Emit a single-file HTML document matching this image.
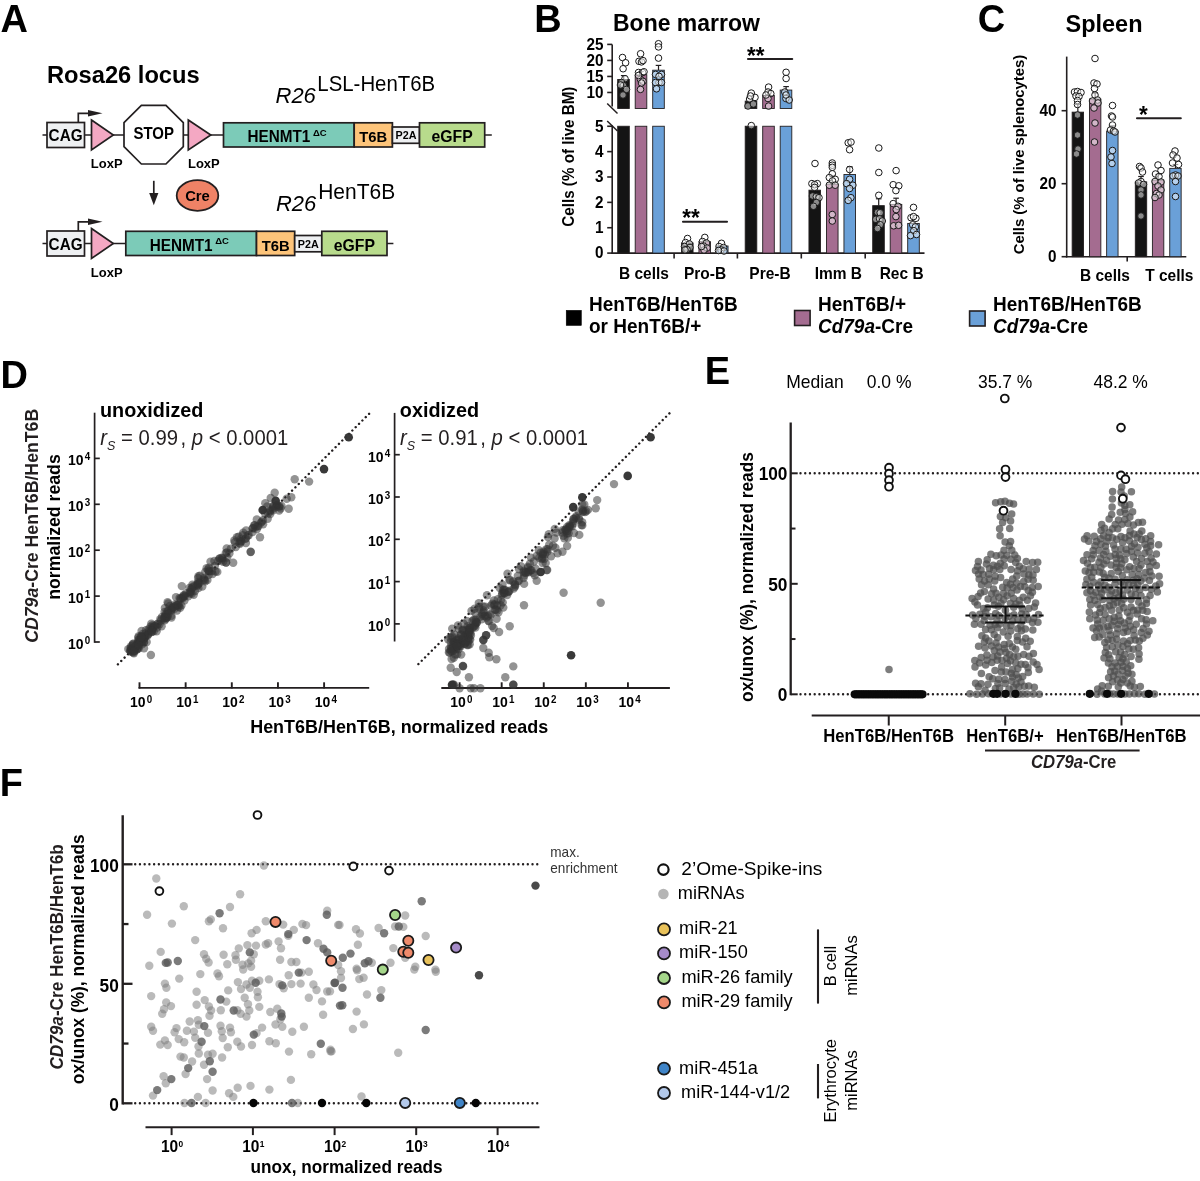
<!DOCTYPE html>
<html><head><meta charset="utf-8"><style>
html,body{margin:0;padding:0;background:#fff;}
svg{display:block;} .w{will-change:transform;}
text{font-family:"Liberation Sans", sans-serif;}
</style></head><body>
<div class="w"><svg width="1200" height="1181" viewBox="0 0 1200 1181">
<rect width="1200" height="1181" fill="#ffffff"/>
<text transform="translate(0.50 31.90) scale(1 1.045) translate(-0.50 -31.90)" x="0.50" y="31.90" font-size="38" font-weight="bold">A</text>
<text transform="translate(47.00 83.40) scale(1 1.045) translate(-47.00 -83.40)" x="47.00" y="83.40" font-size="23.7" font-weight="bold">Rosa26 locus</text>
<line x1="42.50" y1="135.00" x2="491.80" y2="135.00" stroke="#231f20" stroke-width="1.7"/>
<rect x="47.00" y="122.50" width="37.50" height="25.00" fill="#eef0f2" stroke="#231f20" stroke-width="1.7"/>
<text transform="translate(65.60 141.30) scale(1 1.045) translate(-65.60 -141.30)" x="65.60" y="141.30" font-size="15.3" font-weight="bold" text-anchor="middle">CAG</text>
<path d="M78.3,122.50 V113.30 H90" fill="none" stroke="#231f20" stroke-width="1.7"/>
<polygon points="88,110.00 102.5,113.30 88,116.60" fill="#231f20"/>
<polygon points="91.50,120.00 113.30,135.00 91.50,150.00" fill="#f4a8c3" stroke="#231f20" stroke-width="1.7"/>
<text transform="translate(90.80 168.30) scale(1 1.045) translate(-90.80 -168.30)" x="90.80" y="168.30" font-size="13" font-weight="bold">LoxP</text>
<polygon points="141.37,105.30 165.93,105.30 183.30,122.67 183.30,146.63 165.93,164.00 141.37,164.00 124.00,146.63 124.00,122.67" fill="#ffffff" stroke="#231f20" stroke-width="1.7"/>
<text transform="translate(153.70 138.80) scale(1 1.045) translate(-153.70 -138.80)" x="153.70" y="138.80" font-size="15" font-weight="bold" text-anchor="middle">STOP</text>
<polygon points="188.30,120.00 210.80,135.00 188.30,150.00" fill="#f4a8c3" stroke="#231f20" stroke-width="1.7"/>
<text transform="translate(188.00 168.30) scale(1 1.045) translate(-188.00 -168.30)" x="188.00" y="168.30" font-size="13" font-weight="bold">LoxP</text>
<rect x="223.50" y="122.80" width="130.70" height="24.20" fill="#7ccbb8" stroke="#231f20" stroke-width="1.7"/>
<text transform="translate(247.50 142.20) scale(1 1.045) translate(-247.50 -142.20)" x="247.50" y="142.20" font-size="15.3" font-weight="bold">HENMT1</text>
<text transform="translate(312.90 136.00) scale(1 1.045) translate(-312.90 -136.00)" x="312.90" y="136.00" font-size="9.5" font-weight="bold">ΔC</text>
<rect x="354.20" y="122.80" width="38.20" height="24.20" fill="#fdc47a" stroke="#231f20" stroke-width="1.7"/>
<text transform="translate(373.30 142.20) scale(1 1.045) translate(-373.30 -142.20)" x="373.30" y="142.20" font-size="14.8" font-weight="bold" text-anchor="middle">T6B</text>
<rect x="392.40" y="127.00" width="27.10" height="16.30" fill="#eef0f2" stroke="#231f20" stroke-width="1.7"/>
<text transform="translate(405.95 139.20) scale(1 1.045) translate(-405.95 -139.20)" x="405.95" y="139.20" font-size="10.8" font-weight="bold" text-anchor="middle">P2A</text>
<rect x="419.50" y="122.80" width="65.20" height="24.20" fill="#b8db8c" stroke="#231f20" stroke-width="1.7"/>
<text transform="translate(452.10 142.20) scale(1 1.045) translate(-452.10 -142.20)" x="452.10" y="142.20" font-size="15.8" font-weight="bold" text-anchor="middle">eGFP</text>
<line x1="42.50" y1="243.50" x2="393.40" y2="243.50" stroke="#231f20" stroke-width="1.7"/>
<rect x="47.00" y="231.00" width="37.50" height="25.00" fill="#eef0f2" stroke="#231f20" stroke-width="1.7"/>
<text transform="translate(65.60 249.80) scale(1 1.045) translate(-65.60 -249.80)" x="65.60" y="249.80" font-size="15.3" font-weight="bold" text-anchor="middle">CAG</text>
<path d="M78.3,231.00 V221.80 H90" fill="none" stroke="#231f20" stroke-width="1.7"/>
<polygon points="88,218.50 102.5,221.80 88,225.10" fill="#231f20"/>
<polygon points="91.50,228.50 113.30,243.50 91.50,258.50" fill="#f4a8c3" stroke="#231f20" stroke-width="1.7"/>
<text transform="translate(90.80 276.80) scale(1 1.045) translate(-90.80 -276.80)" x="90.80" y="276.80" font-size="13" font-weight="bold">LoxP</text>
<rect x="125.80" y="231.30" width="130.70" height="24.20" fill="#7ccbb8" stroke="#231f20" stroke-width="1.7"/>
<text transform="translate(149.80 250.70) scale(1 1.045) translate(-149.80 -250.70)" x="149.80" y="250.70" font-size="15.3" font-weight="bold">HENMT1</text>
<text transform="translate(215.20 244.50) scale(1 1.045) translate(-215.20 -244.50)" x="215.20" y="244.50" font-size="9.5" font-weight="bold">ΔC</text>
<rect x="256.50" y="231.30" width="38.20" height="24.20" fill="#fdc47a" stroke="#231f20" stroke-width="1.7"/>
<text transform="translate(275.60 250.70) scale(1 1.045) translate(-275.60 -250.70)" x="275.60" y="250.70" font-size="14.8" font-weight="bold" text-anchor="middle">T6B</text>
<rect x="294.70" y="235.50" width="27.10" height="16.30" fill="#eef0f2" stroke="#231f20" stroke-width="1.7"/>
<text transform="translate(308.25 247.70) scale(1 1.045) translate(-308.25 -247.70)" x="308.25" y="247.70" font-size="10.8" font-weight="bold" text-anchor="middle">P2A</text>
<rect x="321.80" y="231.30" width="65.20" height="24.20" fill="#b8db8c" stroke="#231f20" stroke-width="1.7"/>
<text transform="translate(354.40 250.70) scale(1 1.045) translate(-354.40 -250.70)" x="354.40" y="250.70" font-size="15.8" font-weight="bold" text-anchor="middle">eGFP</text>
<text transform="translate(275.50 103.20) scale(1 1.045) translate(-275.50 -103.20)" x="275.50" y="103.20" font-size="22" font-style="italic">R26</text>
<text transform="translate(317.30 91.50) scale(1 1.045) translate(-317.30 -91.50)" x="317.30" y="91.50" font-size="20.4">LSL-HenT6B</text>
<text transform="translate(276.00 210.80) scale(1 1.045) translate(-276.00 -210.80)" x="276.00" y="210.80" font-size="22" font-style="italic">R26</text>
<text transform="translate(318.20 199.00) scale(1 1.045) translate(-318.20 -199.00)" x="318.20" y="199.00" font-size="21">HenT6B</text>
<line x1="153.80" y1="180.80" x2="153.80" y2="196.00" stroke="#231f20" stroke-width="1.7"/>
<polygon points="149.2,193 158.4,193 153.8,205.3" fill="#231f20"/>
<ellipse cx="197.5" cy="195.5" rx="20.8" ry="15.3" fill="#ef8266" stroke="#231f20" stroke-width="1.8"/>
<text transform="translate(197.50 201.30) scale(1 1.045) translate(-197.50 -201.30)" x="197.50" y="201.30" font-size="14.8" font-weight="bold" text-anchor="middle">Cre</text>
<text transform="translate(534.20 32.00) scale(1 1.045) translate(-534.20 -32.00)" x="534.20" y="32.00" font-size="38" font-weight="bold">B</text>
<text transform="translate(613.00 31.40) scale(1 1.045) translate(-613.00 -31.40)" x="613.00" y="31.40" font-size="23" font-weight="bold">Bone marrow</text>
<line x1="612.20" y1="125.50" x2="612.20" y2="253.90" stroke="#231f20" stroke-width="1.6"/>
<line x1="612.20" y1="44.40" x2="612.20" y2="106.60" stroke="#231f20" stroke-width="1.6"/>
<line x1="611.40" y1="253.10" x2="924.50" y2="253.10" stroke="#231f20" stroke-width="1.6"/>
<line x1="607.20" y1="253.10" x2="612.20" y2="253.10" stroke="#231f20" stroke-width="1.6"/>
<text transform="translate(603.50 258.50) scale(1 1.045) translate(-603.50 -258.50)" x="603.50" y="258.50" font-size="15.3" font-weight="bold" text-anchor="end">0</text>
<line x1="607.20" y1="227.73" x2="612.20" y2="227.73" stroke="#231f20" stroke-width="1.6"/>
<text transform="translate(603.50 233.13) scale(1 1.045) translate(-603.50 -233.13)" x="603.50" y="233.13" font-size="15.3" font-weight="bold" text-anchor="end">1</text>
<line x1="607.20" y1="202.36" x2="612.20" y2="202.36" stroke="#231f20" stroke-width="1.6"/>
<text transform="translate(603.50 207.76) scale(1 1.045) translate(-603.50 -207.76)" x="603.50" y="207.76" font-size="15.3" font-weight="bold" text-anchor="end">2</text>
<line x1="607.20" y1="176.99" x2="612.20" y2="176.99" stroke="#231f20" stroke-width="1.6"/>
<text transform="translate(603.50 182.39) scale(1 1.045) translate(-603.50 -182.39)" x="603.50" y="182.39" font-size="15.3" font-weight="bold" text-anchor="end">3</text>
<line x1="607.20" y1="151.62" x2="612.20" y2="151.62" stroke="#231f20" stroke-width="1.6"/>
<text transform="translate(603.50 157.02) scale(1 1.045) translate(-603.50 -157.02)" x="603.50" y="157.02" font-size="15.3" font-weight="bold" text-anchor="end">4</text>
<line x1="607.20" y1="126.25" x2="612.20" y2="126.25" stroke="#231f20" stroke-width="1.6"/>
<text transform="translate(603.50 131.65) scale(1 1.045) translate(-603.50 -131.65)" x="603.50" y="131.65" font-size="15.3" font-weight="bold" text-anchor="end">5</text>
<line x1="607.20" y1="92.47" x2="612.20" y2="92.47" stroke="#231f20" stroke-width="1.6"/>
<text transform="translate(603.50 97.88) scale(1 1.045) translate(-603.50 -97.88)" x="603.50" y="97.88" font-size="15.3" font-weight="bold" text-anchor="end">10</text>
<line x1="607.20" y1="76.45" x2="612.20" y2="76.45" stroke="#231f20" stroke-width="1.6"/>
<text transform="translate(603.50 81.85) scale(1 1.045) translate(-603.50 -81.85)" x="603.50" y="81.85" font-size="15.3" font-weight="bold" text-anchor="end">15</text>
<line x1="607.20" y1="60.42" x2="612.20" y2="60.42" stroke="#231f20" stroke-width="1.6"/>
<text transform="translate(603.50 65.83) scale(1 1.045) translate(-603.50 -65.83)" x="603.50" y="65.83" font-size="15.3" font-weight="bold" text-anchor="end">20</text>
<line x1="607.20" y1="44.40" x2="612.20" y2="44.40" stroke="#231f20" stroke-width="1.6"/>
<text transform="translate(603.50 49.80) scale(1 1.045) translate(-603.50 -49.80)" x="603.50" y="49.80" font-size="15.3" font-weight="bold" text-anchor="end">25</text>
<line x1="607.20" y1="103.50" x2="617.50" y2="113.50" stroke="#231f20" stroke-width="1.5"/>
<line x1="607.20" y1="121.00" x2="617.50" y2="131.00" stroke="#231f20" stroke-width="1.5"/>
<line x1="674.10" y1="253.10" x2="674.10" y2="258.50" stroke="#231f20" stroke-width="1.6"/>
<line x1="737.40" y1="253.10" x2="737.40" y2="258.50" stroke="#231f20" stroke-width="1.6"/>
<line x1="801.30" y1="253.10" x2="801.30" y2="258.50" stroke="#231f20" stroke-width="1.6"/>
<line x1="865.20" y1="253.10" x2="865.20" y2="258.50" stroke="#231f20" stroke-width="1.6"/>
<text x="574.00" y="156.60" font-size="15.2" font-weight="bold" text-anchor="middle" transform="translate(574.00 156.60) rotate(-90) scale(1 1.045) translate(-574.00 -156.60)">Cells (% of live BM)</text>
<rect x="617.70" y="126.25" width="11.60" height="126.85" fill="#141414" stroke="#231f20" stroke-width="0.9"/>
<rect x="617.70" y="79.49" width="11.60" height="29.01" fill="#141414" stroke="#231f20" stroke-width="0.9"/>
<rect x="635.20" y="126.25" width="11.60" height="126.85" fill="#a46c90" stroke="#231f20" stroke-width="0.9"/>
<rect x="635.20" y="74.69" width="11.60" height="33.81" fill="#a46c90" stroke="#231f20" stroke-width="0.9"/>
<rect x="652.70" y="126.25" width="11.60" height="126.85" fill="#6aa0d8" stroke="#231f20" stroke-width="0.9"/>
<rect x="652.70" y="70.20" width="11.60" height="38.30" fill="#6aa0d8" stroke="#231f20" stroke-width="0.9"/>
<rect x="681.45" y="242.95" width="11.60" height="10.15" fill="#141414" stroke="#231f20" stroke-width="0.9"/>
<rect x="698.95" y="241.68" width="11.60" height="11.42" fill="#a46c90" stroke="#231f20" stroke-width="0.9"/>
<rect x="716.45" y="246.00" width="11.60" height="7.10" fill="#6aa0d8" stroke="#231f20" stroke-width="0.9"/>
<rect x="745.20" y="126.25" width="11.60" height="126.85" fill="#141414" stroke="#231f20" stroke-width="0.9"/>
<rect x="745.20" y="101.13" width="11.60" height="7.37" fill="#141414" stroke="#231f20" stroke-width="0.9"/>
<rect x="762.70" y="126.25" width="11.60" height="126.85" fill="#a46c90" stroke="#231f20" stroke-width="0.9"/>
<rect x="762.70" y="95.52" width="11.60" height="12.98" fill="#a46c90" stroke="#231f20" stroke-width="0.9"/>
<rect x="780.20" y="126.25" width="11.60" height="126.85" fill="#6aa0d8" stroke="#231f20" stroke-width="0.9"/>
<rect x="780.20" y="90.07" width="11.60" height="18.43" fill="#6aa0d8" stroke="#231f20" stroke-width="0.9"/>
<rect x="808.95" y="190.18" width="11.60" height="62.92" fill="#141414" stroke="#231f20" stroke-width="0.9"/>
<rect x="826.45" y="184.09" width="11.60" height="69.01" fill="#a46c90" stroke="#231f20" stroke-width="0.9"/>
<rect x="843.95" y="174.45" width="11.60" height="78.65" fill="#6aa0d8" stroke="#231f20" stroke-width="0.9"/>
<rect x="872.70" y="205.66" width="11.60" height="47.44" fill="#141414" stroke="#231f20" stroke-width="0.9"/>
<rect x="890.20" y="204.39" width="11.60" height="48.71" fill="#a46c90" stroke="#231f20" stroke-width="0.9"/>
<rect x="907.70" y="223.42" width="11.60" height="29.68" fill="#6aa0d8" stroke="#231f20" stroke-width="0.9"/>
<line x1="623.70" y1="75.60" x2="623.70" y2="79.49" stroke="#231f20" stroke-width="1.2"/>
<line x1="620.90" y1="75.60" x2="626.50" y2="75.60" stroke="#231f20" stroke-width="1.2"/>
<line x1="641.00" y1="71.50" x2="641.00" y2="74.69" stroke="#231f20" stroke-width="1.2"/>
<line x1="638.20" y1="71.50" x2="643.80" y2="71.50" stroke="#231f20" stroke-width="1.2"/>
<line x1="658.50" y1="65.40" x2="658.50" y2="70.20" stroke="#231f20" stroke-width="1.2"/>
<line x1="655.70" y1="65.40" x2="661.30" y2="65.40" stroke="#231f20" stroke-width="1.2"/>
<line x1="786.10" y1="86.60" x2="786.10" y2="90.07" stroke="#231f20" stroke-width="1.2"/>
<line x1="783.30" y1="86.60" x2="788.90" y2="86.60" stroke="#231f20" stroke-width="1.2"/>
<line x1="878.70" y1="198.80" x2="878.70" y2="205.66" stroke="#231f20" stroke-width="1.2"/>
<line x1="875.90" y1="198.80" x2="881.50" y2="198.80" stroke="#231f20" stroke-width="1.2"/>
<line x1="896.10" y1="198.20" x2="896.10" y2="204.39" stroke="#231f20" stroke-width="1.2"/>
<line x1="893.30" y1="198.20" x2="898.90" y2="198.20" stroke="#231f20" stroke-width="1.2"/>
<line x1="849.80" y1="166.80" x2="849.80" y2="174.45" stroke="#231f20" stroke-width="1.2"/>
<line x1="847.00" y1="166.80" x2="852.60" y2="166.80" stroke="#231f20" stroke-width="1.2"/>
<line x1="832.30" y1="176.00" x2="832.30" y2="184.09" stroke="#231f20" stroke-width="1.2"/>
<line x1="829.50" y1="176.00" x2="835.10" y2="176.00" stroke="#231f20" stroke-width="1.2"/>
<circle cx="622.50" cy="57.50" r="3.3" fill="#ffffff" fill-opacity="0.5" stroke="#1a1a1a" stroke-width="1.0"/>
<circle cx="625.60" cy="62.75" r="3.3" fill="#ffffff" fill-opacity="0.5" stroke="#1a1a1a" stroke-width="1.0"/>
<circle cx="623.10" cy="68.75" r="3.3" fill="#ffffff" fill-opacity="0.5" stroke="#1a1a1a" stroke-width="1.0"/>
<circle cx="625.00" cy="78.75" r="3.3" fill="#ffffff" fill-opacity="0.5" stroke="#1a1a1a" stroke-width="1.0"/>
<circle cx="621.50" cy="82.50" r="3.3" fill="#ffffff" fill-opacity="0.5" stroke="#1a1a1a" stroke-width="1.0"/>
<circle cx="623.50" cy="85.60" r="3.3" fill="#ffffff" fill-opacity="0.5" stroke="#1a1a1a" stroke-width="1.0"/>
<circle cx="626.50" cy="89.40" r="3.3" fill="#ffffff" fill-opacity="0.5" stroke="#1a1a1a" stroke-width="1.0"/>
<circle cx="623.00" cy="95.00" r="3.3" fill="#ffffff" fill-opacity="0.5" stroke="#1a1a1a" stroke-width="1.0"/>
<circle cx="620.50" cy="85.00" r="3.3" fill="#ffffff" fill-opacity="0.5" stroke="#1a1a1a" stroke-width="1.0"/>
<circle cx="640.60" cy="53.75" r="3.3" fill="#ffffff" fill-opacity="0.5" stroke="#1a1a1a" stroke-width="1.0"/>
<circle cx="639.00" cy="61.30" r="3.3" fill="#ffffff" fill-opacity="0.5" stroke="#1a1a1a" stroke-width="1.0"/>
<circle cx="641.50" cy="61.90" r="3.3" fill="#ffffff" fill-opacity="0.5" stroke="#1a1a1a" stroke-width="1.0"/>
<circle cx="643.00" cy="60.60" r="3.3" fill="#ffffff" fill-opacity="0.5" stroke="#1a1a1a" stroke-width="1.0"/>
<circle cx="638.50" cy="72.50" r="3.3" fill="#ffffff" fill-opacity="0.5" stroke="#1a1a1a" stroke-width="1.0"/>
<circle cx="642.50" cy="72.50" r="3.3" fill="#ffffff" fill-opacity="0.5" stroke="#1a1a1a" stroke-width="1.0"/>
<circle cx="644.00" cy="71.80" r="3.3" fill="#ffffff" fill-opacity="0.5" stroke="#1a1a1a" stroke-width="1.0"/>
<circle cx="640.50" cy="79.40" r="3.3" fill="#ffffff" fill-opacity="0.5" stroke="#1a1a1a" stroke-width="1.0"/>
<circle cx="643.00" cy="81.25" r="3.3" fill="#ffffff" fill-opacity="0.5" stroke="#1a1a1a" stroke-width="1.0"/>
<circle cx="641.50" cy="83.00" r="3.3" fill="#ffffff" fill-opacity="0.5" stroke="#1a1a1a" stroke-width="1.0"/>
<circle cx="640.50" cy="89.40" r="3.3" fill="#ffffff" fill-opacity="0.5" stroke="#1a1a1a" stroke-width="1.0"/>
<circle cx="638.50" cy="75.50" r="3.3" fill="#ffffff" fill-opacity="0.5" stroke="#1a1a1a" stroke-width="1.0"/>
<circle cx="658.50" cy="43.75" r="3.3" fill="#ffffff" fill-opacity="0.5" stroke="#1a1a1a" stroke-width="1.0"/>
<circle cx="658.50" cy="46.90" r="3.3" fill="#ffffff" fill-opacity="0.5" stroke="#1a1a1a" stroke-width="1.0"/>
<circle cx="658.50" cy="58.10" r="3.3" fill="#ffffff" fill-opacity="0.5" stroke="#1a1a1a" stroke-width="1.0"/>
<circle cx="655.50" cy="74.40" r="3.3" fill="#ffffff" fill-opacity="0.5" stroke="#1a1a1a" stroke-width="1.0"/>
<circle cx="661.50" cy="74.40" r="3.3" fill="#ffffff" fill-opacity="0.5" stroke="#1a1a1a" stroke-width="1.0"/>
<circle cx="659.00" cy="76.30" r="3.3" fill="#ffffff" fill-opacity="0.5" stroke="#1a1a1a" stroke-width="1.0"/>
<circle cx="659.00" cy="82.50" r="3.3" fill="#ffffff" fill-opacity="0.5" stroke="#1a1a1a" stroke-width="1.0"/>
<circle cx="655.50" cy="82.50" r="3.3" fill="#ffffff" fill-opacity="0.5" stroke="#1a1a1a" stroke-width="1.0"/>
<circle cx="661.50" cy="82.50" r="3.3" fill="#ffffff" fill-opacity="0.5" stroke="#1a1a1a" stroke-width="1.0"/>
<circle cx="656.50" cy="88.80" r="3.3" fill="#ffffff" fill-opacity="0.5" stroke="#1a1a1a" stroke-width="1.0"/>
<circle cx="687.50" cy="238.50" r="3.3" fill="#ffffff" fill-opacity="0.5" stroke="#1a1a1a" stroke-width="1.0"/>
<circle cx="685.50" cy="242.50" r="3.3" fill="#ffffff" fill-opacity="0.5" stroke="#1a1a1a" stroke-width="1.0"/>
<circle cx="689.50" cy="244.00" r="3.3" fill="#ffffff" fill-opacity="0.5" stroke="#1a1a1a" stroke-width="1.0"/>
<circle cx="684.50" cy="246.50" r="3.3" fill="#ffffff" fill-opacity="0.5" stroke="#1a1a1a" stroke-width="1.0"/>
<circle cx="690.00" cy="247.50" r="3.3" fill="#ffffff" fill-opacity="0.5" stroke="#1a1a1a" stroke-width="1.0"/>
<circle cx="687.00" cy="249.50" r="3.3" fill="#ffffff" fill-opacity="0.5" stroke="#1a1a1a" stroke-width="1.0"/>
<circle cx="685.00" cy="250.00" r="3.3" fill="#ffffff" fill-opacity="0.5" stroke="#1a1a1a" stroke-width="1.0"/>
<circle cx="704.80" cy="237.40" r="3.3" fill="#ffffff" fill-opacity="0.5" stroke="#1a1a1a" stroke-width="1.0"/>
<circle cx="702.50" cy="241.50" r="3.3" fill="#ffffff" fill-opacity="0.5" stroke="#1a1a1a" stroke-width="1.0"/>
<circle cx="706.50" cy="243.00" r="3.3" fill="#ffffff" fill-opacity="0.5" stroke="#1a1a1a" stroke-width="1.0"/>
<circle cx="703.50" cy="246.00" r="3.3" fill="#ffffff" fill-opacity="0.5" stroke="#1a1a1a" stroke-width="1.0"/>
<circle cx="707.00" cy="248.00" r="3.3" fill="#ffffff" fill-opacity="0.5" stroke="#1a1a1a" stroke-width="1.0"/>
<circle cx="704.00" cy="250.00" r="3.3" fill="#ffffff" fill-opacity="0.5" stroke="#1a1a1a" stroke-width="1.0"/>
<circle cx="701.50" cy="246.50" r="3.3" fill="#ffffff" fill-opacity="0.5" stroke="#1a1a1a" stroke-width="1.0"/>
<circle cx="721.50" cy="243.30" r="3.3" fill="#ffffff" fill-opacity="0.5" stroke="#1a1a1a" stroke-width="1.0"/>
<circle cx="719.00" cy="246.50" r="3.3" fill="#ffffff" fill-opacity="0.5" stroke="#1a1a1a" stroke-width="1.0"/>
<circle cx="723.50" cy="247.50" r="3.3" fill="#ffffff" fill-opacity="0.5" stroke="#1a1a1a" stroke-width="1.0"/>
<circle cx="721.00" cy="250.00" r="3.3" fill="#ffffff" fill-opacity="0.5" stroke="#1a1a1a" stroke-width="1.0"/>
<circle cx="724.00" cy="251.00" r="3.3" fill="#ffffff" fill-opacity="0.5" stroke="#1a1a1a" stroke-width="1.0"/>
<circle cx="718.50" cy="250.50" r="3.3" fill="#ffffff" fill-opacity="0.5" stroke="#1a1a1a" stroke-width="1.0"/>
<circle cx="751.30" cy="93.10" r="3.3" fill="#ffffff" fill-opacity="0.5" stroke="#1a1a1a" stroke-width="1.0"/>
<circle cx="749.60" cy="99.00" r="3.3" fill="#ffffff" fill-opacity="0.5" stroke="#1a1a1a" stroke-width="1.0"/>
<circle cx="755.00" cy="97.40" r="3.3" fill="#ffffff" fill-opacity="0.5" stroke="#1a1a1a" stroke-width="1.0"/>
<circle cx="748.00" cy="106.00" r="3.3" fill="#ffffff" fill-opacity="0.5" stroke="#1a1a1a" stroke-width="1.0"/>
<circle cx="753.40" cy="104.00" r="3.3" fill="#ffffff" fill-opacity="0.5" stroke="#1a1a1a" stroke-width="1.0"/>
<circle cx="750.50" cy="96.00" r="3.3" fill="#ffffff" fill-opacity="0.5" stroke="#1a1a1a" stroke-width="1.0"/>
<circle cx="768.60" cy="87.10" r="3.3" fill="#ffffff" fill-opacity="0.5" stroke="#1a1a1a" stroke-width="1.0"/>
<circle cx="768.00" cy="92.00" r="3.3" fill="#ffffff" fill-opacity="0.5" stroke="#1a1a1a" stroke-width="1.0"/>
<circle cx="770.80" cy="93.60" r="3.3" fill="#ffffff" fill-opacity="0.5" stroke="#1a1a1a" stroke-width="1.0"/>
<circle cx="768.00" cy="98.50" r="3.3" fill="#ffffff" fill-opacity="0.5" stroke="#1a1a1a" stroke-width="1.0"/>
<circle cx="768.60" cy="106.10" r="3.3" fill="#ffffff" fill-opacity="0.5" stroke="#1a1a1a" stroke-width="1.0"/>
<circle cx="766.00" cy="95.00" r="3.3" fill="#ffffff" fill-opacity="0.5" stroke="#1a1a1a" stroke-width="1.0"/>
<circle cx="786.10" cy="72.30" r="3.3" fill="#ffffff" fill-opacity="0.5" stroke="#1a1a1a" stroke-width="1.0"/>
<circle cx="786.10" cy="78.50" r="3.3" fill="#ffffff" fill-opacity="0.5" stroke="#1a1a1a" stroke-width="1.0"/>
<circle cx="784.80" cy="92.00" r="3.3" fill="#ffffff" fill-opacity="0.5" stroke="#1a1a1a" stroke-width="1.0"/>
<circle cx="785.90" cy="98.50" r="3.3" fill="#ffffff" fill-opacity="0.5" stroke="#1a1a1a" stroke-width="1.0"/>
<circle cx="789.20" cy="100.00" r="3.3" fill="#ffffff" fill-opacity="0.5" stroke="#1a1a1a" stroke-width="1.0"/>
<circle cx="786.00" cy="95.00" r="3.3" fill="#ffffff" fill-opacity="0.5" stroke="#1a1a1a" stroke-width="1.0"/>
<circle cx="751.30" cy="125.60" r="3.3" fill="#ffffff" fill-opacity="0.5" stroke="#1a1a1a" stroke-width="1.0"/>
<circle cx="815.00" cy="163.50" r="3.3" fill="#ffffff" fill-opacity="0.5" stroke="#1a1a1a" stroke-width="1.0"/>
<circle cx="811.90" cy="183.60" r="3.3" fill="#ffffff" fill-opacity="0.5" stroke="#1a1a1a" stroke-width="1.0"/>
<circle cx="817.30" cy="183.60" r="3.3" fill="#ffffff" fill-opacity="0.5" stroke="#1a1a1a" stroke-width="1.0"/>
<circle cx="814.60" cy="184.70" r="3.3" fill="#ffffff" fill-opacity="0.5" stroke="#1a1a1a" stroke-width="1.0"/>
<circle cx="814.60" cy="187.40" r="3.3" fill="#ffffff" fill-opacity="0.5" stroke="#1a1a1a" stroke-width="1.0"/>
<circle cx="812.50" cy="196.00" r="3.3" fill="#ffffff" fill-opacity="0.5" stroke="#1a1a1a" stroke-width="1.0"/>
<circle cx="816.30" cy="196.60" r="3.3" fill="#ffffff" fill-opacity="0.5" stroke="#1a1a1a" stroke-width="1.0"/>
<circle cx="819.00" cy="197.70" r="3.3" fill="#ffffff" fill-opacity="0.5" stroke="#1a1a1a" stroke-width="1.0"/>
<circle cx="816.30" cy="202.50" r="3.3" fill="#ffffff" fill-opacity="0.5" stroke="#1a1a1a" stroke-width="1.0"/>
<circle cx="813.50" cy="206.30" r="3.3" fill="#ffffff" fill-opacity="0.5" stroke="#1a1a1a" stroke-width="1.0"/>
<circle cx="832.30" cy="163.00" r="3.3" fill="#ffffff" fill-opacity="0.5" stroke="#1a1a1a" stroke-width="1.0"/>
<circle cx="832.30" cy="165.20" r="3.3" fill="#ffffff" fill-opacity="0.5" stroke="#1a1a1a" stroke-width="1.0"/>
<circle cx="832.30" cy="167.30" r="3.3" fill="#ffffff" fill-opacity="0.5" stroke="#1a1a1a" stroke-width="1.0"/>
<circle cx="832.30" cy="173.80" r="3.3" fill="#ffffff" fill-opacity="0.5" stroke="#1a1a1a" stroke-width="1.0"/>
<circle cx="829.30" cy="177.60" r="3.3" fill="#ffffff" fill-opacity="0.5" stroke="#1a1a1a" stroke-width="1.0"/>
<circle cx="835.20" cy="179.30" r="3.3" fill="#ffffff" fill-opacity="0.5" stroke="#1a1a1a" stroke-width="1.0"/>
<circle cx="832.50" cy="180.90" r="3.3" fill="#ffffff" fill-opacity="0.5" stroke="#1a1a1a" stroke-width="1.0"/>
<circle cx="829.30" cy="185.20" r="3.3" fill="#ffffff" fill-opacity="0.5" stroke="#1a1a1a" stroke-width="1.0"/>
<circle cx="835.20" cy="185.20" r="3.3" fill="#ffffff" fill-opacity="0.5" stroke="#1a1a1a" stroke-width="1.0"/>
<circle cx="832.30" cy="214.50" r="3.3" fill="#ffffff" fill-opacity="0.5" stroke="#1a1a1a" stroke-width="1.0"/>
<circle cx="832.30" cy="221.00" r="3.3" fill="#ffffff" fill-opacity="0.5" stroke="#1a1a1a" stroke-width="1.0"/>
<circle cx="848.20" cy="142.80" r="3.3" fill="#ffffff" fill-opacity="0.5" stroke="#1a1a1a" stroke-width="1.0"/>
<circle cx="851.00" cy="142.10" r="3.3" fill="#ffffff" fill-opacity="0.5" stroke="#1a1a1a" stroke-width="1.0"/>
<circle cx="849.60" cy="149.70" r="3.3" fill="#ffffff" fill-opacity="0.5" stroke="#1a1a1a" stroke-width="1.0"/>
<circle cx="849.60" cy="169.50" r="3.3" fill="#ffffff" fill-opacity="0.5" stroke="#1a1a1a" stroke-width="1.0"/>
<circle cx="849.60" cy="179.30" r="3.3" fill="#ffffff" fill-opacity="0.5" stroke="#1a1a1a" stroke-width="1.0"/>
<circle cx="846.60" cy="183.60" r="3.3" fill="#ffffff" fill-opacity="0.5" stroke="#1a1a1a" stroke-width="1.0"/>
<circle cx="852.90" cy="185.20" r="3.3" fill="#ffffff" fill-opacity="0.5" stroke="#1a1a1a" stroke-width="1.0"/>
<circle cx="849.60" cy="188.50" r="3.3" fill="#ffffff" fill-opacity="0.5" stroke="#1a1a1a" stroke-width="1.0"/>
<circle cx="850.90" cy="197.70" r="3.3" fill="#ffffff" fill-opacity="0.5" stroke="#1a1a1a" stroke-width="1.0"/>
<circle cx="848.20" cy="200.40" r="3.3" fill="#ffffff" fill-opacity="0.5" stroke="#1a1a1a" stroke-width="1.0"/>
<circle cx="878.80" cy="148.00" r="3.3" fill="#ffffff" fill-opacity="0.5" stroke="#1a1a1a" stroke-width="1.0"/>
<circle cx="878.80" cy="172.50" r="3.3" fill="#ffffff" fill-opacity="0.5" stroke="#1a1a1a" stroke-width="1.0"/>
<circle cx="878.80" cy="195.30" r="3.3" fill="#ffffff" fill-opacity="0.5" stroke="#1a1a1a" stroke-width="1.0"/>
<circle cx="877.50" cy="212.30" r="3.3" fill="#ffffff" fill-opacity="0.5" stroke="#1a1a1a" stroke-width="1.0"/>
<circle cx="880.20" cy="212.80" r="3.3" fill="#ffffff" fill-opacity="0.5" stroke="#1a1a1a" stroke-width="1.0"/>
<circle cx="875.80" cy="219.30" r="3.3" fill="#ffffff" fill-opacity="0.5" stroke="#1a1a1a" stroke-width="1.0"/>
<circle cx="879.60" cy="218.80" r="3.3" fill="#ffffff" fill-opacity="0.5" stroke="#1a1a1a" stroke-width="1.0"/>
<circle cx="882.30" cy="221.00" r="3.3" fill="#ffffff" fill-opacity="0.5" stroke="#1a1a1a" stroke-width="1.0"/>
<circle cx="880.20" cy="224.80" r="3.3" fill="#ffffff" fill-opacity="0.5" stroke="#1a1a1a" stroke-width="1.0"/>
<circle cx="877.50" cy="228.50" r="3.3" fill="#ffffff" fill-opacity="0.5" stroke="#1a1a1a" stroke-width="1.0"/>
<circle cx="896.10" cy="170.60" r="3.3" fill="#ffffff" fill-opacity="0.5" stroke="#1a1a1a" stroke-width="1.0"/>
<circle cx="893.20" cy="184.70" r="3.3" fill="#ffffff" fill-opacity="0.5" stroke="#1a1a1a" stroke-width="1.0"/>
<circle cx="898.80" cy="185.80" r="3.3" fill="#ffffff" fill-opacity="0.5" stroke="#1a1a1a" stroke-width="1.0"/>
<circle cx="895.90" cy="190.60" r="3.3" fill="#ffffff" fill-opacity="0.5" stroke="#1a1a1a" stroke-width="1.0"/>
<circle cx="893.20" cy="203.60" r="3.3" fill="#ffffff" fill-opacity="0.5" stroke="#1a1a1a" stroke-width="1.0"/>
<circle cx="898.00" cy="206.30" r="3.3" fill="#ffffff" fill-opacity="0.5" stroke="#1a1a1a" stroke-width="1.0"/>
<circle cx="896.20" cy="209.60" r="3.3" fill="#ffffff" fill-opacity="0.5" stroke="#1a1a1a" stroke-width="1.0"/>
<circle cx="895.90" cy="216.60" r="3.3" fill="#ffffff" fill-opacity="0.5" stroke="#1a1a1a" stroke-width="1.0"/>
<circle cx="893.70" cy="225.80" r="3.3" fill="#ffffff" fill-opacity="0.5" stroke="#1a1a1a" stroke-width="1.0"/>
<circle cx="898.60" cy="225.30" r="3.3" fill="#ffffff" fill-opacity="0.5" stroke="#1a1a1a" stroke-width="1.0"/>
<circle cx="913.50" cy="207.40" r="3.3" fill="#ffffff" fill-opacity="0.5" stroke="#1a1a1a" stroke-width="1.0"/>
<circle cx="911.00" cy="217.70" r="3.3" fill="#ffffff" fill-opacity="0.5" stroke="#1a1a1a" stroke-width="1.0"/>
<circle cx="915.90" cy="218.30" r="3.3" fill="#ffffff" fill-opacity="0.5" stroke="#1a1a1a" stroke-width="1.0"/>
<circle cx="913.50" cy="216.60" r="3.3" fill="#ffffff" fill-opacity="0.5" stroke="#1a1a1a" stroke-width="1.0"/>
<circle cx="912.70" cy="224.80" r="3.3" fill="#ffffff" fill-opacity="0.5" stroke="#1a1a1a" stroke-width="1.0"/>
<circle cx="915.40" cy="226.90" r="3.3" fill="#ffffff" fill-opacity="0.5" stroke="#1a1a1a" stroke-width="1.0"/>
<circle cx="913.80" cy="230.70" r="3.3" fill="#ffffff" fill-opacity="0.5" stroke="#1a1a1a" stroke-width="1.0"/>
<circle cx="910.50" cy="235.60" r="3.3" fill="#ffffff" fill-opacity="0.5" stroke="#1a1a1a" stroke-width="1.0"/>
<circle cx="916.50" cy="234.50" r="3.3" fill="#ffffff" fill-opacity="0.5" stroke="#1a1a1a" stroke-width="1.0"/>
<text transform="translate(682.30 225.80) scale(1 1.045) translate(-682.30 -225.80)" x="682.30" y="225.80" font-size="22.5" font-weight="bold">**</text>
<line x1="683.00" y1="221.70" x2="727.00" y2="221.70" stroke="#231f20" stroke-width="2.1" stroke-linecap="round"/>
<text transform="translate(747.10 63.60) scale(1 1.045) translate(-747.10 -63.60)" x="747.10" y="63.60" font-size="22.5" font-weight="bold">**</text>
<line x1="748.00" y1="59.00" x2="792.20" y2="59.00" stroke="#231f20" stroke-width="2.1" stroke-linecap="round"/>
<text transform="translate(644.00 278.60) scale(1 1.045) translate(-644.00 -278.60)" x="644.00" y="278.60" font-size="15.5" font-weight="bold" text-anchor="middle">B cells</text>
<text transform="translate(705.00 278.60) scale(1 1.045) translate(-705.00 -278.60)" x="705.00" y="278.60" font-size="15.5" font-weight="bold" text-anchor="middle">Pro-B</text>
<text transform="translate(770.00 278.60) scale(1 1.045) translate(-770.00 -278.60)" x="770.00" y="278.60" font-size="15.5" font-weight="bold" text-anchor="middle">Pre-B</text>
<text transform="translate(838.35 278.60) scale(1 1.045) translate(-838.35 -278.60)" x="838.35" y="278.60" font-size="15.5" font-weight="bold" text-anchor="middle">Imm B</text>
<text transform="translate(901.65 278.60) scale(1 1.045) translate(-901.65 -278.60)" x="901.65" y="278.60" font-size="15.5" font-weight="bold" text-anchor="middle">Rec B</text>
<rect x="566.20" y="310.30" width="15.20" height="15.20" fill="#000000" stroke="#000000" stroke-width="0.5"/>
<text transform="translate(589.00 310.60) scale(1 1.045) translate(-589.00 -310.60)" x="589.00" y="310.60" font-size="19" font-weight="bold">HenT6B/HenT6B</text>
<text transform="translate(589.00 332.80) scale(1 1.045) translate(-589.00 -332.80)" x="589.00" y="332.80" font-size="19" font-weight="bold">or HenT6B/+</text>
<rect x="794.60" y="310.50" width="15.50" height="15.00" fill="#a46c90" stroke="#231f20" stroke-width="1.6"/>
<text transform="translate(818.00 310.80) scale(1 1.045) translate(-818.00 -310.80)" x="818.00" y="310.80" font-size="19" font-weight="bold">HenT6B/+</text>
<text transform="translate(818.00 333.30) scale(1 1.045) translate(-818.00 -333.30)" x="818.00" y="333.30" font-size="19" font-weight="bold"><tspan font-style="italic">Cd79a</tspan>-Cre</text>
<rect x="969.60" y="311.00" width="15.50" height="15.00" fill="#6aa0d8" stroke="#231f20" stroke-width="1.6"/>
<text transform="translate(993.00 310.80) scale(1 1.045) translate(-993.00 -310.80)" x="993.00" y="310.80" font-size="19" font-weight="bold">HenT6B/HenT6B</text>
<text transform="translate(993.00 333.30) scale(1 1.045) translate(-993.00 -333.30)" x="993.00" y="333.30" font-size="19" font-weight="bold"><tspan font-style="italic">Cd79a</tspan>-Cre</text>
<text transform="translate(977.80 31.90) scale(1 1.045) translate(-977.80 -31.90)" x="977.80" y="31.90" font-size="38" font-weight="bold">C</text>
<text transform="translate(1065.50 32.00) scale(1 1.045) translate(-1065.50 -32.00)" x="1065.50" y="32.00" font-size="23.5" font-weight="bold">Spleen</text>
<line x1="1066.70" y1="56.60" x2="1066.70" y2="257.50" stroke="#231f20" stroke-width="1.6"/>
<line x1="1065.90" y1="256.70" x2="1186.30" y2="256.70" stroke="#231f20" stroke-width="1.6"/>
<line x1="1127.20" y1="256.70" x2="1127.20" y2="261.50" stroke="#231f20" stroke-width="1.6"/>
<line x1="1061.60" y1="256.70" x2="1066.70" y2="256.70" stroke="#231f20" stroke-width="1.6"/>
<text transform="translate(1056.60 262.00) scale(1 1.045) translate(-1056.60 -262.00)" x="1056.60" y="262.00" font-size="15.3" font-weight="bold" text-anchor="end">0</text>
<line x1="1061.60" y1="183.70" x2="1066.70" y2="183.70" stroke="#231f20" stroke-width="1.6"/>
<text transform="translate(1056.60 189.00) scale(1 1.045) translate(-1056.60 -189.00)" x="1056.60" y="189.00" font-size="15.3" font-weight="bold" text-anchor="end">20</text>
<line x1="1061.60" y1="110.70" x2="1066.70" y2="110.70" stroke="#231f20" stroke-width="1.6"/>
<text transform="translate(1056.60 116.00) scale(1 1.045) translate(-1056.60 -116.00)" x="1056.60" y="116.00" font-size="15.3" font-weight="bold" text-anchor="end">40</text>
<text x="1023.60" y="154.50" font-size="14.85" font-weight="bold" text-anchor="middle" transform="translate(1023.60 154.50) rotate(-90) scale(1 1.045) translate(-1023.60 -154.50)">Cells (% of live splenocytes)</text>
<rect x="1072.15" y="112.16" width="11.40" height="144.54" fill="#141414" stroke="#231f20" stroke-width="0.9"/>
<rect x="1089.45" y="99.02" width="11.40" height="157.68" fill="#a46c90" stroke="#231f20" stroke-width="0.9"/>
<rect x="1106.65" y="131.14" width="11.40" height="125.56" fill="#6aa0d8" stroke="#231f20" stroke-width="0.9"/>
<rect x="1135.30" y="181.88" width="11.40" height="74.82" fill="#141414" stroke="#231f20" stroke-width="0.9"/>
<rect x="1152.40" y="180.05" width="11.40" height="76.65" fill="#a46c90" stroke="#231f20" stroke-width="0.9"/>
<rect x="1169.75" y="168.37" width="11.40" height="88.33" fill="#6aa0d8" stroke="#231f20" stroke-width="0.9"/>
<line x1="1077.85" y1="104.20" x2="1077.85" y2="112.16" stroke="#231f20" stroke-width="1.2"/>
<line x1="1075.05" y1="104.20" x2="1080.65" y2="104.20" stroke="#231f20" stroke-width="1.2"/>
<line x1="1095.15" y1="93.00" x2="1095.15" y2="99.02" stroke="#231f20" stroke-width="1.2"/>
<line x1="1092.35" y1="93.00" x2="1097.95" y2="93.00" stroke="#231f20" stroke-width="1.2"/>
<line x1="1112.35" y1="126.00" x2="1112.35" y2="131.14" stroke="#231f20" stroke-width="1.2"/>
<line x1="1109.55" y1="126.00" x2="1115.15" y2="126.00" stroke="#231f20" stroke-width="1.2"/>
<line x1="1141.00" y1="176.50" x2="1141.00" y2="181.88" stroke="#231f20" stroke-width="1.2"/>
<line x1="1138.20" y1="176.50" x2="1143.80" y2="176.50" stroke="#231f20" stroke-width="1.2"/>
<line x1="1158.10" y1="174.50" x2="1158.10" y2="180.05" stroke="#231f20" stroke-width="1.2"/>
<line x1="1155.30" y1="174.50" x2="1160.90" y2="174.50" stroke="#231f20" stroke-width="1.2"/>
<line x1="1175.45" y1="164.50" x2="1175.45" y2="168.37" stroke="#231f20" stroke-width="1.2"/>
<line x1="1172.65" y1="164.50" x2="1178.25" y2="164.50" stroke="#231f20" stroke-width="1.2"/>
<circle cx="1074.50" cy="92.00" r="3.3" fill="#ffffff" fill-opacity="0.5" stroke="#1a1a1a" stroke-width="1.0"/>
<circle cx="1077.50" cy="91.50" r="3.3" fill="#ffffff" fill-opacity="0.5" stroke="#1a1a1a" stroke-width="1.0"/>
<circle cx="1081.00" cy="92.50" r="3.3" fill="#ffffff" fill-opacity="0.5" stroke="#1a1a1a" stroke-width="1.0"/>
<circle cx="1076.00" cy="96.00" r="3.3" fill="#ffffff" fill-opacity="0.5" stroke="#1a1a1a" stroke-width="1.0"/>
<circle cx="1079.00" cy="96.50" r="3.3" fill="#ffffff" fill-opacity="0.5" stroke="#1a1a1a" stroke-width="1.0"/>
<circle cx="1077.50" cy="100.50" r="3.3" fill="#ffffff" fill-opacity="0.5" stroke="#1a1a1a" stroke-width="1.0"/>
<circle cx="1077.50" cy="104.50" r="3.3" fill="#ffffff" fill-opacity="0.5" stroke="#1a1a1a" stroke-width="1.0"/>
<circle cx="1077.50" cy="115.00" r="3.3" fill="#ffffff" fill-opacity="0.5" stroke="#1a1a1a" stroke-width="1.0"/>
<circle cx="1077.50" cy="135.00" r="3.3" fill="#ffffff" fill-opacity="0.5" stroke="#1a1a1a" stroke-width="1.0"/>
<circle cx="1078.00" cy="149.00" r="3.3" fill="#ffffff" fill-opacity="0.5" stroke="#1a1a1a" stroke-width="1.0"/>
<circle cx="1076.50" cy="154.00" r="3.3" fill="#ffffff" fill-opacity="0.5" stroke="#1a1a1a" stroke-width="1.0"/>
<circle cx="1095.00" cy="58.50" r="3.3" fill="#ffffff" fill-opacity="0.5" stroke="#1a1a1a" stroke-width="1.0"/>
<circle cx="1094.00" cy="83.00" r="3.3" fill="#ffffff" fill-opacity="0.5" stroke="#1a1a1a" stroke-width="1.0"/>
<circle cx="1097.00" cy="84.00" r="3.3" fill="#ffffff" fill-opacity="0.5" stroke="#1a1a1a" stroke-width="1.0"/>
<circle cx="1094.50" cy="88.50" r="3.3" fill="#ffffff" fill-opacity="0.5" stroke="#1a1a1a" stroke-width="1.0"/>
<circle cx="1095.00" cy="95.00" r="3.3" fill="#ffffff" fill-opacity="0.5" stroke="#1a1a1a" stroke-width="1.0"/>
<circle cx="1097.50" cy="100.00" r="3.3" fill="#ffffff" fill-opacity="0.5" stroke="#1a1a1a" stroke-width="1.0"/>
<circle cx="1092.50" cy="101.00" r="3.3" fill="#ffffff" fill-opacity="0.5" stroke="#1a1a1a" stroke-width="1.0"/>
<circle cx="1098.00" cy="103.00" r="3.3" fill="#ffffff" fill-opacity="0.5" stroke="#1a1a1a" stroke-width="1.0"/>
<circle cx="1094.00" cy="108.00" r="3.3" fill="#ffffff" fill-opacity="0.5" stroke="#1a1a1a" stroke-width="1.0"/>
<circle cx="1095.00" cy="123.00" r="3.3" fill="#ffffff" fill-opacity="0.5" stroke="#1a1a1a" stroke-width="1.0"/>
<circle cx="1094.50" cy="142.00" r="3.3" fill="#ffffff" fill-opacity="0.5" stroke="#1a1a1a" stroke-width="1.0"/>
<circle cx="1112.50" cy="105.50" r="3.3" fill="#ffffff" fill-opacity="0.5" stroke="#1a1a1a" stroke-width="1.0"/>
<circle cx="1111.50" cy="116.00" r="3.3" fill="#ffffff" fill-opacity="0.5" stroke="#1a1a1a" stroke-width="1.0"/>
<circle cx="1112.50" cy="117.00" r="3.3" fill="#ffffff" fill-opacity="0.5" stroke="#1a1a1a" stroke-width="1.0"/>
<circle cx="1112.50" cy="125.00" r="3.3" fill="#ffffff" fill-opacity="0.5" stroke="#1a1a1a" stroke-width="1.0"/>
<circle cx="1110.50" cy="130.00" r="3.3" fill="#ffffff" fill-opacity="0.5" stroke="#1a1a1a" stroke-width="1.0"/>
<circle cx="1113.50" cy="131.00" r="3.3" fill="#ffffff" fill-opacity="0.5" stroke="#1a1a1a" stroke-width="1.0"/>
<circle cx="1115.00" cy="132.00" r="3.3" fill="#ffffff" fill-opacity="0.5" stroke="#1a1a1a" stroke-width="1.0"/>
<circle cx="1112.50" cy="150.50" r="3.3" fill="#ffffff" fill-opacity="0.5" stroke="#1a1a1a" stroke-width="1.0"/>
<circle cx="1111.00" cy="157.00" r="3.3" fill="#ffffff" fill-opacity="0.5" stroke="#1a1a1a" stroke-width="1.0"/>
<circle cx="1112.00" cy="163.50" r="3.3" fill="#ffffff" fill-opacity="0.5" stroke="#1a1a1a" stroke-width="1.0"/>
<circle cx="1139.50" cy="166.50" r="3.3" fill="#ffffff" fill-opacity="0.5" stroke="#1a1a1a" stroke-width="1.0"/>
<circle cx="1141.00" cy="168.00" r="3.3" fill="#ffffff" fill-opacity="0.5" stroke="#1a1a1a" stroke-width="1.0"/>
<circle cx="1142.50" cy="172.00" r="3.3" fill="#ffffff" fill-opacity="0.5" stroke="#1a1a1a" stroke-width="1.0"/>
<circle cx="1141.00" cy="181.50" r="3.3" fill="#ffffff" fill-opacity="0.5" stroke="#1a1a1a" stroke-width="1.0"/>
<circle cx="1138.50" cy="183.00" r="3.3" fill="#ffffff" fill-opacity="0.5" stroke="#1a1a1a" stroke-width="1.0"/>
<circle cx="1143.50" cy="184.50" r="3.3" fill="#ffffff" fill-opacity="0.5" stroke="#1a1a1a" stroke-width="1.0"/>
<circle cx="1141.00" cy="190.00" r="3.3" fill="#ffffff" fill-opacity="0.5" stroke="#1a1a1a" stroke-width="1.0"/>
<circle cx="1141.00" cy="195.00" r="3.3" fill="#ffffff" fill-opacity="0.5" stroke="#1a1a1a" stroke-width="1.0"/>
<circle cx="1141.00" cy="216.00" r="3.3" fill="#ffffff" fill-opacity="0.5" stroke="#1a1a1a" stroke-width="1.0"/>
<circle cx="1158.00" cy="165.00" r="3.3" fill="#ffffff" fill-opacity="0.5" stroke="#1a1a1a" stroke-width="1.0"/>
<circle cx="1161.00" cy="170.50" r="3.3" fill="#ffffff" fill-opacity="0.5" stroke="#1a1a1a" stroke-width="1.0"/>
<circle cx="1155.50" cy="174.00" r="3.3" fill="#ffffff" fill-opacity="0.5" stroke="#1a1a1a" stroke-width="1.0"/>
<circle cx="1159.00" cy="176.50" r="3.3" fill="#ffffff" fill-opacity="0.5" stroke="#1a1a1a" stroke-width="1.0"/>
<circle cx="1155.00" cy="181.50" r="3.3" fill="#ffffff" fill-opacity="0.5" stroke="#1a1a1a" stroke-width="1.0"/>
<circle cx="1161.00" cy="182.00" r="3.3" fill="#ffffff" fill-opacity="0.5" stroke="#1a1a1a" stroke-width="1.0"/>
<circle cx="1158.00" cy="186.00" r="3.3" fill="#ffffff" fill-opacity="0.5" stroke="#1a1a1a" stroke-width="1.0"/>
<circle cx="1161.00" cy="190.00" r="3.3" fill="#ffffff" fill-opacity="0.5" stroke="#1a1a1a" stroke-width="1.0"/>
<circle cx="1156.50" cy="193.50" r="3.3" fill="#ffffff" fill-opacity="0.5" stroke="#1a1a1a" stroke-width="1.0"/>
<circle cx="1159.00" cy="195.00" r="3.3" fill="#ffffff" fill-opacity="0.5" stroke="#1a1a1a" stroke-width="1.0"/>
<circle cx="1155.00" cy="197.50" r="3.3" fill="#ffffff" fill-opacity="0.5" stroke="#1a1a1a" stroke-width="1.0"/>
<circle cx="1175.00" cy="151.00" r="3.3" fill="#ffffff" fill-opacity="0.5" stroke="#1a1a1a" stroke-width="1.0"/>
<circle cx="1173.00" cy="155.00" r="3.3" fill="#ffffff" fill-opacity="0.5" stroke="#1a1a1a" stroke-width="1.0"/>
<circle cx="1177.00" cy="158.00" r="3.3" fill="#ffffff" fill-opacity="0.5" stroke="#1a1a1a" stroke-width="1.0"/>
<circle cx="1172.50" cy="163.00" r="3.3" fill="#ffffff" fill-opacity="0.5" stroke="#1a1a1a" stroke-width="1.0"/>
<circle cx="1178.50" cy="164.50" r="3.3" fill="#ffffff" fill-opacity="0.5" stroke="#1a1a1a" stroke-width="1.0"/>
<circle cx="1175.50" cy="175.00" r="3.3" fill="#ffffff" fill-opacity="0.5" stroke="#1a1a1a" stroke-width="1.0"/>
<circle cx="1173.00" cy="176.00" r="3.3" fill="#ffffff" fill-opacity="0.5" stroke="#1a1a1a" stroke-width="1.0"/>
<circle cx="1178.00" cy="176.00" r="3.3" fill="#ffffff" fill-opacity="0.5" stroke="#1a1a1a" stroke-width="1.0"/>
<circle cx="1175.50" cy="181.50" r="3.3" fill="#ffffff" fill-opacity="0.5" stroke="#1a1a1a" stroke-width="1.0"/>
<circle cx="1175.50" cy="196.50" r="3.3" fill="#ffffff" fill-opacity="0.5" stroke="#1a1a1a" stroke-width="1.0"/>
<text transform="translate(1139.00 122.90) scale(1 1.045) translate(-1139.00 -122.90)" x="1139.00" y="122.90" font-size="22.5" font-weight="bold">*</text>
<line x1="1137.00" y1="118.30" x2="1180.80" y2="118.30" stroke="#231f20" stroke-width="2.1" stroke-linecap="round"/>
<text transform="translate(1104.90 281.50) scale(1 1.045) translate(-1104.90 -281.50)" x="1104.90" y="281.50" font-size="15.5" font-weight="bold" text-anchor="middle">B cells</text>
<text transform="translate(1169.30 281.50) scale(1 1.045) translate(-1169.30 -281.50)" x="1169.30" y="281.50" font-size="15.5" font-weight="bold" text-anchor="middle">T cells</text>
<text transform="translate(0.40 388.40) scale(1 1.045) translate(-0.40 -388.40)" x="0.40" y="388.40" font-size="38" font-weight="bold">D</text>
<line x1="94.60" y1="412.70" x2="94.60" y2="642.80" stroke="#231f20" stroke-width="1.7"/>
<line x1="94.60" y1="642.00" x2="99.80" y2="642.00" stroke="#231f20" stroke-width="1.7"/>
<text transform="translate(83.50 649.00) scale(1 1.045) translate(-83.50 -649.00)" x="83.50" y="649.00" font-size="14" font-weight="bold" text-anchor="end">10</text>
<text transform="translate(84.80 644.00) scale(1 1.045) translate(-84.80 -644.00)" x="84.80" y="644.00" font-size="9.8" font-weight="bold">0</text>
<line x1="94.60" y1="596.10" x2="99.80" y2="596.10" stroke="#231f20" stroke-width="1.7"/>
<text transform="translate(83.50 603.10) scale(1 1.045) translate(-83.50 -603.10)" x="83.50" y="603.10" font-size="14" font-weight="bold" text-anchor="end">10</text>
<text transform="translate(84.80 598.10) scale(1 1.045) translate(-84.80 -598.10)" x="84.80" y="598.10" font-size="9.8" font-weight="bold">1</text>
<line x1="94.60" y1="550.20" x2="99.80" y2="550.20" stroke="#231f20" stroke-width="1.7"/>
<text transform="translate(83.50 557.20) scale(1 1.045) translate(-83.50 -557.20)" x="83.50" y="557.20" font-size="14" font-weight="bold" text-anchor="end">10</text>
<text transform="translate(84.80 552.20) scale(1 1.045) translate(-84.80 -552.20)" x="84.80" y="552.20" font-size="9.8" font-weight="bold">2</text>
<line x1="94.60" y1="504.30" x2="99.80" y2="504.30" stroke="#231f20" stroke-width="1.7"/>
<text transform="translate(83.50 511.30) scale(1 1.045) translate(-83.50 -511.30)" x="83.50" y="511.30" font-size="14" font-weight="bold" text-anchor="end">10</text>
<text transform="translate(84.80 506.30) scale(1 1.045) translate(-84.80 -506.30)" x="84.80" y="506.30" font-size="9.8" font-weight="bold">3</text>
<line x1="94.60" y1="458.40" x2="99.80" y2="458.40" stroke="#231f20" stroke-width="1.7"/>
<text transform="translate(83.50 465.40) scale(1 1.045) translate(-83.50 -465.40)" x="83.50" y="465.40" font-size="14" font-weight="bold" text-anchor="end">10</text>
<text transform="translate(84.80 460.40) scale(1 1.045) translate(-84.80 -460.40)" x="84.80" y="460.40" font-size="9.8" font-weight="bold">4</text>
<line x1="138.55" y1="687.90" x2="369.20" y2="687.90" stroke="#231f20" stroke-width="1.9"/>
<line x1="139.50" y1="688.50" x2="139.50" y2="682.30" stroke="#231f20" stroke-width="1.9"/>
<text transform="translate(145.60 707.50) scale(1 1.045) translate(-145.60 -707.50)" x="145.60" y="707.50" font-size="14" font-weight="bold" text-anchor="end">10</text>
<text transform="translate(146.80 702.60) scale(1 1.045) translate(-146.80 -702.60)" x="146.80" y="702.60" font-size="9.8" font-weight="bold">0</text>
<line x1="185.65" y1="688.50" x2="185.65" y2="682.30" stroke="#231f20" stroke-width="1.9"/>
<text transform="translate(191.75 707.50) scale(1 1.045) translate(-191.75 -707.50)" x="191.75" y="707.50" font-size="14" font-weight="bold" text-anchor="end">10</text>
<text transform="translate(192.95 702.60) scale(1 1.045) translate(-192.95 -702.60)" x="192.95" y="702.60" font-size="9.8" font-weight="bold">1</text>
<line x1="231.80" y1="688.50" x2="231.80" y2="682.30" stroke="#231f20" stroke-width="1.9"/>
<text transform="translate(237.90 707.50) scale(1 1.045) translate(-237.90 -707.50)" x="237.90" y="707.50" font-size="14" font-weight="bold" text-anchor="end">10</text>
<text transform="translate(239.10 702.60) scale(1 1.045) translate(-239.10 -702.60)" x="239.10" y="702.60" font-size="9.8" font-weight="bold">2</text>
<line x1="277.95" y1="688.50" x2="277.95" y2="682.30" stroke="#231f20" stroke-width="1.9"/>
<text transform="translate(284.05 707.50) scale(1 1.045) translate(-284.05 -707.50)" x="284.05" y="707.50" font-size="14" font-weight="bold" text-anchor="end">10</text>
<text transform="translate(285.25 702.60) scale(1 1.045) translate(-285.25 -702.60)" x="285.25" y="702.60" font-size="9.8" font-weight="bold">3</text>
<line x1="324.10" y1="688.50" x2="324.10" y2="682.30" stroke="#231f20" stroke-width="1.9"/>
<text transform="translate(330.20 707.50) scale(1 1.045) translate(-330.20 -707.50)" x="330.20" y="707.50" font-size="14" font-weight="bold" text-anchor="end">10</text>
<text transform="translate(331.40 702.60) scale(1 1.045) translate(-331.40 -702.60)" x="331.40" y="702.60" font-size="9.8" font-weight="bold">4</text>
<line x1="394.60" y1="412.90" x2="394.60" y2="641.50" stroke="#231f20" stroke-width="1.7"/>
<line x1="394.60" y1="623.90" x2="399.80" y2="623.90" stroke="#231f20" stroke-width="1.7"/>
<text transform="translate(383.50 630.90) scale(1 1.045) translate(-383.50 -630.90)" x="383.50" y="630.90" font-size="14" font-weight="bold" text-anchor="end">10</text>
<text transform="translate(384.80 625.90) scale(1 1.045) translate(-384.80 -625.90)" x="384.80" y="625.90" font-size="9.8" font-weight="bold">0</text>
<line x1="394.60" y1="581.60" x2="399.80" y2="581.60" stroke="#231f20" stroke-width="1.7"/>
<text transform="translate(383.50 588.60) scale(1 1.045) translate(-383.50 -588.60)" x="383.50" y="588.60" font-size="14" font-weight="bold" text-anchor="end">10</text>
<text transform="translate(384.80 583.60) scale(1 1.045) translate(-384.80 -583.60)" x="384.80" y="583.60" font-size="9.8" font-weight="bold">1</text>
<line x1="394.60" y1="539.30" x2="399.80" y2="539.30" stroke="#231f20" stroke-width="1.7"/>
<text transform="translate(383.50 546.30) scale(1 1.045) translate(-383.50 -546.30)" x="383.50" y="546.30" font-size="14" font-weight="bold" text-anchor="end">10</text>
<text transform="translate(384.80 541.30) scale(1 1.045) translate(-384.80 -541.30)" x="384.80" y="541.30" font-size="9.8" font-weight="bold">2</text>
<line x1="394.60" y1="497.00" x2="399.80" y2="497.00" stroke="#231f20" stroke-width="1.7"/>
<text transform="translate(383.50 504.00) scale(1 1.045) translate(-383.50 -504.00)" x="383.50" y="504.00" font-size="14" font-weight="bold" text-anchor="end">10</text>
<text transform="translate(384.80 499.00) scale(1 1.045) translate(-384.80 -499.00)" x="384.80" y="499.00" font-size="9.8" font-weight="bold">3</text>
<line x1="394.60" y1="454.70" x2="399.80" y2="454.70" stroke="#231f20" stroke-width="1.7"/>
<text transform="translate(383.50 461.70) scale(1 1.045) translate(-383.50 -461.70)" x="383.50" y="461.70" font-size="14" font-weight="bold" text-anchor="end">10</text>
<text transform="translate(384.80 456.70) scale(1 1.045) translate(-384.80 -456.70)" x="384.80" y="456.70" font-size="9.8" font-weight="bold">4</text>
<line x1="441.30" y1="688.00" x2="669.90" y2="688.00" stroke="#231f20" stroke-width="1.9"/>
<line x1="459.60" y1="688.70" x2="459.60" y2="682.30" stroke="#231f20" stroke-width="1.9"/>
<text transform="translate(465.70 707.50) scale(1 1.045) translate(-465.70 -707.50)" x="465.70" y="707.50" font-size="14" font-weight="bold" text-anchor="end">10</text>
<text transform="translate(466.90 702.60) scale(1 1.045) translate(-466.90 -702.60)" x="466.90" y="702.60" font-size="9.8" font-weight="bold">0</text>
<line x1="501.68" y1="688.70" x2="501.68" y2="682.30" stroke="#231f20" stroke-width="1.9"/>
<text transform="translate(507.78 707.50) scale(1 1.045) translate(-507.78 -707.50)" x="507.78" y="707.50" font-size="14" font-weight="bold" text-anchor="end">10</text>
<text transform="translate(508.98 702.60) scale(1 1.045) translate(-508.98 -702.60)" x="508.98" y="702.60" font-size="9.8" font-weight="bold">1</text>
<line x1="543.76" y1="688.70" x2="543.76" y2="682.30" stroke="#231f20" stroke-width="1.9"/>
<text transform="translate(549.86 707.50) scale(1 1.045) translate(-549.86 -707.50)" x="549.86" y="707.50" font-size="14" font-weight="bold" text-anchor="end">10</text>
<text transform="translate(551.06 702.60) scale(1 1.045) translate(-551.06 -702.60)" x="551.06" y="702.60" font-size="9.8" font-weight="bold">2</text>
<line x1="585.84" y1="688.70" x2="585.84" y2="682.30" stroke="#231f20" stroke-width="1.9"/>
<text transform="translate(591.94 707.50) scale(1 1.045) translate(-591.94 -707.50)" x="591.94" y="707.50" font-size="14" font-weight="bold" text-anchor="end">10</text>
<text transform="translate(593.14 702.60) scale(1 1.045) translate(-593.14 -702.60)" x="593.14" y="702.60" font-size="9.8" font-weight="bold">3</text>
<line x1="627.92" y1="688.70" x2="627.92" y2="682.30" stroke="#231f20" stroke-width="1.9"/>
<text transform="translate(634.02 707.50) scale(1 1.045) translate(-634.02 -707.50)" x="634.02" y="707.50" font-size="14" font-weight="bold" text-anchor="end">10</text>
<text transform="translate(635.22 702.60) scale(1 1.045) translate(-635.22 -702.60)" x="635.22" y="702.60" font-size="9.8" font-weight="bold">4</text>
<text transform="translate(100.00 416.70) scale(1 1.045) translate(-100.00 -416.70)" x="100.00" y="416.70" font-size="19.8" font-weight="bold">unoxidized</text>
<text transform="translate(399.80 416.60) scale(1 1.045) translate(-399.80 -416.60)" x="399.80" y="416.60" font-size="19.8" font-weight="bold">oxidized</text>
<text transform="translate(100.30 444.80) scale(1 1.045) translate(-100.30 -444.80)" x="100.3" y="444.8" font-size="20.3" fill="#231f20"><tspan font-style="italic">r</tspan><tspan font-size="12.5" font-style="italic" dy="5">S</tspan><tspan dy="-5"> = 0.99</tspan><tspan dx="2.5">, </tspan><tspan font-style="italic">p</tspan> &lt; 0.0001</text>
<text transform="translate(400.00 444.90) scale(1 1.045) translate(-400.00 -444.90)" x="400.0" y="444.9" font-size="20.3" fill="#231f20"><tspan font-style="italic">r</tspan><tspan font-size="12.5" font-style="italic" dy="5">S</tspan><tspan dy="-5"> = 0.91</tspan><tspan dx="2.5">, </tspan><tspan font-style="italic">p</tspan> &lt; 0.0001</text>
<text transform="translate(399.20 733.20) scale(1 1.045) translate(-399.20 -733.20)" x="399.20" y="733.20" font-size="17.95" font-weight="bold" text-anchor="middle">HenT6B/HenT6B, normalized reads</text>
<text x="38.2" y="525.8" font-size="17.7" font-weight="bold" text-anchor="middle" fill="#231f20" transform="translate(38.20 525.80) rotate(-90) scale(1 1.045) translate(-38.20 -525.80)"><tspan font-style="italic">CD79a</tspan>-Cre HenT6B/HenT6B</text>
<text x="59.80" y="527.00" font-size="17.7" font-weight="bold" text-anchor="middle" transform="translate(59.80 527.00) rotate(-90) scale(1 1.045) translate(-59.80 -527.00)">normalized reads</text>
<line x1="117.90" y1="664.30" x2="370.90" y2="412.00" stroke="#231f20" stroke-width="2.4" stroke-dasharray="0.01 4.72" stroke-linecap="round"/>
<line x1="418.40" y1="664.10" x2="670.80" y2="412.00" stroke="#231f20" stroke-width="2.4" stroke-dasharray="0.01 4.72" stroke-linecap="round"/>
<circle cx="164.7" cy="620.3" r="4.2" fill="#333333" opacity="0.53"/>
<circle cx="136.9" cy="649.2" r="4.2" fill="#333333" opacity="0.53"/>
<circle cx="194.4" cy="586.5" r="4.2" fill="#333333" opacity="0.53"/>
<circle cx="190.8" cy="592.0" r="4.2" fill="#333333" opacity="0.53"/>
<circle cx="131.4" cy="648.7" r="4.2" fill="#333333" opacity="0.53"/>
<circle cx="136.4" cy="645.6" r="4.2" fill="#333333" opacity="0.53"/>
<circle cx="177.9" cy="604.7" r="4.2" fill="#333333" opacity="0.53"/>
<circle cx="149.2" cy="630.6" r="4.2" fill="#333333" opacity="0.53"/>
<circle cx="212.6" cy="574.1" r="4.2" fill="#333333" opacity="0.53"/>
<circle cx="172.5" cy="607.5" r="4.2" fill="#333333" opacity="0.53"/>
<circle cx="279.2" cy="510.5" r="4.2" fill="#333333" opacity="0.53"/>
<circle cx="159.5" cy="624.3" r="4.2" fill="#333333" opacity="0.53"/>
<circle cx="142.5" cy="641.5" r="4.2" fill="#333333" opacity="0.53"/>
<circle cx="245.4" cy="538.9" r="4.2" fill="#333333" opacity="0.53"/>
<circle cx="142.7" cy="633.9" r="4.2" fill="#333333" opacity="0.53"/>
<circle cx="168.4" cy="610.5" r="4.2" fill="#333333" opacity="0.53"/>
<circle cx="197.5" cy="585.6" r="4.2" fill="#333333" opacity="0.53"/>
<circle cx="148.3" cy="633.8" r="4.2" fill="#333333" opacity="0.53"/>
<circle cx="217.9" cy="561.0" r="4.2" fill="#333333" opacity="0.53"/>
<circle cx="203.8" cy="579.5" r="4.2" fill="#333333" opacity="0.53"/>
<circle cx="180.7" cy="598.9" r="4.2" fill="#333333" opacity="0.53"/>
<circle cx="226.1" cy="562.5" r="4.2" fill="#333333" opacity="0.53"/>
<circle cx="150.5" cy="626.8" r="4.2" fill="#333333" opacity="0.53"/>
<circle cx="254.5" cy="525.5" r="4.2" fill="#333333" opacity="0.53"/>
<circle cx="226.9" cy="552.5" r="4.2" fill="#333333" opacity="0.53"/>
<circle cx="144.0" cy="648.2" r="4.2" fill="#333333" opacity="0.53"/>
<circle cx="176.5" cy="605.3" r="4.2" fill="#333333" opacity="0.53"/>
<circle cx="186.2" cy="593.3" r="4.2" fill="#333333" opacity="0.53"/>
<circle cx="130.5" cy="647.7" r="4.2" fill="#333333" opacity="0.53"/>
<circle cx="198.1" cy="577.9" r="4.2" fill="#333333" opacity="0.53"/>
<circle cx="254.4" cy="525.3" r="4.2" fill="#333333" opacity="0.53"/>
<circle cx="207.4" cy="580.0" r="4.2" fill="#333333" opacity="0.53"/>
<circle cx="198.5" cy="576.1" r="4.2" fill="#333333" opacity="0.53"/>
<circle cx="270.2" cy="514.1" r="4.2" fill="#333333" opacity="0.53"/>
<circle cx="184.7" cy="596.4" r="4.2" fill="#333333" opacity="0.53"/>
<circle cx="222.6" cy="558.2" r="4.2" fill="#333333" opacity="0.53"/>
<circle cx="217.3" cy="571.9" r="4.2" fill="#333333" opacity="0.53"/>
<circle cx="157.6" cy="623.7" r="4.2" fill="#333333" opacity="0.53"/>
<circle cx="171.5" cy="609.7" r="4.2" fill="#333333" opacity="0.53"/>
<circle cx="182.7" cy="598.3" r="4.2" fill="#333333" opacity="0.53"/>
<circle cx="144.3" cy="638.3" r="4.2" fill="#333333" opacity="0.53"/>
<circle cx="235.8" cy="547.1" r="4.2" fill="#333333" opacity="0.53"/>
<circle cx="139.8" cy="641.8" r="4.2" fill="#333333" opacity="0.53"/>
<circle cx="256.8" cy="529.2" r="4.2" fill="#333333" opacity="0.53"/>
<circle cx="132.9" cy="643.9" r="4.2" fill="#333333" opacity="0.53"/>
<circle cx="257.9" cy="525.8" r="4.2" fill="#333333" opacity="0.53"/>
<circle cx="245.9" cy="538.2" r="4.2" fill="#333333" opacity="0.53"/>
<circle cx="174.9" cy="604.4" r="4.2" fill="#333333" opacity="0.53"/>
<circle cx="171.5" cy="617.5" r="4.2" fill="#333333" opacity="0.53"/>
<circle cx="138.7" cy="636.3" r="4.2" fill="#333333" opacity="0.53"/>
<circle cx="144.8" cy="637.0" r="4.2" fill="#333333" opacity="0.53"/>
<circle cx="188.2" cy="596.4" r="4.2" fill="#333333" opacity="0.53"/>
<circle cx="203.7" cy="578.1" r="4.2" fill="#333333" opacity="0.53"/>
<circle cx="176.8" cy="605.3" r="4.2" fill="#333333" opacity="0.53"/>
<circle cx="164.9" cy="607.9" r="4.2" fill="#333333" opacity="0.53"/>
<circle cx="219.3" cy="558.7" r="4.2" fill="#333333" opacity="0.53"/>
<circle cx="189.4" cy="588.0" r="4.2" fill="#333333" opacity="0.53"/>
<circle cx="131.2" cy="646.3" r="4.2" fill="#333333" opacity="0.53"/>
<circle cx="261.0" cy="522.6" r="4.2" fill="#333333" opacity="0.53"/>
<circle cx="236.9" cy="537.3" r="4.2" fill="#333333" opacity="0.53"/>
<circle cx="172.0" cy="608.3" r="4.2" fill="#333333" opacity="0.53"/>
<circle cx="211.9" cy="571.0" r="4.2" fill="#333333" opacity="0.53"/>
<circle cx="135.0" cy="648.9" r="4.2" fill="#333333" opacity="0.53"/>
<circle cx="143.7" cy="638.9" r="4.2" fill="#333333" opacity="0.53"/>
<circle cx="165.3" cy="616.4" r="4.2" fill="#333333" opacity="0.53"/>
<circle cx="142.0" cy="639.5" r="4.2" fill="#333333" opacity="0.53"/>
<circle cx="136.8" cy="644.1" r="4.2" fill="#333333" opacity="0.53"/>
<circle cx="255.7" cy="527.1" r="4.2" fill="#333333" opacity="0.53"/>
<circle cx="208.8" cy="574.8" r="4.2" fill="#333333" opacity="0.53"/>
<circle cx="167.5" cy="616.6" r="4.2" fill="#333333" opacity="0.53"/>
<circle cx="171.4" cy="615.8" r="4.2" fill="#333333" opacity="0.53"/>
<circle cx="281.5" cy="506.0" r="4.2" fill="#333333" opacity="0.53"/>
<circle cx="182.9" cy="597.1" r="4.2" fill="#333333" opacity="0.53"/>
<circle cx="137.3" cy="644.4" r="4.2" fill="#333333" opacity="0.53"/>
<circle cx="165.3" cy="615.7" r="4.2" fill="#333333" opacity="0.53"/>
<circle cx="146.7" cy="642.1" r="4.2" fill="#333333" opacity="0.53"/>
<circle cx="133.5" cy="652.5" r="4.2" fill="#333333" opacity="0.53"/>
<circle cx="140.8" cy="639.3" r="4.2" fill="#333333" opacity="0.53"/>
<circle cx="198.4" cy="588.1" r="4.2" fill="#333333" opacity="0.53"/>
<circle cx="276.3" cy="506.7" r="4.2" fill="#333333" opacity="0.53"/>
<circle cx="252.8" cy="528.3" r="4.2" fill="#333333" opacity="0.53"/>
<circle cx="167.5" cy="611.2" r="4.2" fill="#333333" opacity="0.53"/>
<circle cx="144.0" cy="638.2" r="4.2" fill="#333333" opacity="0.53"/>
<circle cx="234.9" cy="542.3" r="4.2" fill="#333333" opacity="0.53"/>
<circle cx="164.4" cy="618.4" r="4.2" fill="#333333" opacity="0.53"/>
<circle cx="280.7" cy="508.5" r="4.2" fill="#333333" opacity="0.53"/>
<circle cx="252.5" cy="532.1" r="4.2" fill="#333333" opacity="0.53"/>
<circle cx="226.7" cy="548.5" r="4.2" fill="#333333" opacity="0.53"/>
<circle cx="148.7" cy="629.2" r="4.2" fill="#333333" opacity="0.53"/>
<circle cx="131.3" cy="649.7" r="4.2" fill="#333333" opacity="0.53"/>
<circle cx="131.2" cy="649.7" r="4.2" fill="#333333" opacity="0.53"/>
<circle cx="223.1" cy="561.8" r="4.2" fill="#333333" opacity="0.53"/>
<circle cx="267.2" cy="506.4" r="4.2" fill="#333333" opacity="0.53"/>
<circle cx="279.3" cy="505.9" r="4.2" fill="#333333" opacity="0.53"/>
<circle cx="270.3" cy="510.1" r="4.2" fill="#333333" opacity="0.53"/>
<circle cx="151.6" cy="632.1" r="4.2" fill="#333333" opacity="0.53"/>
<circle cx="147.7" cy="635.3" r="4.2" fill="#333333" opacity="0.53"/>
<circle cx="263.1" cy="524.3" r="4.2" fill="#333333" opacity="0.53"/>
<circle cx="246.1" cy="530.4" r="4.2" fill="#333333" opacity="0.53"/>
<circle cx="241.5" cy="541.2" r="4.2" fill="#333333" opacity="0.53"/>
<circle cx="133.3" cy="643.6" r="4.2" fill="#333333" opacity="0.53"/>
<circle cx="234.3" cy="540.5" r="4.2" fill="#333333" opacity="0.53"/>
<circle cx="230.8" cy="548.8" r="4.2" fill="#333333" opacity="0.53"/>
<circle cx="239.4" cy="543.0" r="4.2" fill="#333333" opacity="0.53"/>
<circle cx="165.8" cy="619.1" r="4.2" fill="#333333" opacity="0.53"/>
<circle cx="168.2" cy="603.5" r="4.2" fill="#333333" opacity="0.53"/>
<circle cx="177.0" cy="610.6" r="4.2" fill="#333333" opacity="0.53"/>
<circle cx="143.0" cy="636.5" r="4.2" fill="#333333" opacity="0.53"/>
<circle cx="142.0" cy="644.4" r="4.2" fill="#333333" opacity="0.53"/>
<circle cx="245.9" cy="543.0" r="4.2" fill="#333333" opacity="0.53"/>
<circle cx="144.0" cy="642.6" r="4.2" fill="#333333" opacity="0.53"/>
<circle cx="210.5" cy="561.7" r="4.2" fill="#333333" opacity="0.53"/>
<circle cx="165.7" cy="614.0" r="4.2" fill="#333333" opacity="0.53"/>
<circle cx="130.4" cy="650.4" r="4.2" fill="#333333" opacity="0.53"/>
<circle cx="273.0" cy="506.4" r="4.2" fill="#333333" opacity="0.53"/>
<circle cx="265.0" cy="513.3" r="4.2" fill="#333333" opacity="0.53"/>
<circle cx="181.4" cy="605.4" r="4.2" fill="#333333" opacity="0.53"/>
<circle cx="146.0" cy="630.3" r="4.2" fill="#333333" opacity="0.53"/>
<circle cx="153.2" cy="627.6" r="4.2" fill="#333333" opacity="0.53"/>
<circle cx="204.6" cy="580.0" r="4.2" fill="#333333" opacity="0.53"/>
<circle cx="153.6" cy="626.2" r="4.2" fill="#333333" opacity="0.53"/>
<circle cx="262.8" cy="520.3" r="4.2" fill="#333333" opacity="0.53"/>
<circle cx="164.6" cy="612.0" r="4.2" fill="#333333" opacity="0.53"/>
<circle cx="261.9" cy="521.6" r="4.2" fill="#333333" opacity="0.53"/>
<circle cx="178.9" cy="606.8" r="4.2" fill="#333333" opacity="0.53"/>
<circle cx="193.1" cy="586.4" r="4.2" fill="#333333" opacity="0.53"/>
<circle cx="195.0" cy="591.0" r="4.2" fill="#333333" opacity="0.53"/>
<circle cx="145.7" cy="636.3" r="4.2" fill="#333333" opacity="0.53"/>
<circle cx="130.7" cy="651.5" r="4.2" fill="#333333" opacity="0.53"/>
<circle cx="183.8" cy="595.7" r="4.2" fill="#333333" opacity="0.53"/>
<circle cx="225.8" cy="552.9" r="4.2" fill="#333333" opacity="0.53"/>
<circle cx="191.4" cy="589.1" r="4.2" fill="#333333" opacity="0.53"/>
<circle cx="198.3" cy="583.9" r="4.2" fill="#333333" opacity="0.53"/>
<circle cx="198.0" cy="582.0" r="4.2" fill="#333333" opacity="0.53"/>
<circle cx="152.6" cy="627.8" r="4.2" fill="#333333" opacity="0.53"/>
<circle cx="193.7" cy="594.7" r="4.2" fill="#333333" opacity="0.53"/>
<circle cx="199.4" cy="583.0" r="4.2" fill="#333333" opacity="0.53"/>
<circle cx="176.0" cy="597.1" r="4.2" fill="#333333" opacity="0.53"/>
<circle cx="205.3" cy="571.9" r="4.2" fill="#333333" opacity="0.53"/>
<circle cx="221.6" cy="560.2" r="4.2" fill="#333333" opacity="0.53"/>
<circle cx="179.5" cy="597.9" r="4.2" fill="#333333" opacity="0.53"/>
<circle cx="268.1" cy="513.2" r="4.2" fill="#333333" opacity="0.53"/>
<circle cx="226.1" cy="562.5" r="4.2" fill="#333333" opacity="0.53"/>
<circle cx="151.3" cy="623.8" r="4.2" fill="#333333" opacity="0.53"/>
<circle cx="202.3" cy="586.6" r="4.2" fill="#333333" opacity="0.53"/>
<circle cx="139.2" cy="639.7" r="4.2" fill="#333333" opacity="0.53"/>
<circle cx="138.3" cy="641.8" r="4.2" fill="#333333" opacity="0.53"/>
<circle cx="152.5" cy="629.6" r="4.2" fill="#333333" opacity="0.53"/>
<circle cx="133.0" cy="645.2" r="4.2" fill="#333333" opacity="0.53"/>
<circle cx="256.8" cy="519.4" r="4.2" fill="#333333" opacity="0.53"/>
<circle cx="141.7" cy="638.6" r="4.2" fill="#333333" opacity="0.53"/>
<circle cx="138.3" cy="637.6" r="4.2" fill="#333333" opacity="0.53"/>
<circle cx="258.4" cy="526.4" r="4.2" fill="#333333" opacity="0.53"/>
<circle cx="270.4" cy="511.2" r="4.2" fill="#333333" opacity="0.53"/>
<circle cx="167.6" cy="602.2" r="4.2" fill="#333333" opacity="0.53"/>
<circle cx="247.8" cy="535.2" r="4.2" fill="#333333" opacity="0.53"/>
<circle cx="140.9" cy="636.3" r="4.2" fill="#333333" opacity="0.53"/>
<circle cx="166.1" cy="617.5" r="4.2" fill="#333333" opacity="0.53"/>
<circle cx="145.5" cy="633.4" r="4.2" fill="#333333" opacity="0.53"/>
<circle cx="133.9" cy="653.3" r="4.2" fill="#333333" opacity="0.53"/>
<circle cx="197.5" cy="583.6" r="4.2" fill="#333333" opacity="0.53"/>
<circle cx="164.2" cy="617.7" r="4.2" fill="#333333" opacity="0.53"/>
<circle cx="208.9" cy="571.6" r="4.2" fill="#333333" opacity="0.53"/>
<circle cx="277.2" cy="504.9" r="4.2" fill="#333333" opacity="0.53"/>
<circle cx="240.0" cy="543.9" r="4.2" fill="#333333" opacity="0.53"/>
<circle cx="155.1" cy="626.1" r="4.2" fill="#333333" opacity="0.53"/>
<circle cx="132.5" cy="649.6" r="4.2" fill="#333333" opacity="0.53"/>
<circle cx="138.2" cy="640.2" r="4.2" fill="#333333" opacity="0.53"/>
<circle cx="180.2" cy="607.7" r="4.2" fill="#333333" opacity="0.53"/>
<circle cx="152.5" cy="625.2" r="4.2" fill="#333333" opacity="0.53"/>
<circle cx="144.0" cy="641.9" r="4.2" fill="#333333" opacity="0.53"/>
<circle cx="221.8" cy="557.7" r="4.2" fill="#333333" opacity="0.53"/>
<circle cx="138.8" cy="648.2" r="4.2" fill="#333333" opacity="0.53"/>
<circle cx="178.6" cy="605.2" r="4.2" fill="#333333" opacity="0.53"/>
<circle cx="137.2" cy="649.4" r="4.2" fill="#333333" opacity="0.53"/>
<circle cx="240.5" cy="539.5" r="4.2" fill="#333333" opacity="0.53"/>
<circle cx="136.0" cy="646.4" r="4.2" fill="#333333" opacity="0.53"/>
<circle cx="252.6" cy="528.4" r="4.2" fill="#333333" opacity="0.53"/>
<circle cx="180.6" cy="598.5" r="4.2" fill="#333333" opacity="0.53"/>
<circle cx="267.7" cy="518.7" r="4.2" fill="#333333" opacity="0.53"/>
<circle cx="157.3" cy="627.6" r="4.2" fill="#333333" opacity="0.53"/>
<circle cx="153.7" cy="631.4" r="4.2" fill="#333333" opacity="0.53"/>
<circle cx="138.2" cy="644.0" r="4.2" fill="#333333" opacity="0.53"/>
<circle cx="148.1" cy="634.5" r="4.2" fill="#333333" opacity="0.53"/>
<circle cx="160.3" cy="619.1" r="4.2" fill="#333333" opacity="0.53"/>
<circle cx="161.6" cy="626.2" r="4.2" fill="#333333" opacity="0.53"/>
<circle cx="189.9" cy="593.4" r="4.2" fill="#333333" opacity="0.53"/>
<circle cx="132.6" cy="652.1" r="4.2" fill="#333333" opacity="0.53"/>
<circle cx="156.6" cy="631.3" r="4.2" fill="#333333" opacity="0.53"/>
<circle cx="197.7" cy="584.8" r="4.2" fill="#333333" opacity="0.53"/>
<circle cx="141.6" cy="630.9" r="4.2" fill="#333333" opacity="0.53"/>
<circle cx="138.3" cy="644.7" r="4.2" fill="#333333" opacity="0.53"/>
<circle cx="242.7" cy="535.2" r="4.2" fill="#333333" opacity="0.53"/>
<circle cx="248.7" cy="535.3" r="4.2" fill="#333333" opacity="0.53"/>
<circle cx="169.8" cy="605.9" r="4.2" fill="#333333" opacity="0.53"/>
<circle cx="276.6" cy="505.4" r="4.2" fill="#333333" opacity="0.53"/>
<circle cx="167.1" cy="617.5" r="4.2" fill="#333333" opacity="0.53"/>
<circle cx="209.0" cy="567.6" r="4.2" fill="#333333" opacity="0.53"/>
<circle cx="174.1" cy="606.8" r="4.2" fill="#333333" opacity="0.53"/>
<circle cx="140.3" cy="642.2" r="4.2" fill="#333333" opacity="0.53"/>
<circle cx="134.4" cy="646.9" r="4.2" fill="#333333" opacity="0.53"/>
<circle cx="141.7" cy="636.8" r="4.2" fill="#333333" opacity="0.53"/>
<circle cx="137.8" cy="648.0" r="4.2" fill="#333333" opacity="0.53"/>
<circle cx="214.4" cy="560.9" r="4.2" fill="#333333" opacity="0.53"/>
<circle cx="157.5" cy="624.3" r="4.2" fill="#333333" opacity="0.53"/>
<circle cx="184.4" cy="600.6" r="4.2" fill="#333333" opacity="0.53"/>
<circle cx="141.2" cy="637.4" r="4.2" fill="#333333" opacity="0.53"/>
<circle cx="273.1" cy="510.2" r="4.2" fill="#333333" opacity="0.53"/>
<circle cx="273.3" cy="506.1" r="4.2" fill="#333333" opacity="0.53"/>
<circle cx="272.9" cy="508.5" r="4.2" fill="#333333" opacity="0.53"/>
<circle cx="161.0" cy="620.5" r="4.2" fill="#333333" opacity="0.53"/>
<circle cx="171.2" cy="610.6" r="4.2" fill="#333333" opacity="0.53"/>
<circle cx="183.8" cy="595.3" r="4.2" fill="#333333" opacity="0.53"/>
<circle cx="189.8" cy="591.9" r="4.2" fill="#333333" opacity="0.53"/>
<circle cx="130.3" cy="651.0" r="4.2" fill="#333333" opacity="0.53"/>
<circle cx="174.6" cy="608.8" r="4.2" fill="#333333" opacity="0.53"/>
<circle cx="134.0" cy="650.8" r="4.2" fill="#333333" opacity="0.53"/>
<circle cx="151.5" cy="630.6" r="4.2" fill="#333333" opacity="0.53"/>
<circle cx="199.9" cy="575.6" r="4.2" fill="#333333" opacity="0.53"/>
<circle cx="214.8" cy="565.9" r="4.2" fill="#333333" opacity="0.53"/>
<circle cx="227.2" cy="557.6" r="4.2" fill="#333333" opacity="0.53"/>
<circle cx="162.0" cy="617.0" r="4.2" fill="#333333" opacity="0.53"/>
<circle cx="279.0" cy="506.9" r="4.2" fill="#333333" opacity="0.53"/>
<circle cx="215.5" cy="571.5" r="4.2" fill="#333333" opacity="0.53"/>
<circle cx="134.6" cy="651.1" r="4.2" fill="#333333" opacity="0.53"/>
<circle cx="206.6" cy="568.2" r="4.2" fill="#333333" opacity="0.53"/>
<circle cx="229.4" cy="553.4" r="4.2" fill="#333333" opacity="0.53"/>
<circle cx="191.9" cy="587.9" r="4.2" fill="#333333" opacity="0.53"/>
<circle cx="191.6" cy="593.8" r="4.2" fill="#333333" opacity="0.53"/>
<circle cx="243.2" cy="532.8" r="4.2" fill="#333333" opacity="0.53"/>
<circle cx="205.2" cy="581.3" r="4.2" fill="#333333" opacity="0.53"/>
<circle cx="219.9" cy="558.4" r="4.2" fill="#333333" opacity="0.53"/>
<circle cx="151.9" cy="631.7" r="4.2" fill="#333333" opacity="0.53"/>
<circle cx="168.3" cy="613.7" r="4.2" fill="#333333" opacity="0.53"/>
<circle cx="138.7" cy="645.4" r="4.2" fill="#333333" opacity="0.53"/>
<circle cx="208.1" cy="569.5" r="4.2" fill="#333333" opacity="0.53"/>
<circle cx="209.0" cy="570.9" r="4.2" fill="#333333" opacity="0.53"/>
<circle cx="128.3" cy="649.1" r="4.2" fill="#333333" opacity="0.53"/>
<circle cx="240.8" cy="541.2" r="4.2" fill="#333333" opacity="0.53"/>
<circle cx="192.4" cy="584.7" r="4.2" fill="#333333" opacity="0.53"/>
<circle cx="181.8" cy="586.1" r="4.2" fill="#333333" opacity="0.53"/>
<circle cx="150.9" cy="655.0" r="4.2" fill="#333333" opacity="0.53"/>
<circle cx="250.7" cy="551.7" r="4.2" fill="#333333" opacity="0.53"/>
<circle cx="233.2" cy="562.8" r="4.2" fill="#333333" opacity="0.53"/>
<circle cx="294.7" cy="479.3" r="4.2" fill="#333333" opacity="0.53"/>
<circle cx="309.1" cy="481.6" r="4.2" fill="#333333" opacity="0.53"/>
<circle cx="274.7" cy="492.7" r="4.2" fill="#333333" opacity="0.53"/>
<circle cx="270.7" cy="498.0" r="4.2" fill="#333333" opacity="0.53"/>
<circle cx="265.3" cy="503.3" r="4.2" fill="#333333" opacity="0.53"/>
<circle cx="288.7" cy="508.7" r="4.2" fill="#333333" opacity="0.53"/>
<circle cx="238.7" cy="536.7" r="4.2" fill="#333333" opacity="0.53"/>
<circle cx="260.0" cy="537.3" r="4.2" fill="#333333" opacity="0.53"/>
<circle cx="250.7" cy="552.0" r="4.2" fill="#333333" opacity="0.53"/>
<circle cx="291.3" cy="497.3" r="4.2" fill="#333333" opacity="0.53"/>
<circle cx="286.7" cy="498.7" r="4.2" fill="#333333" opacity="0.53"/>
<circle cx="348.7" cy="437.3" r="4.3" fill="#333333" opacity="0.97"/>
<circle cx="324.0" cy="469.1" r="4.3" fill="#333333" opacity="0.97"/>
<circle cx="262.7" cy="510.0" r="4.3" fill="#333333" opacity="0.97"/>
<circle cx="275.7" cy="500.7" r="4.3" fill="#333333" opacity="0.97"/>
<circle cx="528.1" cy="567.7" r="4.2" fill="#333333" opacity="0.53"/>
<circle cx="470.1" cy="627.7" r="4.2" fill="#333333" opacity="0.53"/>
<circle cx="538.8" cy="550.2" r="4.2" fill="#333333" opacity="0.53"/>
<circle cx="583.1" cy="511.9" r="4.2" fill="#333333" opacity="0.53"/>
<circle cx="497.2" cy="610.5" r="4.2" fill="#333333" opacity="0.53"/>
<circle cx="519.0" cy="580.7" r="4.2" fill="#333333" opacity="0.53"/>
<circle cx="458.9" cy="629.1" r="4.2" fill="#333333" opacity="0.53"/>
<circle cx="474.9" cy="624.5" r="4.2" fill="#333333" opacity="0.53"/>
<circle cx="452.5" cy="636.5" r="4.2" fill="#333333" opacity="0.53"/>
<circle cx="531.3" cy="570.3" r="4.2" fill="#333333" opacity="0.53"/>
<circle cx="502.2" cy="593.3" r="4.2" fill="#333333" opacity="0.53"/>
<circle cx="457.3" cy="645.9" r="4.2" fill="#333333" opacity="0.53"/>
<circle cx="585.0" cy="512.0" r="4.2" fill="#333333" opacity="0.53"/>
<circle cx="496.6" cy="618.7" r="4.2" fill="#333333" opacity="0.53"/>
<circle cx="493.8" cy="600.4" r="4.2" fill="#333333" opacity="0.53"/>
<circle cx="578.8" cy="511.5" r="4.2" fill="#333333" opacity="0.53"/>
<circle cx="455.4" cy="643.7" r="4.2" fill="#333333" opacity="0.53"/>
<circle cx="458.4" cy="649.4" r="4.2" fill="#333333" opacity="0.53"/>
<circle cx="566.8" cy="533.6" r="4.2" fill="#333333" opacity="0.53"/>
<circle cx="568.8" cy="527.6" r="4.2" fill="#333333" opacity="0.53"/>
<circle cx="449.0" cy="649.0" r="4.2" fill="#333333" opacity="0.53"/>
<circle cx="475.5" cy="619.6" r="4.2" fill="#333333" opacity="0.53"/>
<circle cx="476.5" cy="623.0" r="4.2" fill="#333333" opacity="0.53"/>
<circle cx="542.3" cy="558.0" r="4.2" fill="#333333" opacity="0.53"/>
<circle cx="574.0" cy="533.0" r="4.2" fill="#333333" opacity="0.53"/>
<circle cx="472.5" cy="621.0" r="4.2" fill="#333333" opacity="0.53"/>
<circle cx="588.0" cy="509.9" r="4.2" fill="#333333" opacity="0.53"/>
<circle cx="490.9" cy="605.8" r="4.2" fill="#333333" opacity="0.53"/>
<circle cx="455.9" cy="649.3" r="4.2" fill="#333333" opacity="0.53"/>
<circle cx="576.4" cy="516.1" r="4.2" fill="#333333" opacity="0.53"/>
<circle cx="503.2" cy="590.0" r="4.2" fill="#333333" opacity="0.53"/>
<circle cx="582.2" cy="522.3" r="4.2" fill="#333333" opacity="0.53"/>
<circle cx="524.1" cy="583.9" r="4.2" fill="#333333" opacity="0.53"/>
<circle cx="508.5" cy="591.7" r="4.2" fill="#333333" opacity="0.53"/>
<circle cx="536.7" cy="555.9" r="4.2" fill="#333333" opacity="0.53"/>
<circle cx="523.7" cy="572.3" r="4.2" fill="#333333" opacity="0.53"/>
<circle cx="575.7" cy="517.7" r="4.2" fill="#333333" opacity="0.53"/>
<circle cx="479.2" cy="608.8" r="4.2" fill="#333333" opacity="0.53"/>
<circle cx="584.3" cy="504.5" r="4.2" fill="#333333" opacity="0.53"/>
<circle cx="473.5" cy="626.9" r="4.2" fill="#333333" opacity="0.53"/>
<circle cx="461.2" cy="634.8" r="4.2" fill="#333333" opacity="0.53"/>
<circle cx="569.8" cy="526.0" r="4.2" fill="#333333" opacity="0.53"/>
<circle cx="572.1" cy="526.2" r="4.2" fill="#333333" opacity="0.53"/>
<circle cx="458.5" cy="638.4" r="4.2" fill="#333333" opacity="0.53"/>
<circle cx="480.4" cy="616.8" r="4.2" fill="#333333" opacity="0.53"/>
<circle cx="467.5" cy="635.5" r="4.2" fill="#333333" opacity="0.53"/>
<circle cx="540.7" cy="552.6" r="4.2" fill="#333333" opacity="0.53"/>
<circle cx="503.9" cy="589.7" r="4.2" fill="#333333" opacity="0.53"/>
<circle cx="452.2" cy="628.7" r="4.2" fill="#333333" opacity="0.53"/>
<circle cx="455.4" cy="642.6" r="4.2" fill="#333333" opacity="0.53"/>
<circle cx="562.7" cy="530.3" r="4.2" fill="#333333" opacity="0.53"/>
<circle cx="467.7" cy="626.2" r="4.2" fill="#333333" opacity="0.53"/>
<circle cx="581.5" cy="525.0" r="4.2" fill="#333333" opacity="0.53"/>
<circle cx="452.8" cy="646.7" r="4.2" fill="#333333" opacity="0.53"/>
<circle cx="567.1" cy="526.9" r="4.2" fill="#333333" opacity="0.53"/>
<circle cx="448.1" cy="639.2" r="4.2" fill="#333333" opacity="0.53"/>
<circle cx="557.6" cy="553.3" r="4.2" fill="#333333" opacity="0.53"/>
<circle cx="469.3" cy="628.1" r="4.2" fill="#333333" opacity="0.53"/>
<circle cx="503.3" cy="607.6" r="4.2" fill="#333333" opacity="0.53"/>
<circle cx="535.6" cy="568.6" r="4.2" fill="#333333" opacity="0.53"/>
<circle cx="494.7" cy="604.3" r="4.2" fill="#333333" opacity="0.53"/>
<circle cx="547.9" cy="537.1" r="4.2" fill="#333333" opacity="0.53"/>
<circle cx="523.7" cy="571.0" r="4.2" fill="#333333" opacity="0.53"/>
<circle cx="467.9" cy="638.2" r="4.2" fill="#333333" opacity="0.53"/>
<circle cx="457.6" cy="639.8" r="4.2" fill="#333333" opacity="0.53"/>
<circle cx="513.1" cy="581.5" r="4.2" fill="#333333" opacity="0.53"/>
<circle cx="517.8" cy="581.1" r="4.2" fill="#333333" opacity="0.53"/>
<circle cx="497.2" cy="605.5" r="4.2" fill="#333333" opacity="0.53"/>
<circle cx="565.5" cy="529.8" r="4.2" fill="#333333" opacity="0.53"/>
<circle cx="470.5" cy="633.3" r="4.2" fill="#333333" opacity="0.53"/>
<circle cx="476.9" cy="622.6" r="4.2" fill="#333333" opacity="0.53"/>
<circle cx="527.9" cy="566.8" r="4.2" fill="#333333" opacity="0.53"/>
<circle cx="528.4" cy="572.2" r="4.2" fill="#333333" opacity="0.53"/>
<circle cx="450.7" cy="642.1" r="4.2" fill="#333333" opacity="0.53"/>
<circle cx="530.9" cy="557.6" r="4.2" fill="#333333" opacity="0.53"/>
<circle cx="539.1" cy="557.7" r="4.2" fill="#333333" opacity="0.53"/>
<circle cx="582.3" cy="504.5" r="4.2" fill="#333333" opacity="0.53"/>
<circle cx="467.3" cy="621.1" r="4.2" fill="#333333" opacity="0.53"/>
<circle cx="475.4" cy="627.6" r="4.2" fill="#333333" opacity="0.53"/>
<circle cx="462.8" cy="629.8" r="4.2" fill="#333333" opacity="0.53"/>
<circle cx="527.9" cy="571.7" r="4.2" fill="#333333" opacity="0.53"/>
<circle cx="487.0" cy="595.3" r="4.2" fill="#333333" opacity="0.53"/>
<circle cx="458.9" cy="640.3" r="4.2" fill="#333333" opacity="0.53"/>
<circle cx="488.3" cy="620.8" r="4.2" fill="#333333" opacity="0.53"/>
<circle cx="541.7" cy="559.0" r="4.2" fill="#333333" opacity="0.53"/>
<circle cx="479.2" cy="606.6" r="4.2" fill="#333333" opacity="0.53"/>
<circle cx="543.0" cy="554.6" r="4.2" fill="#333333" opacity="0.53"/>
<circle cx="483.5" cy="610.4" r="4.2" fill="#333333" opacity="0.53"/>
<circle cx="461.9" cy="638.5" r="4.2" fill="#333333" opacity="0.53"/>
<circle cx="481.5" cy="619.2" r="4.2" fill="#333333" opacity="0.53"/>
<circle cx="582.4" cy="509.8" r="4.2" fill="#333333" opacity="0.53"/>
<circle cx="555.4" cy="547.7" r="4.2" fill="#333333" opacity="0.53"/>
<circle cx="450.9" cy="646.5" r="4.2" fill="#333333" opacity="0.53"/>
<circle cx="573.7" cy="518.7" r="4.2" fill="#333333" opacity="0.53"/>
<circle cx="570.2" cy="526.8" r="4.2" fill="#333333" opacity="0.53"/>
<circle cx="553.0" cy="545.8" r="4.2" fill="#333333" opacity="0.53"/>
<circle cx="454.0" cy="642.3" r="4.2" fill="#333333" opacity="0.53"/>
<circle cx="469.7" cy="644.2" r="4.2" fill="#333333" opacity="0.53"/>
<circle cx="478.8" cy="603.1" r="4.2" fill="#333333" opacity="0.53"/>
<circle cx="519.1" cy="569.2" r="4.2" fill="#333333" opacity="0.53"/>
<circle cx="476.5" cy="622.0" r="4.2" fill="#333333" opacity="0.53"/>
<circle cx="544.4" cy="558.7" r="4.2" fill="#333333" opacity="0.53"/>
<circle cx="578.8" cy="518.1" r="4.2" fill="#333333" opacity="0.53"/>
<circle cx="500.6" cy="605.3" r="4.2" fill="#333333" opacity="0.53"/>
<circle cx="485.3" cy="606.6" r="4.2" fill="#333333" opacity="0.53"/>
<circle cx="500.9" cy="600.1" r="4.2" fill="#333333" opacity="0.53"/>
<circle cx="551.1" cy="556.3" r="4.2" fill="#333333" opacity="0.53"/>
<circle cx="545.0" cy="554.6" r="4.2" fill="#333333" opacity="0.53"/>
<circle cx="475.5" cy="613.3" r="4.2" fill="#333333" opacity="0.53"/>
<circle cx="454.5" cy="634.7" r="4.2" fill="#333333" opacity="0.53"/>
<circle cx="469.0" cy="630.0" r="4.2" fill="#333333" opacity="0.53"/>
<circle cx="507.5" cy="573.7" r="4.2" fill="#333333" opacity="0.53"/>
<circle cx="567.4" cy="530.8" r="4.2" fill="#333333" opacity="0.53"/>
<circle cx="455.4" cy="640.8" r="4.2" fill="#333333" opacity="0.53"/>
<circle cx="533.9" cy="561.5" r="4.2" fill="#333333" opacity="0.53"/>
<circle cx="488.0" cy="616.1" r="4.2" fill="#333333" opacity="0.53"/>
<circle cx="542.6" cy="563.0" r="4.2" fill="#333333" opacity="0.53"/>
<circle cx="457.4" cy="647.7" r="4.2" fill="#333333" opacity="0.53"/>
<circle cx="509.9" cy="579.7" r="4.2" fill="#333333" opacity="0.53"/>
<circle cx="463.7" cy="630.6" r="4.2" fill="#333333" opacity="0.53"/>
<circle cx="460.7" cy="646.2" r="4.2" fill="#333333" opacity="0.53"/>
<circle cx="474.6" cy="608.7" r="4.2" fill="#333333" opacity="0.53"/>
<circle cx="502.5" cy="584.8" r="4.2" fill="#333333" opacity="0.53"/>
<circle cx="525.8" cy="572.8" r="4.2" fill="#333333" opacity="0.53"/>
<circle cx="498.5" cy="612.3" r="4.2" fill="#333333" opacity="0.53"/>
<circle cx="573.3" cy="523.3" r="4.2" fill="#333333" opacity="0.53"/>
<circle cx="458.0" cy="625.4" r="4.2" fill="#333333" opacity="0.53"/>
<circle cx="515.0" cy="586.8" r="4.2" fill="#333333" opacity="0.53"/>
<circle cx="562.2" cy="532.5" r="4.2" fill="#333333" opacity="0.53"/>
<circle cx="547.4" cy="551.5" r="4.2" fill="#333333" opacity="0.53"/>
<circle cx="515.3" cy="585.2" r="4.2" fill="#333333" opacity="0.53"/>
<circle cx="483.6" cy="612.5" r="4.2" fill="#333333" opacity="0.53"/>
<circle cx="468.0" cy="635.6" r="4.2" fill="#333333" opacity="0.53"/>
<circle cx="465.3" cy="634.9" r="4.2" fill="#333333" opacity="0.53"/>
<circle cx="529.9" cy="563.7" r="4.2" fill="#333333" opacity="0.53"/>
<circle cx="464.6" cy="643.7" r="4.2" fill="#333333" opacity="0.53"/>
<circle cx="453.9" cy="642.6" r="4.2" fill="#333333" opacity="0.53"/>
<circle cx="508.4" cy="591.7" r="4.2" fill="#333333" opacity="0.53"/>
<circle cx="460.0" cy="645.9" r="4.2" fill="#333333" opacity="0.53"/>
<circle cx="471.5" cy="610.9" r="4.2" fill="#333333" opacity="0.53"/>
<circle cx="475.0" cy="625.7" r="4.2" fill="#333333" opacity="0.53"/>
<circle cx="492.1" cy="626.1" r="4.2" fill="#333333" opacity="0.53"/>
<circle cx="483.1" cy="606.5" r="4.2" fill="#333333" opacity="0.53"/>
<circle cx="466.9" cy="634.7" r="4.2" fill="#333333" opacity="0.53"/>
<circle cx="490.9" cy="614.5" r="4.2" fill="#333333" opacity="0.53"/>
<circle cx="565.5" cy="529.8" r="4.2" fill="#333333" opacity="0.53"/>
<circle cx="448.9" cy="652.4" r="4.2" fill="#333333" opacity="0.53"/>
<circle cx="572.9" cy="521.4" r="4.2" fill="#333333" opacity="0.53"/>
<circle cx="482.6" cy="615.8" r="4.2" fill="#333333" opacity="0.53"/>
<circle cx="469.8" cy="628.6" r="4.2" fill="#333333" opacity="0.53"/>
<circle cx="453.6" cy="643.0" r="4.2" fill="#333333" opacity="0.53"/>
<circle cx="582.8" cy="511.3" r="4.2" fill="#333333" opacity="0.53"/>
<circle cx="579.3" cy="519.6" r="4.2" fill="#333333" opacity="0.53"/>
<circle cx="453.4" cy="650.6" r="4.2" fill="#333333" opacity="0.53"/>
<circle cx="568.6" cy="533.2" r="4.2" fill="#333333" opacity="0.53"/>
<circle cx="460.3" cy="644.3" r="4.2" fill="#333333" opacity="0.53"/>
<circle cx="489.1" cy="621.3" r="4.2" fill="#333333" opacity="0.53"/>
<circle cx="462.4" cy="630.5" r="4.2" fill="#333333" opacity="0.53"/>
<circle cx="503.3" cy="592.5" r="4.2" fill="#333333" opacity="0.53"/>
<circle cx="468.2" cy="645.1" r="4.2" fill="#333333" opacity="0.53"/>
<circle cx="449.7" cy="652.6" r="4.2" fill="#333333" opacity="0.53"/>
<circle cx="451.9" cy="651.2" r="4.2" fill="#333333" opacity="0.53"/>
<circle cx="514.8" cy="584.3" r="4.2" fill="#333333" opacity="0.53"/>
<circle cx="473.8" cy="619.6" r="4.2" fill="#333333" opacity="0.53"/>
<circle cx="489.9" cy="614.1" r="4.2" fill="#333333" opacity="0.53"/>
<circle cx="494.1" cy="605.1" r="4.2" fill="#333333" opacity="0.53"/>
<circle cx="499.8" cy="588.1" r="4.2" fill="#333333" opacity="0.53"/>
<circle cx="546.4" cy="549.2" r="4.2" fill="#333333" opacity="0.53"/>
<circle cx="497.8" cy="599.3" r="4.2" fill="#333333" opacity="0.53"/>
<circle cx="492.4" cy="603.7" r="4.2" fill="#333333" opacity="0.53"/>
<circle cx="504.4" cy="593.5" r="4.2" fill="#333333" opacity="0.53"/>
<circle cx="453.8" cy="657.8" r="4.2" fill="#333333" opacity="0.53"/>
<circle cx="504.3" cy="593.1" r="4.2" fill="#333333" opacity="0.53"/>
<circle cx="484.9" cy="615.8" r="4.2" fill="#333333" opacity="0.53"/>
<circle cx="563.4" cy="535.8" r="4.2" fill="#333333" opacity="0.53"/>
<circle cx="554.8" cy="528.9" r="4.2" fill="#333333" opacity="0.53"/>
<circle cx="502.7" cy="602.4" r="4.2" fill="#333333" opacity="0.53"/>
<circle cx="461.2" cy="654.6" r="4.2" fill="#333333" opacity="0.53"/>
<circle cx="451.8" cy="637.1" r="4.2" fill="#333333" opacity="0.53"/>
<circle cx="460.8" cy="643.0" r="4.2" fill="#333333" opacity="0.53"/>
<circle cx="554.6" cy="538.4" r="4.2" fill="#333333" opacity="0.53"/>
<circle cx="573.6" cy="519.3" r="4.2" fill="#333333" opacity="0.53"/>
<circle cx="501.9" cy="594.9" r="4.2" fill="#333333" opacity="0.53"/>
<circle cx="463.7" cy="623.6" r="4.2" fill="#333333" opacity="0.53"/>
<circle cx="530.3" cy="570.3" r="4.2" fill="#333333" opacity="0.53"/>
<circle cx="549.2" cy="544.7" r="4.2" fill="#333333" opacity="0.53"/>
<circle cx="520.8" cy="566.1" r="4.2" fill="#333333" opacity="0.53"/>
<circle cx="507.2" cy="595.0" r="4.2" fill="#333333" opacity="0.53"/>
<circle cx="457.4" cy="644.5" r="4.2" fill="#333333" opacity="0.53"/>
<circle cx="486.6" cy="617.5" r="4.2" fill="#333333" opacity="0.53"/>
<circle cx="586.2" cy="511.3" r="4.2" fill="#333333" opacity="0.53"/>
<circle cx="543.7" cy="551.7" r="4.2" fill="#333333" opacity="0.53"/>
<circle cx="542.9" cy="553.6" r="4.2" fill="#333333" opacity="0.53"/>
<circle cx="467.0" cy="645.1" r="4.2" fill="#333333" opacity="0.53"/>
<circle cx="513.7" cy="588.5" r="4.2" fill="#333333" opacity="0.53"/>
<circle cx="451.1" cy="648.6" r="4.2" fill="#333333" opacity="0.53"/>
<circle cx="517.8" cy="575.9" r="4.2" fill="#333333" opacity="0.53"/>
<circle cx="569.3" cy="525.3" r="4.2" fill="#333333" opacity="0.53"/>
<circle cx="525.3" cy="572.6" r="4.2" fill="#333333" opacity="0.53"/>
<circle cx="482.2" cy="613.9" r="4.2" fill="#333333" opacity="0.53"/>
<circle cx="464.8" cy="637.8" r="4.2" fill="#333333" opacity="0.53"/>
<circle cx="463.2" cy="640.8" r="4.2" fill="#333333" opacity="0.53"/>
<circle cx="458.8" cy="643.7" r="4.2" fill="#333333" opacity="0.53"/>
<circle cx="460.6" cy="634.8" r="4.2" fill="#333333" opacity="0.53"/>
<circle cx="564.3" cy="538.2" r="4.2" fill="#333333" opacity="0.53"/>
<circle cx="472.3" cy="628.1" r="4.2" fill="#333333" opacity="0.53"/>
<circle cx="509.5" cy="580.4" r="4.2" fill="#333333" opacity="0.53"/>
<circle cx="495.0" cy="609.7" r="4.2" fill="#333333" opacity="0.53"/>
<circle cx="469.1" cy="631.7" r="4.2" fill="#333333" opacity="0.53"/>
<circle cx="505.1" cy="589.9" r="4.2" fill="#333333" opacity="0.53"/>
<circle cx="452.6" cy="648.2" r="4.2" fill="#333333" opacity="0.53"/>
<circle cx="509.5" cy="590.7" r="4.2" fill="#333333" opacity="0.53"/>
<circle cx="462.6" cy="640.9" r="4.2" fill="#333333" opacity="0.53"/>
<circle cx="523.6" cy="578.1" r="4.2" fill="#333333" opacity="0.53"/>
<circle cx="475.6" cy="621.5" r="4.2" fill="#333333" opacity="0.53"/>
<circle cx="567.9" cy="537.7" r="4.2" fill="#333333" opacity="0.53"/>
<circle cx="451.6" cy="659.1" r="4.2" fill="#333333" opacity="0.53"/>
<circle cx="496.1" cy="609.6" r="4.2" fill="#333333" opacity="0.53"/>
<circle cx="467.1" cy="629.9" r="4.2" fill="#333333" opacity="0.53"/>
<circle cx="450.5" cy="638.0" r="4.2" fill="#333333" opacity="0.53"/>
<circle cx="533.4" cy="573.1" r="4.2" fill="#333333" opacity="0.53"/>
<circle cx="469.4" cy="631.0" r="4.2" fill="#333333" opacity="0.53"/>
<circle cx="547.7" cy="549.2" r="4.2" fill="#333333" opacity="0.53"/>
<circle cx="524.2" cy="575.5" r="4.2" fill="#333333" opacity="0.53"/>
<circle cx="566.7" cy="530.8" r="4.2" fill="#333333" opacity="0.53"/>
<circle cx="600.7" cy="602.7" r="4.2" fill="#333333" opacity="0.53"/>
<circle cx="452.0" cy="684.7" r="4.3" fill="#333333" opacity="0.97"/>
<circle cx="455.3" cy="654.6" r="4.2" fill="#333333" opacity="0.53"/>
<circle cx="470.2" cy="639.6" r="4.2" fill="#333333" opacity="0.53"/>
<circle cx="457.2" cy="654.4" r="4.2" fill="#333333" opacity="0.53"/>
<circle cx="457.3" cy="646.2" r="4.2" fill="#333333" opacity="0.53"/>
<circle cx="469.4" cy="638.9" r="4.2" fill="#333333" opacity="0.53"/>
<circle cx="464.9" cy="643.9" r="4.2" fill="#333333" opacity="0.53"/>
<circle cx="470.9" cy="635.4" r="4.2" fill="#333333" opacity="0.53"/>
<circle cx="468.0" cy="641.2" r="4.2" fill="#333333" opacity="0.53"/>
<circle cx="468.4" cy="637.5" r="4.2" fill="#333333" opacity="0.53"/>
<circle cx="465.6" cy="642.0" r="4.2" fill="#333333" opacity="0.53"/>
<circle cx="456.8" cy="646.3" r="4.2" fill="#333333" opacity="0.53"/>
<circle cx="463.4" cy="637.9" r="4.2" fill="#333333" opacity="0.53"/>
<circle cx="469.5" cy="632.7" r="4.2" fill="#333333" opacity="0.53"/>
<circle cx="450.9" cy="650.9" r="4.2" fill="#333333" opacity="0.53"/>
<circle cx="462.9" cy="666.0" r="4.2" fill="#333333" opacity="0.75"/>
<circle cx="483.4" cy="640.0" r="4.2" fill="#333333" opacity="0.75"/>
<circle cx="486.2" cy="635.3" r="4.2" fill="#333333" opacity="0.75"/>
<circle cx="513.3" cy="684.8" r="4.2" fill="#333333" opacity="0.75"/>
<circle cx="453.2" cy="684.8" r="4.2" fill="#333333" opacity="0.75"/>
<circle cx="563.6" cy="592.7" r="4.2" fill="#333333" opacity="0.53"/>
<circle cx="524.0" cy="605.3" r="4.2" fill="#333333" opacity="0.53"/>
<circle cx="509.7" cy="626.3" r="4.2" fill="#333333" opacity="0.53"/>
<circle cx="499.1" cy="632.0" r="4.2" fill="#333333" opacity="0.53"/>
<circle cx="493.7" cy="628.0" r="4.2" fill="#333333" opacity="0.53"/>
<circle cx="513.3" cy="666.4" r="4.2" fill="#333333" opacity="0.53"/>
<circle cx="505.3" cy="677.3" r="4.2" fill="#333333" opacity="0.53"/>
<circle cx="450.7" cy="667.7" r="4.2" fill="#333333" opacity="0.53"/>
<circle cx="456.7" cy="672.0" r="4.2" fill="#333333" opacity="0.53"/>
<circle cx="468.9" cy="677.3" r="4.2" fill="#333333" opacity="0.53"/>
<circle cx="459.6" cy="688.3" r="4.2" fill="#333333" opacity="0.53"/>
<circle cx="470.7" cy="688.3" r="4.2" fill="#333333" opacity="0.53"/>
<circle cx="474.0" cy="688.3" r="4.2" fill="#333333" opacity="0.53"/>
<circle cx="480.4" cy="688.3" r="4.2" fill="#333333" opacity="0.53"/>
<circle cx="483.3" cy="648.0" r="4.2" fill="#333333" opacity="0.53"/>
<circle cx="488.7" cy="652.7" r="4.2" fill="#333333" opacity="0.53"/>
<circle cx="489.3" cy="657.3" r="4.2" fill="#333333" opacity="0.53"/>
<circle cx="496.4" cy="659.3" r="4.2" fill="#333333" opacity="0.53"/>
<circle cx="536.7" cy="580.7" r="4.2" fill="#333333" opacity="0.53"/>
<circle cx="534.7" cy="575.3" r="4.2" fill="#333333" opacity="0.53"/>
<circle cx="546.7" cy="570.0" r="4.2" fill="#333333" opacity="0.53"/>
<circle cx="614.0" cy="484.1" r="4.2" fill="#333333" opacity="0.53"/>
<circle cx="597.2" cy="500.1" r="4.2" fill="#333333" opacity="0.53"/>
<circle cx="595.7" cy="508.2" r="4.2" fill="#333333" opacity="0.53"/>
<circle cx="579.3" cy="534.9" r="4.2" fill="#333333" opacity="0.53"/>
<circle cx="582.3" cy="525.4" r="4.2" fill="#333333" opacity="0.53"/>
<circle cx="548.8" cy="534.1" r="4.2" fill="#333333" opacity="0.53"/>
<circle cx="556.4" cy="532.6" r="4.2" fill="#333333" opacity="0.53"/>
<circle cx="567.1" cy="546.0" r="4.2" fill="#333333" opacity="0.53"/>
<circle cx="562.5" cy="551.7" r="4.2" fill="#333333" opacity="0.53"/>
<circle cx="545.7" cy="563.1" r="4.2" fill="#333333" opacity="0.53"/>
<circle cx="547.2" cy="570.0" r="4.2" fill="#333333" opacity="0.53"/>
<circle cx="454.0" cy="684.7" r="4.2" fill="#333333" opacity="0.53"/>
<circle cx="463.1" cy="666.4" r="4.2" fill="#333333" opacity="0.53"/>
<circle cx="513.3" cy="684.7" r="4.2" fill="#333333" opacity="0.53"/>
<circle cx="483.3" cy="640.0" r="4.2" fill="#333333" opacity="0.53"/>
<circle cx="486.0" cy="635.3" r="4.2" fill="#333333" opacity="0.53"/>
<circle cx="650.6" cy="437.3" r="4.3" fill="#333333" opacity="0.97"/>
<circle cx="627.7" cy="475.9" r="4.3" fill="#333333" opacity="0.97"/>
<circle cx="571.1" cy="655.3" r="4.3" fill="#333333" opacity="0.97"/>
<circle cx="582.3" cy="497.2" r="4.3" fill="#333333" opacity="0.97"/>
<circle cx="573.2" cy="507.1" r="4.3" fill="#333333" opacity="0.97"/>
<circle cx="540.7" cy="572.0" r="4.3" fill="#333333" opacity="0.97"/>
<text transform="translate(704.70 384.50) scale(1 1.045) translate(-704.70 -384.50)" x="704.70" y="384.50" font-size="38" font-weight="bold">E</text>
<text transform="translate(786.30 387.80) scale(1 1.045) translate(-786.30 -387.80)" x="786.30" y="387.80" font-size="17.5">Median</text>
<text transform="translate(866.80 387.80) scale(1 1.045) translate(-866.80 -387.80)" x="866.80" y="387.80" font-size="17.5">0.0 %</text>
<text transform="translate(978.00 387.80) scale(1 1.045) translate(-978.00 -387.80)" x="978.00" y="387.80" font-size="17.5">35.7 %</text>
<text transform="translate(1093.50 387.80) scale(1 1.045) translate(-1093.50 -387.80)" x="1093.50" y="387.80" font-size="17.5">48.2 %</text>
<line x1="790.70" y1="422.50" x2="790.70" y2="695.20" stroke="#231f20" stroke-width="2.3"/>
<line x1="790.70" y1="694.30" x2="797.70" y2="694.30" stroke="#231f20" stroke-width="2.0"/>
<line x1="790.70" y1="583.80" x2="797.70" y2="583.80" stroke="#231f20" stroke-width="2.0"/>
<line x1="790.70" y1="473.30" x2="797.70" y2="473.30" stroke="#231f20" stroke-width="2.0"/>
<line x1="790.70" y1="639.05" x2="795.50" y2="639.05" stroke="#231f20" stroke-width="2.0"/>
<line x1="790.70" y1="528.55" x2="795.50" y2="528.55" stroke="#231f20" stroke-width="2.0"/>
<text transform="translate(787.50 480.20) scale(1 1.045) translate(-787.50 -480.20)" x="787.50" y="480.20" font-size="17.3" font-weight="bold" text-anchor="end">100</text>
<text transform="translate(787.50 590.70) scale(1 1.045) translate(-787.50 -590.70)" x="787.50" y="590.70" font-size="17.3" font-weight="bold" text-anchor="end">50</text>
<text transform="translate(787.50 701.20) scale(1 1.045) translate(-787.50 -701.20)" x="787.50" y="701.20" font-size="17.3" font-weight="bold" text-anchor="end">0</text>
<line x1="800.50" y1="473.30" x2="1200.00" y2="473.30" stroke="#231f20" stroke-width="2.4" stroke-dasharray="0.01 4.72" stroke-linecap="round"/>
<line x1="800.50" y1="694.30" x2="1200.00" y2="694.30" stroke="#231f20" stroke-width="2.4" stroke-dasharray="0.01 4.72" stroke-linecap="round"/>
<line x1="811.70" y1="715.40" x2="1200.00" y2="715.40" stroke="#231f20" stroke-width="2.0"/>
<line x1="888.75" y1="715.40" x2="888.75" y2="725.50" stroke="#231f20" stroke-width="2.0"/>
<line x1="1005.20" y1="715.40" x2="1005.20" y2="725.50" stroke="#231f20" stroke-width="2.0"/>
<line x1="1121.50" y1="715.40" x2="1121.50" y2="725.50" stroke="#231f20" stroke-width="2.0"/>
<text x="753.50" y="577.00" font-size="17.3" font-weight="bold" text-anchor="middle" transform="translate(753.50 577.00) rotate(-90) scale(1 1.045) translate(-753.50 -577.00)">ox/unox (%), normalized reads</text>
<text transform="translate(888.60 741.60) scale(1 1.045) translate(-888.60 -741.60)" x="888.60" y="741.60" font-size="16.7" font-weight="bold" text-anchor="middle">HenT6B/HenT6B</text>
<text transform="translate(1005.00 741.60) scale(1 1.045) translate(-1005.00 -741.60)" x="1005.00" y="741.60" font-size="16.7" font-weight="bold" text-anchor="middle">HenT6B/+</text>
<text transform="translate(1121.30 741.60) scale(1 1.045) translate(-1121.30 -741.60)" x="1121.30" y="741.60" font-size="16.7" font-weight="bold" text-anchor="middle">HenT6B/HenT6B</text>
<line x1="985.00" y1="750.60" x2="1139.60" y2="750.60" stroke="#231f20" stroke-width="2.0"/>
<text transform="translate(1073.70 768.00) scale(1 1.045) translate(-1073.70 -768.00)" x="1073.7" y="768" font-size="16.7" font-weight="bold" text-anchor="middle" fill="#231f20"><tspan font-style="italic">CD79a</tspan>-Cre</text>
<circle cx="1033.2" cy="694.0" r="3.75" fill="#505050" opacity="0.74"/>
<circle cx="1011.0" cy="694.0" r="3.75" fill="#505050" opacity="0.74"/>
<circle cx="994.0" cy="693.8" r="3.75" fill="#505050" opacity="0.74"/>
<circle cx="1018.9" cy="694.2" r="3.75" fill="#505050" opacity="0.74"/>
<circle cx="1039.3" cy="694.3" r="3.75" fill="#505050" opacity="0.74"/>
<circle cx="982.4" cy="693.9" r="3.75" fill="#505050" opacity="0.74"/>
<circle cx="976.6" cy="694.3" r="3.75" fill="#505050" opacity="0.74"/>
<circle cx="1027.1" cy="694.0" r="3.75" fill="#505050" opacity="0.74"/>
<circle cx="1005.3" cy="694.0" r="3.75" fill="#505050" opacity="0.74"/>
<circle cx="988.7" cy="693.8" r="3.75" fill="#505050" opacity="0.74"/>
<circle cx="969.9" cy="693.7" r="3.75" fill="#505050" opacity="0.74"/>
<circle cx="1000.7" cy="693.9" r="3.75" fill="#505050" opacity="0.74"/>
<circle cx="1022.9" cy="694.1" r="3.75" fill="#505050" opacity="0.74"/>
<circle cx="1015.0" cy="693.9" r="3.75" fill="#505050" opacity="0.74"/>
<circle cx="1034.3" cy="687.2" r="3.75" fill="#505050" opacity="0.74"/>
<circle cx="985.1" cy="690.2" r="3.75" fill="#505050" opacity="0.74"/>
<circle cx="1024.4" cy="686.3" r="3.75" fill="#505050" opacity="0.74"/>
<circle cx="1009.0" cy="689.0" r="3.75" fill="#505050" opacity="0.74"/>
<circle cx="1013.7" cy="687.5" r="3.75" fill="#505050" opacity="0.74"/>
<circle cx="975.6" cy="683.3" r="3.75" fill="#505050" opacity="0.74"/>
<circle cx="1005.2" cy="683.6" r="3.75" fill="#505050" opacity="0.74"/>
<circle cx="995.4" cy="688.6" r="3.75" fill="#505050" opacity="0.74"/>
<circle cx="999.6" cy="687.9" r="3.75" fill="#505050" opacity="0.74"/>
<circle cx="978.3" cy="686.8" r="3.75" fill="#505050" opacity="0.74"/>
<circle cx="1028.7" cy="686.1" r="3.75" fill="#505050" opacity="0.74"/>
<circle cx="1018.9" cy="686.9" r="3.75" fill="#505050" opacity="0.74"/>
<circle cx="988.0" cy="684.2" r="3.75" fill="#505050" opacity="0.74"/>
<circle cx="981.0" cy="683.8" r="3.75" fill="#505050" opacity="0.74"/>
<circle cx="997.9" cy="683.5" r="3.75" fill="#505050" opacity="0.74"/>
<circle cx="1016.2" cy="684.0" r="3.75" fill="#505050" opacity="0.74"/>
<circle cx="989.1" cy="676.7" r="3.75" fill="#505050" opacity="0.74"/>
<circle cx="1018.4" cy="677.9" r="3.75" fill="#505050" opacity="0.74"/>
<circle cx="1021.0" cy="682.0" r="3.75" fill="#505050" opacity="0.74"/>
<circle cx="1022.7" cy="676.4" r="3.75" fill="#505050" opacity="0.74"/>
<circle cx="1004.9" cy="679.5" r="3.75" fill="#505050" opacity="0.74"/>
<circle cx="992.8" cy="678.8" r="3.75" fill="#505050" opacity="0.74"/>
<circle cx="998.8" cy="679.2" r="3.75" fill="#505050" opacity="0.74"/>
<circle cx="1011.7" cy="681.2" r="3.75" fill="#505050" opacity="0.74"/>
<circle cx="1012.5" cy="677.0" r="3.75" fill="#505050" opacity="0.74"/>
<circle cx="1016.2" cy="674.6" r="3.75" fill="#505050" opacity="0.74"/>
<circle cx="995.0" cy="670.6" r="3.75" fill="#505050" opacity="0.74"/>
<circle cx="974.8" cy="660.6" r="3.75" fill="#505050" opacity="0.74"/>
<circle cx="981.4" cy="673.4" r="3.75" fill="#505050" opacity="0.74"/>
<circle cx="1033.4" cy="653.6" r="3.75" fill="#505050" opacity="0.74"/>
<circle cx="1028.9" cy="656.3" r="3.75" fill="#505050" opacity="0.74"/>
<circle cx="997.6" cy="656.1" r="3.75" fill="#505050" opacity="0.74"/>
<circle cx="1037.0" cy="664.6" r="3.75" fill="#505050" opacity="0.74"/>
<circle cx="1006.0" cy="652.2" r="3.75" fill="#505050" opacity="0.74"/>
<circle cx="1001.6" cy="666.9" r="3.75" fill="#505050" opacity="0.74"/>
<circle cx="997.2" cy="660.2" r="3.75" fill="#505050" opacity="0.74"/>
<circle cx="1028.3" cy="672.6" r="3.75" fill="#505050" opacity="0.74"/>
<circle cx="985.7" cy="665.0" r="3.75" fill="#505050" opacity="0.74"/>
<circle cx="1018.0" cy="656.3" r="3.75" fill="#505050" opacity="0.74"/>
<circle cx="1017.8" cy="668.4" r="3.75" fill="#505050" opacity="0.74"/>
<circle cx="1007.6" cy="663.5" r="3.75" fill="#505050" opacity="0.74"/>
<circle cx="1023.7" cy="654.5" r="3.75" fill="#505050" opacity="0.74"/>
<circle cx="1028.0" cy="667.8" r="3.75" fill="#505050" opacity="0.74"/>
<circle cx="1006.7" cy="658.2" r="3.75" fill="#505050" opacity="0.74"/>
<circle cx="987.0" cy="660.3" r="3.75" fill="#505050" opacity="0.74"/>
<circle cx="1033.2" cy="662.0" r="3.75" fill="#505050" opacity="0.74"/>
<circle cx="993.0" cy="657.0" r="3.75" fill="#505050" opacity="0.74"/>
<circle cx="1025.3" cy="664.5" r="3.75" fill="#505050" opacity="0.74"/>
<circle cx="979.5" cy="662.9" r="3.75" fill="#505050" opacity="0.74"/>
<circle cx="986.9" cy="654.9" r="3.75" fill="#505050" opacity="0.74"/>
<circle cx="994.3" cy="650.4" r="3.75" fill="#505050" opacity="0.74"/>
<circle cx="1013.8" cy="656.8" r="3.75" fill="#505050" opacity="0.74"/>
<circle cx="981.2" cy="657.6" r="3.75" fill="#505050" opacity="0.74"/>
<circle cx="1001.3" cy="671.9" r="3.75" fill="#505050" opacity="0.74"/>
<circle cx="1015.8" cy="662.9" r="3.75" fill="#505050" opacity="0.74"/>
<circle cx="1002.0" cy="660.4" r="3.75" fill="#505050" opacity="0.74"/>
<circle cx="1021.0" cy="664.2" r="3.75" fill="#505050" opacity="0.74"/>
<circle cx="1011.3" cy="673.3" r="3.75" fill="#505050" opacity="0.74"/>
<circle cx="1000.0" cy="652.0" r="3.75" fill="#505050" opacity="0.74"/>
<circle cx="1039.1" cy="669.5" r="3.75" fill="#505050" opacity="0.74"/>
<circle cx="1006.0" cy="672.0" r="3.75" fill="#505050" opacity="0.74"/>
<circle cx="975.0" cy="667.0" r="3.75" fill="#505050" opacity="0.74"/>
<circle cx="991.8" cy="662.5" r="3.75" fill="#505050" opacity="0.74"/>
<circle cx="1012.5" cy="669.5" r="3.75" fill="#505050" opacity="0.74"/>
<circle cx="1009.6" cy="654.5" r="3.75" fill="#505050" opacity="0.74"/>
<circle cx="1010.4" cy="660.8" r="3.75" fill="#505050" opacity="0.74"/>
<circle cx="985.7" cy="638.0" r="3.75" fill="#505050" opacity="0.74"/>
<circle cx="1025.7" cy="638.3" r="3.75" fill="#505050" opacity="0.74"/>
<circle cx="1017.3" cy="640.5" r="3.75" fill="#505050" opacity="0.74"/>
<circle cx="998.5" cy="646.9" r="3.75" fill="#505050" opacity="0.74"/>
<circle cx="981.9" cy="635.8" r="3.75" fill="#505050" opacity="0.74"/>
<circle cx="1012.4" cy="647.1" r="3.75" fill="#505050" opacity="0.74"/>
<circle cx="996.1" cy="642.9" r="3.75" fill="#505050" opacity="0.74"/>
<circle cx="1008.1" cy="636.2" r="3.75" fill="#505050" opacity="0.74"/>
<circle cx="1027.0" cy="646.7" r="3.75" fill="#505050" opacity="0.74"/>
<circle cx="985.0" cy="647.9" r="3.75" fill="#505050" opacity="0.74"/>
<circle cx="1004.6" cy="648.4" r="3.75" fill="#505050" opacity="0.74"/>
<circle cx="1030.2" cy="641.3" r="3.75" fill="#505050" opacity="0.74"/>
<circle cx="978.6" cy="646.2" r="3.75" fill="#505050" opacity="0.74"/>
<circle cx="984.4" cy="642.0" r="3.75" fill="#505050" opacity="0.74"/>
<circle cx="989.0" cy="640.9" r="3.75" fill="#505050" opacity="0.74"/>
<circle cx="997.6" cy="637.4" r="3.75" fill="#505050" opacity="0.74"/>
<circle cx="991.6" cy="646.1" r="3.75" fill="#505050" opacity="0.74"/>
<circle cx="1015.8" cy="649.2" r="3.75" fill="#505050" opacity="0.74"/>
<circle cx="1009.3" cy="643.4" r="3.75" fill="#505050" opacity="0.74"/>
<circle cx="1017.3" cy="636.4" r="3.75" fill="#505050" opacity="0.74"/>
<circle cx="1022.5" cy="641.9" r="3.75" fill="#505050" opacity="0.74"/>
<circle cx="1004.1" cy="644.4" r="3.75" fill="#505050" opacity="0.74"/>
<circle cx="1006.6" cy="626.1" r="3.75" fill="#505050" opacity="0.74"/>
<circle cx="1025.4" cy="628.9" r="3.75" fill="#505050" opacity="0.74"/>
<circle cx="1032.8" cy="629.9" r="3.75" fill="#505050" opacity="0.74"/>
<circle cx="994.2" cy="634.6" r="3.75" fill="#505050" opacity="0.74"/>
<circle cx="1011.0" cy="625.4" r="3.75" fill="#505050" opacity="0.74"/>
<circle cx="999.8" cy="624.1" r="3.75" fill="#505050" opacity="0.74"/>
<circle cx="990.1" cy="625.3" r="3.75" fill="#505050" opacity="0.74"/>
<circle cx="991.3" cy="629.7" r="3.75" fill="#505050" opacity="0.74"/>
<circle cx="1017.8" cy="628.8" r="3.75" fill="#505050" opacity="0.74"/>
<circle cx="974.4" cy="624.3" r="3.75" fill="#505050" opacity="0.74"/>
<circle cx="995.2" cy="624.5" r="3.75" fill="#505050" opacity="0.74"/>
<circle cx="1020.9" cy="625.9" r="3.75" fill="#505050" opacity="0.74"/>
<circle cx="997.3" cy="627.8" r="3.75" fill="#505050" opacity="0.74"/>
<circle cx="985.6" cy="629.5" r="3.75" fill="#505050" opacity="0.74"/>
<circle cx="1010.7" cy="631.1" r="3.75" fill="#505050" opacity="0.74"/>
<circle cx="1003.3" cy="632.1" r="3.75" fill="#505050" opacity="0.74"/>
<circle cx="1021.5" cy="630.8" r="3.75" fill="#505050" opacity="0.74"/>
<circle cx="981.1" cy="624.3" r="3.75" fill="#505050" opacity="0.74"/>
<circle cx="979.9" cy="614.2" r="3.75" fill="#505050" opacity="0.74"/>
<circle cx="977.5" cy="605.1" r="3.75" fill="#505050" opacity="0.74"/>
<circle cx="998.8" cy="597.3" r="3.75" fill="#505050" opacity="0.74"/>
<circle cx="1019.3" cy="600.3" r="3.75" fill="#505050" opacity="0.74"/>
<circle cx="1034.3" cy="607.0" r="3.75" fill="#505050" opacity="0.74"/>
<circle cx="1005.4" cy="610.3" r="3.75" fill="#505050" opacity="0.74"/>
<circle cx="1013.7" cy="607.2" r="3.75" fill="#505050" opacity="0.74"/>
<circle cx="997.0" cy="619.8" r="3.75" fill="#505050" opacity="0.74"/>
<circle cx="987.5" cy="607.8" r="3.75" fill="#505050" opacity="0.74"/>
<circle cx="1027.3" cy="600.3" r="3.75" fill="#505050" opacity="0.74"/>
<circle cx="983.6" cy="608.4" r="3.75" fill="#505050" opacity="0.74"/>
<circle cx="1038.5" cy="614.4" r="3.75" fill="#505050" opacity="0.74"/>
<circle cx="1017.9" cy="619.4" r="3.75" fill="#505050" opacity="0.74"/>
<circle cx="1014.1" cy="614.8" r="3.75" fill="#505050" opacity="0.74"/>
<circle cx="1032.5" cy="622.6" r="3.75" fill="#505050" opacity="0.74"/>
<circle cx="1022.3" cy="608.8" r="3.75" fill="#505050" opacity="0.74"/>
<circle cx="1009.0" cy="616.2" r="3.75" fill="#505050" opacity="0.74"/>
<circle cx="972.1" cy="598.5" r="3.75" fill="#505050" opacity="0.74"/>
<circle cx="975.9" cy="618.6" r="3.75" fill="#505050" opacity="0.74"/>
<circle cx="1028.8" cy="608.4" r="3.75" fill="#505050" opacity="0.74"/>
<circle cx="999.0" cy="615.8" r="3.75" fill="#505050" opacity="0.74"/>
<circle cx="1005.2" cy="618.2" r="3.75" fill="#505050" opacity="0.74"/>
<circle cx="995.7" cy="613.4" r="3.75" fill="#505050" opacity="0.74"/>
<circle cx="1012.5" cy="621.1" r="3.75" fill="#505050" opacity="0.74"/>
<circle cx="1019.8" cy="605.0" r="3.75" fill="#505050" opacity="0.74"/>
<circle cx="988.1" cy="598.9" r="3.75" fill="#505050" opacity="0.74"/>
<circle cx="1021.6" cy="614.1" r="3.75" fill="#505050" opacity="0.74"/>
<circle cx="985.7" cy="612.3" r="3.75" fill="#505050" opacity="0.74"/>
<circle cx="984.2" cy="620.4" r="3.75" fill="#505050" opacity="0.74"/>
<circle cx="974.9" cy="602.0" r="3.75" fill="#505050" opacity="0.74"/>
<circle cx="1028.0" cy="619.6" r="3.75" fill="#505050" opacity="0.74"/>
<circle cx="1000.9" cy="603.3" r="3.75" fill="#505050" opacity="0.74"/>
<circle cx="1010.5" cy="603.3" r="3.75" fill="#505050" opacity="0.74"/>
<circle cx="1023.2" cy="620.4" r="3.75" fill="#505050" opacity="0.74"/>
<circle cx="1033.7" cy="618.5" r="3.75" fill="#505050" opacity="0.74"/>
<circle cx="1037.9" cy="622.2" r="3.75" fill="#505050" opacity="0.74"/>
<circle cx="1026.0" cy="614.6" r="3.75" fill="#505050" opacity="0.74"/>
<circle cx="994.3" cy="605.1" r="3.75" fill="#505050" opacity="0.74"/>
<circle cx="998.3" cy="606.3" r="3.75" fill="#505050" opacity="0.74"/>
<circle cx="1035.6" cy="603.0" r="3.75" fill="#505050" opacity="0.74"/>
<circle cx="1023.2" cy="597.3" r="3.75" fill="#505050" opacity="0.74"/>
<circle cx="990.9" cy="616.7" r="3.75" fill="#505050" opacity="0.74"/>
<circle cx="1013.7" cy="598.5" r="3.75" fill="#505050" opacity="0.74"/>
<circle cx="1015.8" cy="603.9" r="3.75" fill="#505050" opacity="0.74"/>
<circle cx="984.7" cy="616.2" r="3.75" fill="#505050" opacity="0.74"/>
<circle cx="1003.7" cy="599.8" r="3.75" fill="#505050" opacity="0.74"/>
<circle cx="972.6" cy="615.0" r="3.75" fill="#505050" opacity="0.74"/>
<circle cx="993.7" cy="599.9" r="3.75" fill="#505050" opacity="0.74"/>
<circle cx="1006.7" cy="582.4" r="3.75" fill="#505050" opacity="0.74"/>
<circle cx="980.6" cy="593.1" r="3.75" fill="#505050" opacity="0.74"/>
<circle cx="994.7" cy="580.9" r="3.75" fill="#505050" opacity="0.74"/>
<circle cx="978.5" cy="573.9" r="3.75" fill="#505050" opacity="0.74"/>
<circle cx="993.6" cy="588.9" r="3.75" fill="#505050" opacity="0.74"/>
<circle cx="981.5" cy="584.7" r="3.75" fill="#505050" opacity="0.74"/>
<circle cx="1020.4" cy="586.5" r="3.75" fill="#505050" opacity="0.74"/>
<circle cx="1003.4" cy="593.4" r="3.75" fill="#505050" opacity="0.74"/>
<circle cx="1028.1" cy="579.2" r="3.75" fill="#505050" opacity="0.74"/>
<circle cx="988.6" cy="574.3" r="3.75" fill="#505050" opacity="0.74"/>
<circle cx="996.1" cy="593.3" r="3.75" fill="#505050" opacity="0.74"/>
<circle cx="1011.2" cy="593.3" r="3.75" fill="#505050" opacity="0.74"/>
<circle cx="1000.6" cy="577.5" r="3.75" fill="#505050" opacity="0.74"/>
<circle cx="1012.7" cy="579.0" r="3.75" fill="#505050" opacity="0.74"/>
<circle cx="988.2" cy="584.7" r="3.75" fill="#505050" opacity="0.74"/>
<circle cx="1028.8" cy="575.0" r="3.75" fill="#505050" opacity="0.74"/>
<circle cx="1024.9" cy="586.8" r="3.75" fill="#505050" opacity="0.74"/>
<circle cx="983.1" cy="574.5" r="3.75" fill="#505050" opacity="0.74"/>
<circle cx="1032.3" cy="587.4" r="3.75" fill="#505050" opacity="0.74"/>
<circle cx="1030.4" cy="595.8" r="3.75" fill="#505050" opacity="0.74"/>
<circle cx="984.4" cy="591.4" r="3.75" fill="#505050" opacity="0.74"/>
<circle cx="1010.4" cy="584.2" r="3.75" fill="#505050" opacity="0.74"/>
<circle cx="1016.8" cy="576.0" r="3.75" fill="#505050" opacity="0.74"/>
<circle cx="1016.6" cy="582.9" r="3.75" fill="#505050" opacity="0.74"/>
<circle cx="1002.7" cy="587.3" r="3.75" fill="#505050" opacity="0.74"/>
<circle cx="1007.1" cy="595.8" r="3.75" fill="#505050" opacity="0.74"/>
<circle cx="1032.4" cy="592.2" r="3.75" fill="#505050" opacity="0.74"/>
<circle cx="995.2" cy="576.2" r="3.75" fill="#505050" opacity="0.74"/>
<circle cx="1023.7" cy="581.6" r="3.75" fill="#505050" opacity="0.74"/>
<circle cx="991.6" cy="593.7" r="3.75" fill="#505050" opacity="0.74"/>
<circle cx="1023.9" cy="574.1" r="3.75" fill="#505050" opacity="0.74"/>
<circle cx="1017.0" cy="589.9" r="3.75" fill="#505050" opacity="0.74"/>
<circle cx="1013.0" cy="587.6" r="3.75" fill="#505050" opacity="0.74"/>
<circle cx="1033.2" cy="580.3" r="3.75" fill="#505050" opacity="0.74"/>
<circle cx="989.2" cy="579.1" r="3.75" fill="#505050" opacity="0.74"/>
<circle cx="1038.2" cy="586.5" r="3.75" fill="#505050" opacity="0.74"/>
<circle cx="979.2" cy="578.9" r="3.75" fill="#505050" opacity="0.74"/>
<circle cx="978.1" cy="596.4" r="3.75" fill="#505050" opacity="0.74"/>
<circle cx="1028.3" cy="590.4" r="3.75" fill="#505050" opacity="0.74"/>
<circle cx="984.5" cy="581.1" r="3.75" fill="#505050" opacity="0.74"/>
<circle cx="1007.2" cy="587.9" r="3.75" fill="#505050" opacity="0.74"/>
<circle cx="1033.0" cy="575.0" r="3.75" fill="#505050" opacity="0.74"/>
<circle cx="1011.0" cy="569.5" r="3.75" fill="#505050" opacity="0.74"/>
<circle cx="986.4" cy="564.0" r="3.75" fill="#505050" opacity="0.74"/>
<circle cx="1029.2" cy="569.1" r="3.75" fill="#505050" opacity="0.74"/>
<circle cx="987.2" cy="559.8" r="3.75" fill="#505050" opacity="0.74"/>
<circle cx="1004.3" cy="565.7" r="3.75" fill="#505050" opacity="0.74"/>
<circle cx="981.0" cy="570.1" r="3.75" fill="#505050" opacity="0.74"/>
<circle cx="989.5" cy="568.4" r="3.75" fill="#505050" opacity="0.74"/>
<circle cx="1032.6" cy="562.6" r="3.75" fill="#505050" opacity="0.74"/>
<circle cx="1010.9" cy="559.2" r="3.75" fill="#505050" opacity="0.74"/>
<circle cx="1000.3" cy="563.2" r="3.75" fill="#505050" opacity="0.74"/>
<circle cx="993.6" cy="569.7" r="3.75" fill="#505050" opacity="0.74"/>
<circle cx="999.8" cy="569.6" r="3.75" fill="#505050" opacity="0.74"/>
<circle cx="975.5" cy="570.4" r="3.75" fill="#505050" opacity="0.74"/>
<circle cx="1017.5" cy="570.8" r="3.75" fill="#505050" opacity="0.74"/>
<circle cx="1037.7" cy="562.3" r="3.75" fill="#505050" opacity="0.74"/>
<circle cx="997.4" cy="566.2" r="3.75" fill="#505050" opacity="0.74"/>
<circle cx="1004.1" cy="559.1" r="3.75" fill="#505050" opacity="0.74"/>
<circle cx="977.5" cy="566.5" r="3.75" fill="#505050" opacity="0.74"/>
<circle cx="1017.4" cy="558.6" r="3.75" fill="#505050" opacity="0.74"/>
<circle cx="1023.2" cy="568.7" r="3.75" fill="#505050" opacity="0.74"/>
<circle cx="993.3" cy="565.3" r="3.75" fill="#505050" opacity="0.74"/>
<circle cx="1015.7" cy="562.4" r="3.75" fill="#505050" opacity="0.74"/>
<circle cx="1036.4" cy="569.4" r="3.75" fill="#505050" opacity="0.74"/>
<circle cx="978.4" cy="561.5" r="3.75" fill="#505050" opacity="0.74"/>
<circle cx="1026.2" cy="561.4" r="3.75" fill="#505050" opacity="0.74"/>
<circle cx="1019.3" cy="566.2" r="3.75" fill="#505050" opacity="0.74"/>
<circle cx="996.2" cy="555.7" r="3.75" fill="#505050" opacity="0.74"/>
<circle cx="1014.8" cy="555.1" r="3.75" fill="#505050" opacity="0.74"/>
<circle cx="990.9" cy="554.2" r="3.75" fill="#505050" opacity="0.74"/>
<circle cx="1001.1" cy="555.1" r="3.75" fill="#505050" opacity="0.74"/>
<circle cx="1006.8" cy="555.2" r="3.75" fill="#505050" opacity="0.74"/>
<circle cx="1009.3" cy="545.7" r="3.75" fill="#505050" opacity="0.74"/>
<circle cx="1004.0" cy="550.2" r="3.75" fill="#505050" opacity="0.74"/>
<circle cx="1010.6" cy="541.4" r="3.75" fill="#505050" opacity="0.74"/>
<circle cx="1011.8" cy="550.2" r="3.75" fill="#505050" opacity="0.74"/>
<circle cx="1005.1" cy="542.0" r="3.75" fill="#505050" opacity="0.74"/>
<circle cx="1000.1" cy="535.8" r="3.75" fill="#505050" opacity="0.74"/>
<circle cx="1005.8" cy="517.7" r="3.75" fill="#505050" opacity="0.74"/>
<circle cx="999.6" cy="528.8" r="3.75" fill="#505050" opacity="0.74"/>
<circle cx="1000.4" cy="516.5" r="3.75" fill="#505050" opacity="0.74"/>
<circle cx="1009.7" cy="528.4" r="3.75" fill="#505050" opacity="0.74"/>
<circle cx="1002.6" cy="522.4" r="3.75" fill="#505050" opacity="0.74"/>
<circle cx="1011.7" cy="513.9" r="3.75" fill="#505050" opacity="0.74"/>
<circle cx="1010.6" cy="521.1" r="3.75" fill="#505050" opacity="0.74"/>
<circle cx="1005.0" cy="501.3" r="3.75" fill="#505050" opacity="0.74"/>
<circle cx="1000.7" cy="501.7" r="3.75" fill="#505050" opacity="0.74"/>
<circle cx="1009.6" cy="503.3" r="3.75" fill="#505050" opacity="0.74"/>
<circle cx="1013.6" cy="504.1" r="3.75" fill="#505050" opacity="0.74"/>
<circle cx="995.6" cy="502.7" r="3.75" fill="#505050" opacity="0.74"/>
<circle cx="1124.9" cy="694.0" r="3.75" fill="#505050" opacity="0.74"/>
<circle cx="1138.8" cy="693.7" r="3.75" fill="#505050" opacity="0.74"/>
<circle cx="1149.2" cy="694.0" r="3.75" fill="#505050" opacity="0.74"/>
<circle cx="1104.7" cy="694.0" r="3.75" fill="#505050" opacity="0.74"/>
<circle cx="1109.5" cy="693.8" r="3.75" fill="#505050" opacity="0.74"/>
<circle cx="1117.9" cy="694.1" r="3.75" fill="#505050" opacity="0.74"/>
<circle cx="1097.1" cy="694.2" r="3.75" fill="#505050" opacity="0.74"/>
<circle cx="1129.3" cy="694.0" r="3.75" fill="#505050" opacity="0.74"/>
<circle cx="1089.8" cy="693.7" r="3.75" fill="#505050" opacity="0.74"/>
<circle cx="1144.9" cy="694.2" r="3.75" fill="#505050" opacity="0.74"/>
<circle cx="1134.6" cy="693.7" r="3.75" fill="#505050" opacity="0.74"/>
<circle cx="1113.5" cy="694.0" r="3.75" fill="#505050" opacity="0.74"/>
<circle cx="1154.4" cy="693.9" r="3.75" fill="#505050" opacity="0.74"/>
<circle cx="1118.3" cy="686.7" r="3.75" fill="#505050" opacity="0.74"/>
<circle cx="1101.6" cy="690.9" r="3.75" fill="#505050" opacity="0.74"/>
<circle cx="1108.3" cy="686.2" r="3.75" fill="#505050" opacity="0.74"/>
<circle cx="1130.2" cy="686.0" r="3.75" fill="#505050" opacity="0.74"/>
<circle cx="1102.2" cy="685.8" r="3.75" fill="#505050" opacity="0.74"/>
<circle cx="1134.4" cy="687.2" r="3.75" fill="#505050" opacity="0.74"/>
<circle cx="1140.3" cy="686.6" r="3.75" fill="#505050" opacity="0.74"/>
<circle cx="1097.6" cy="689.0" r="3.75" fill="#505050" opacity="0.74"/>
<circle cx="1121.0" cy="662.2" r="3.75" fill="#505050" opacity="0.74"/>
<circle cx="1112.6" cy="681.7" r="3.75" fill="#505050" opacity="0.74"/>
<circle cx="1122.9" cy="679.5" r="3.75" fill="#505050" opacity="0.74"/>
<circle cx="1125.1" cy="675.9" r="3.75" fill="#505050" opacity="0.74"/>
<circle cx="1131.9" cy="681.2" r="3.75" fill="#505050" opacity="0.74"/>
<circle cx="1120.8" cy="683.1" r="3.75" fill="#505050" opacity="0.74"/>
<circle cx="1131.9" cy="674.3" r="3.75" fill="#505050" opacity="0.74"/>
<circle cx="1110.6" cy="671.7" r="3.75" fill="#505050" opacity="0.74"/>
<circle cx="1130.7" cy="665.7" r="3.75" fill="#505050" opacity="0.74"/>
<circle cx="1127.5" cy="668.5" r="3.75" fill="#505050" opacity="0.74"/>
<circle cx="1122.4" cy="670.5" r="3.75" fill="#505050" opacity="0.74"/>
<circle cx="1115.1" cy="663.1" r="3.75" fill="#505050" opacity="0.74"/>
<circle cx="1108.6" cy="677.7" r="3.75" fill="#505050" opacity="0.74"/>
<circle cx="1126.2" cy="661.8" r="3.75" fill="#505050" opacity="0.74"/>
<circle cx="1117.5" cy="666.6" r="3.75" fill="#505050" opacity="0.74"/>
<circle cx="1118.1" cy="673.9" r="3.75" fill="#505050" opacity="0.74"/>
<circle cx="1128.1" cy="673.1" r="3.75" fill="#505050" opacity="0.74"/>
<circle cx="1108.4" cy="663.1" r="3.75" fill="#505050" opacity="0.74"/>
<circle cx="1112.0" cy="666.8" r="3.75" fill="#505050" opacity="0.74"/>
<circle cx="1123.1" cy="666.3" r="3.75" fill="#505050" opacity="0.74"/>
<circle cx="1113.4" cy="675.9" r="3.75" fill="#505050" opacity="0.74"/>
<circle cx="1117.5" cy="679.7" r="3.75" fill="#505050" opacity="0.74"/>
<circle cx="1114.8" cy="671.0" r="3.75" fill="#505050" opacity="0.74"/>
<circle cx="1127.3" cy="683.1" r="3.75" fill="#505050" opacity="0.74"/>
<circle cx="1139.3" cy="641.0" r="3.75" fill="#505050" opacity="0.74"/>
<circle cx="1115.7" cy="651.7" r="3.75" fill="#505050" opacity="0.74"/>
<circle cx="1139.1" cy="653.9" r="3.75" fill="#505050" opacity="0.74"/>
<circle cx="1138.9" cy="659.3" r="3.75" fill="#505050" opacity="0.74"/>
<circle cx="1106.6" cy="647.5" r="3.75" fill="#505050" opacity="0.74"/>
<circle cx="1104.0" cy="658.0" r="3.75" fill="#505050" opacity="0.74"/>
<circle cx="1135.4" cy="640.1" r="3.75" fill="#505050" opacity="0.74"/>
<circle cx="1138.6" cy="647.7" r="3.75" fill="#505050" opacity="0.74"/>
<circle cx="1131.1" cy="656.6" r="3.75" fill="#505050" opacity="0.74"/>
<circle cx="1124.8" cy="654.5" r="3.75" fill="#505050" opacity="0.74"/>
<circle cx="1130.2" cy="640.5" r="3.75" fill="#505050" opacity="0.74"/>
<circle cx="1108.7" cy="654.7" r="3.75" fill="#505050" opacity="0.74"/>
<circle cx="1117.9" cy="645.1" r="3.75" fill="#505050" opacity="0.74"/>
<circle cx="1112.1" cy="640.2" r="3.75" fill="#505050" opacity="0.74"/>
<circle cx="1112.3" cy="646.7" r="3.75" fill="#505050" opacity="0.74"/>
<circle cx="1116.7" cy="639.1" r="3.75" fill="#505050" opacity="0.74"/>
<circle cx="1128.8" cy="649.0" r="3.75" fill="#505050" opacity="0.74"/>
<circle cx="1107.9" cy="640.0" r="3.75" fill="#505050" opacity="0.74"/>
<circle cx="1119.1" cy="657.4" r="3.75" fill="#505050" opacity="0.74"/>
<circle cx="1120.6" cy="651.9" r="3.75" fill="#505050" opacity="0.74"/>
<circle cx="1123.0" cy="646.5" r="3.75" fill="#505050" opacity="0.74"/>
<circle cx="1127.6" cy="643.7" r="3.75" fill="#505050" opacity="0.74"/>
<circle cx="1133.4" cy="649.3" r="3.75" fill="#505050" opacity="0.74"/>
<circle cx="1123.6" cy="641.0" r="3.75" fill="#505050" opacity="0.74"/>
<circle cx="1105.3" cy="652.4" r="3.75" fill="#505050" opacity="0.74"/>
<circle cx="1109.9" cy="658.7" r="3.75" fill="#505050" opacity="0.74"/>
<circle cx="1104.8" cy="642.5" r="3.75" fill="#505050" opacity="0.74"/>
<circle cx="1122.9" cy="658.7" r="3.75" fill="#505050" opacity="0.74"/>
<circle cx="1118.5" cy="624.2" r="3.75" fill="#505050" opacity="0.74"/>
<circle cx="1143.1" cy="628.5" r="3.75" fill="#505050" opacity="0.74"/>
<circle cx="1099.2" cy="637.1" r="3.75" fill="#505050" opacity="0.74"/>
<circle cx="1123.5" cy="632.4" r="3.75" fill="#505050" opacity="0.74"/>
<circle cx="1134.1" cy="635.4" r="3.75" fill="#505050" opacity="0.74"/>
<circle cx="1136.2" cy="624.3" r="3.75" fill="#505050" opacity="0.74"/>
<circle cx="1099.3" cy="628.1" r="3.75" fill="#505050" opacity="0.74"/>
<circle cx="1147.3" cy="634.9" r="3.75" fill="#505050" opacity="0.74"/>
<circle cx="1141.1" cy="632.6" r="3.75" fill="#505050" opacity="0.74"/>
<circle cx="1125.2" cy="627.9" r="3.75" fill="#505050" opacity="0.74"/>
<circle cx="1117.8" cy="628.7" r="3.75" fill="#505050" opacity="0.74"/>
<circle cx="1110.3" cy="635.1" r="3.75" fill="#505050" opacity="0.74"/>
<circle cx="1093.0" cy="627.9" r="3.75" fill="#505050" opacity="0.74"/>
<circle cx="1116.4" cy="633.8" r="3.75" fill="#505050" opacity="0.74"/>
<circle cx="1130.3" cy="626.3" r="3.75" fill="#505050" opacity="0.74"/>
<circle cx="1127.5" cy="631.6" r="3.75" fill="#505050" opacity="0.74"/>
<circle cx="1111.8" cy="625.2" r="3.75" fill="#505050" opacity="0.74"/>
<circle cx="1146.5" cy="624.1" r="3.75" fill="#505050" opacity="0.74"/>
<circle cx="1103.7" cy="627.3" r="3.75" fill="#505050" opacity="0.74"/>
<circle cx="1133.6" cy="629.7" r="3.75" fill="#505050" opacity="0.74"/>
<circle cx="1108.0" cy="626.3" r="3.75" fill="#505050" opacity="0.74"/>
<circle cx="1097.7" cy="624.0" r="3.75" fill="#505050" opacity="0.74"/>
<circle cx="1102.9" cy="634.4" r="3.75" fill="#505050" opacity="0.74"/>
<circle cx="1094.7" cy="637.4" r="3.75" fill="#505050" opacity="0.74"/>
<circle cx="1109.1" cy="630.5" r="3.75" fill="#505050" opacity="0.74"/>
<circle cx="1096.5" cy="630.9" r="3.75" fill="#505050" opacity="0.74"/>
<circle cx="1142.9" cy="638.3" r="3.75" fill="#505050" opacity="0.74"/>
<circle cx="1149.0" cy="631.2" r="3.75" fill="#505050" opacity="0.74"/>
<circle cx="1133.5" cy="610.2" r="3.75" fill="#505050" opacity="0.74"/>
<circle cx="1131.0" cy="606.9" r="3.75" fill="#505050" opacity="0.74"/>
<circle cx="1090.6" cy="605.0" r="3.75" fill="#505050" opacity="0.74"/>
<circle cx="1138.8" cy="602.3" r="3.75" fill="#505050" opacity="0.74"/>
<circle cx="1142.8" cy="610.2" r="3.75" fill="#505050" opacity="0.74"/>
<circle cx="1095.5" cy="615.1" r="3.75" fill="#505050" opacity="0.74"/>
<circle cx="1130.0" cy="616.2" r="3.75" fill="#505050" opacity="0.74"/>
<circle cx="1113.4" cy="604.7" r="3.75" fill="#505050" opacity="0.74"/>
<circle cx="1100.3" cy="608.5" r="3.75" fill="#505050" opacity="0.74"/>
<circle cx="1121.6" cy="603.4" r="3.75" fill="#505050" opacity="0.74"/>
<circle cx="1111.6" cy="610.2" r="3.75" fill="#505050" opacity="0.74"/>
<circle cx="1131.0" cy="599.6" r="3.75" fill="#505050" opacity="0.74"/>
<circle cx="1114.1" cy="621.2" r="3.75" fill="#505050" opacity="0.74"/>
<circle cx="1127.4" cy="612.2" r="3.75" fill="#505050" opacity="0.74"/>
<circle cx="1147.2" cy="611.5" r="3.75" fill="#505050" opacity="0.74"/>
<circle cx="1103.2" cy="620.3" r="3.75" fill="#505050" opacity="0.74"/>
<circle cx="1146.5" cy="599.4" r="3.75" fill="#505050" opacity="0.74"/>
<circle cx="1129.0" cy="620.7" r="3.75" fill="#505050" opacity="0.74"/>
<circle cx="1123.6" cy="599.3" r="3.75" fill="#505050" opacity="0.74"/>
<circle cx="1097.6" cy="604.6" r="3.75" fill="#505050" opacity="0.74"/>
<circle cx="1114.2" cy="617.2" r="3.75" fill="#505050" opacity="0.74"/>
<circle cx="1141.6" cy="618.8" r="3.75" fill="#505050" opacity="0.74"/>
<circle cx="1094.9" cy="600.3" r="3.75" fill="#505050" opacity="0.74"/>
<circle cx="1146.4" cy="603.6" r="3.75" fill="#505050" opacity="0.74"/>
<circle cx="1099.5" cy="612.7" r="3.75" fill="#505050" opacity="0.74"/>
<circle cx="1118.9" cy="616.0" r="3.75" fill="#505050" opacity="0.74"/>
<circle cx="1102.8" cy="599.5" r="3.75" fill="#505050" opacity="0.74"/>
<circle cx="1119.3" cy="610.0" r="3.75" fill="#505050" opacity="0.74"/>
<circle cx="1109.5" cy="605.8" r="3.75" fill="#505050" opacity="0.74"/>
<circle cx="1117.0" cy="602.6" r="3.75" fill="#505050" opacity="0.74"/>
<circle cx="1109.8" cy="600.5" r="3.75" fill="#505050" opacity="0.74"/>
<circle cx="1123.8" cy="607.7" r="3.75" fill="#505050" opacity="0.74"/>
<circle cx="1120.5" cy="620.7" r="3.75" fill="#505050" opacity="0.74"/>
<circle cx="1097.2" cy="619.9" r="3.75" fill="#505050" opacity="0.74"/>
<circle cx="1105.1" cy="614.4" r="3.75" fill="#505050" opacity="0.74"/>
<circle cx="1137.2" cy="614.0" r="3.75" fill="#505050" opacity="0.74"/>
<circle cx="1142.0" cy="605.9" r="3.75" fill="#505050" opacity="0.74"/>
<circle cx="1109.2" cy="618.7" r="3.75" fill="#505050" opacity="0.74"/>
<circle cx="1089.3" cy="612.0" r="3.75" fill="#505050" opacity="0.74"/>
<circle cx="1105.1" cy="607.6" r="3.75" fill="#505050" opacity="0.74"/>
<circle cx="1152.8" cy="620.7" r="3.75" fill="#505050" opacity="0.74"/>
<circle cx="1089.8" cy="599.4" r="3.75" fill="#505050" opacity="0.74"/>
<circle cx="1124.4" cy="622.9" r="3.75" fill="#505050" opacity="0.74"/>
<circle cx="1146.1" cy="619.7" r="3.75" fill="#505050" opacity="0.74"/>
<circle cx="1137.7" cy="609.9" r="3.75" fill="#505050" opacity="0.74"/>
<circle cx="1089.8" cy="618.7" r="3.75" fill="#505050" opacity="0.74"/>
<circle cx="1098.3" cy="585.3" r="3.75" fill="#505050" opacity="0.74"/>
<circle cx="1105.0" cy="585.1" r="3.75" fill="#505050" opacity="0.74"/>
<circle cx="1151.4" cy="589.3" r="3.75" fill="#505050" opacity="0.74"/>
<circle cx="1131.2" cy="594.0" r="3.75" fill="#505050" opacity="0.74"/>
<circle cx="1086.9" cy="592.8" r="3.75" fill="#505050" opacity="0.74"/>
<circle cx="1110.0" cy="594.7" r="3.75" fill="#505050" opacity="0.74"/>
<circle cx="1099.8" cy="596.9" r="3.75" fill="#505050" opacity="0.74"/>
<circle cx="1101.6" cy="593.3" r="3.75" fill="#505050" opacity="0.74"/>
<circle cx="1120.0" cy="590.9" r="3.75" fill="#505050" opacity="0.74"/>
<circle cx="1093.2" cy="595.3" r="3.75" fill="#505050" opacity="0.74"/>
<circle cx="1155.7" cy="586.1" r="3.75" fill="#505050" opacity="0.74"/>
<circle cx="1114.0" cy="598.8" r="3.75" fill="#505050" opacity="0.74"/>
<circle cx="1127.5" cy="590.1" r="3.75" fill="#505050" opacity="0.74"/>
<circle cx="1118.4" cy="597.6" r="3.75" fill="#505050" opacity="0.74"/>
<circle cx="1090.0" cy="586.3" r="3.75" fill="#505050" opacity="0.74"/>
<circle cx="1085.9" cy="584.6" r="3.75" fill="#505050" opacity="0.74"/>
<circle cx="1114.9" cy="584.3" r="3.75" fill="#505050" opacity="0.74"/>
<circle cx="1124.1" cy="585.0" r="3.75" fill="#505050" opacity="0.74"/>
<circle cx="1139.8" cy="589.8" r="3.75" fill="#505050" opacity="0.74"/>
<circle cx="1104.7" cy="589.8" r="3.75" fill="#505050" opacity="0.74"/>
<circle cx="1157.4" cy="591.9" r="3.75" fill="#505050" opacity="0.74"/>
<circle cx="1122.5" cy="595.0" r="3.75" fill="#505050" opacity="0.74"/>
<circle cx="1100.4" cy="589.0" r="3.75" fill="#505050" opacity="0.74"/>
<circle cx="1133.5" cy="584.7" r="3.75" fill="#505050" opacity="0.74"/>
<circle cx="1108.7" cy="587.3" r="3.75" fill="#505050" opacity="0.74"/>
<circle cx="1145.6" cy="587.4" r="3.75" fill="#505050" opacity="0.74"/>
<circle cx="1137.8" cy="584.8" r="3.75" fill="#505050" opacity="0.74"/>
<circle cx="1141.0" cy="595.8" r="3.75" fill="#505050" opacity="0.74"/>
<circle cx="1135.5" cy="594.7" r="3.75" fill="#505050" opacity="0.74"/>
<circle cx="1095.8" cy="592.3" r="3.75" fill="#505050" opacity="0.74"/>
<circle cx="1111.7" cy="590.9" r="3.75" fill="#505050" opacity="0.74"/>
<circle cx="1135.4" cy="588.3" r="3.75" fill="#505050" opacity="0.74"/>
<circle cx="1090.5" cy="590.8" r="3.75" fill="#505050" opacity="0.74"/>
<circle cx="1150.1" cy="595.6" r="3.75" fill="#505050" opacity="0.74"/>
<circle cx="1115.9" cy="592.8" r="3.75" fill="#505050" opacity="0.74"/>
<circle cx="1128.6" cy="584.6" r="3.75" fill="#505050" opacity="0.74"/>
<circle cx="1103.9" cy="563.9" r="3.75" fill="#505050" opacity="0.74"/>
<circle cx="1100.4" cy="558.0" r="3.75" fill="#505050" opacity="0.74"/>
<circle cx="1124.9" cy="559.8" r="3.75" fill="#505050" opacity="0.74"/>
<circle cx="1147.3" cy="561.4" r="3.75" fill="#505050" opacity="0.74"/>
<circle cx="1149.4" cy="580.4" r="3.75" fill="#505050" opacity="0.74"/>
<circle cx="1151.8" cy="575.9" r="3.75" fill="#505050" opacity="0.74"/>
<circle cx="1089.0" cy="572.6" r="3.75" fill="#505050" opacity="0.74"/>
<circle cx="1133.3" cy="557.0" r="3.75" fill="#505050" opacity="0.74"/>
<circle cx="1129.7" cy="566.7" r="3.75" fill="#505050" opacity="0.74"/>
<circle cx="1116.1" cy="567.5" r="3.75" fill="#505050" opacity="0.74"/>
<circle cx="1138.6" cy="574.6" r="3.75" fill="#505050" opacity="0.74"/>
<circle cx="1126.8" cy="569.8" r="3.75" fill="#505050" opacity="0.74"/>
<circle cx="1087.0" cy="554.8" r="3.75" fill="#505050" opacity="0.74"/>
<circle cx="1103.7" cy="554.6" r="3.75" fill="#505050" opacity="0.74"/>
<circle cx="1115.1" cy="579.3" r="3.75" fill="#505050" opacity="0.74"/>
<circle cx="1127.1" cy="579.8" r="3.75" fill="#505050" opacity="0.74"/>
<circle cx="1156.3" cy="565.5" r="3.75" fill="#505050" opacity="0.74"/>
<circle cx="1132.1" cy="574.6" r="3.75" fill="#505050" opacity="0.74"/>
<circle cx="1099.0" cy="562.3" r="3.75" fill="#505050" opacity="0.74"/>
<circle cx="1145.6" cy="572.6" r="3.75" fill="#505050" opacity="0.74"/>
<circle cx="1115.3" cy="554.5" r="3.75" fill="#505050" opacity="0.74"/>
<circle cx="1108.9" cy="577.9" r="3.75" fill="#505050" opacity="0.74"/>
<circle cx="1091.7" cy="558.8" r="3.75" fill="#505050" opacity="0.74"/>
<circle cx="1093.6" cy="572.3" r="3.75" fill="#505050" opacity="0.74"/>
<circle cx="1141.5" cy="558.6" r="3.75" fill="#505050" opacity="0.74"/>
<circle cx="1144.8" cy="553.3" r="3.75" fill="#505050" opacity="0.74"/>
<circle cx="1120.6" cy="567.7" r="3.75" fill="#505050" opacity="0.74"/>
<circle cx="1122.3" cy="575.4" r="3.75" fill="#505050" opacity="0.74"/>
<circle cx="1149.7" cy="566.7" r="3.75" fill="#505050" opacity="0.74"/>
<circle cx="1087.4" cy="563.2" r="3.75" fill="#505050" opacity="0.74"/>
<circle cx="1149.9" cy="571.7" r="3.75" fill="#505050" opacity="0.74"/>
<circle cx="1120.8" cy="558.8" r="3.75" fill="#505050" opacity="0.74"/>
<circle cx="1118.2" cy="571.6" r="3.75" fill="#505050" opacity="0.74"/>
<circle cx="1159.6" cy="583.8" r="3.75" fill="#505050" opacity="0.74"/>
<circle cx="1140.8" cy="581.1" r="3.75" fill="#505050" opacity="0.74"/>
<circle cx="1111.0" cy="565.0" r="3.75" fill="#505050" opacity="0.74"/>
<circle cx="1104.7" cy="577.2" r="3.75" fill="#505050" opacity="0.74"/>
<circle cx="1103.2" cy="573.5" r="3.75" fill="#505050" opacity="0.74"/>
<circle cx="1137.5" cy="553.0" r="3.75" fill="#505050" opacity="0.74"/>
<circle cx="1126.7" cy="553.5" r="3.75" fill="#505050" opacity="0.74"/>
<circle cx="1141.0" cy="564.9" r="3.75" fill="#505050" opacity="0.74"/>
<circle cx="1153.0" cy="561.9" r="3.75" fill="#505050" opacity="0.74"/>
<circle cx="1094.8" cy="567.2" r="3.75" fill="#505050" opacity="0.74"/>
<circle cx="1121.0" cy="582.1" r="3.75" fill="#505050" opacity="0.74"/>
<circle cx="1111.2" cy="573.6" r="3.75" fill="#505050" opacity="0.74"/>
<circle cx="1119.6" cy="555.0" r="3.75" fill="#505050" opacity="0.74"/>
<circle cx="1136.6" cy="561.4" r="3.75" fill="#505050" opacity="0.74"/>
<circle cx="1110.2" cy="556.2" r="3.75" fill="#505050" opacity="0.74"/>
<circle cx="1100.9" cy="567.6" r="3.75" fill="#505050" opacity="0.74"/>
<circle cx="1091.7" cy="577.2" r="3.75" fill="#505050" opacity="0.74"/>
<circle cx="1151.1" cy="557.9" r="3.75" fill="#505050" opacity="0.74"/>
<circle cx="1106.5" cy="560.4" r="3.75" fill="#505050" opacity="0.74"/>
<circle cx="1159.1" cy="576.2" r="3.75" fill="#505050" opacity="0.74"/>
<circle cx="1090.4" cy="567.4" r="3.75" fill="#505050" opacity="0.74"/>
<circle cx="1156.4" cy="554.0" r="3.75" fill="#505050" opacity="0.74"/>
<circle cx="1121.8" cy="563.7" r="3.75" fill="#505050" opacity="0.74"/>
<circle cx="1100.7" cy="581.8" r="3.75" fill="#505050" opacity="0.74"/>
<circle cx="1085.3" cy="570.9" r="3.75" fill="#505050" opacity="0.74"/>
<circle cx="1133.4" cy="580.2" r="3.75" fill="#505050" opacity="0.74"/>
<circle cx="1099.4" cy="571.9" r="3.75" fill="#505050" opacity="0.74"/>
<circle cx="1139.1" cy="568.4" r="3.75" fill="#505050" opacity="0.74"/>
<circle cx="1137.1" cy="578.7" r="3.75" fill="#505050" opacity="0.74"/>
<circle cx="1093.4" cy="554.8" r="3.75" fill="#505050" opacity="0.74"/>
<circle cx="1116.2" cy="558.5" r="3.75" fill="#505050" opacity="0.74"/>
<circle cx="1116.5" cy="563.3" r="3.75" fill="#505050" opacity="0.74"/>
<circle cx="1133.9" cy="568.4" r="3.75" fill="#505050" opacity="0.74"/>
<circle cx="1086.9" cy="579.3" r="3.75" fill="#505050" opacity="0.74"/>
<circle cx="1083.5" cy="560.4" r="3.75" fill="#505050" opacity="0.74"/>
<circle cx="1144.4" cy="577.9" r="3.75" fill="#505050" opacity="0.74"/>
<circle cx="1093.6" cy="582.3" r="3.75" fill="#505050" opacity="0.74"/>
<circle cx="1100.9" cy="544.2" r="3.75" fill="#505050" opacity="0.74"/>
<circle cx="1100.6" cy="538.8" r="3.75" fill="#505050" opacity="0.74"/>
<circle cx="1131.5" cy="546.5" r="3.75" fill="#505050" opacity="0.74"/>
<circle cx="1116.8" cy="539.3" r="3.75" fill="#505050" opacity="0.74"/>
<circle cx="1121.0" cy="536.5" r="3.75" fill="#505050" opacity="0.74"/>
<circle cx="1129.4" cy="540.7" r="3.75" fill="#505050" opacity="0.74"/>
<circle cx="1141.4" cy="539.6" r="3.75" fill="#505050" opacity="0.74"/>
<circle cx="1107.0" cy="541.5" r="3.75" fill="#505050" opacity="0.74"/>
<circle cx="1099.0" cy="550.6" r="3.75" fill="#505050" opacity="0.74"/>
<circle cx="1120.9" cy="549.0" r="3.75" fill="#505050" opacity="0.74"/>
<circle cx="1145.8" cy="538.7" r="3.75" fill="#505050" opacity="0.74"/>
<circle cx="1103.6" cy="535.4" r="3.75" fill="#505050" opacity="0.74"/>
<circle cx="1094.9" cy="545.7" r="3.75" fill="#505050" opacity="0.74"/>
<circle cx="1115.0" cy="548.9" r="3.75" fill="#505050" opacity="0.74"/>
<circle cx="1138.0" cy="547.2" r="3.75" fill="#505050" opacity="0.74"/>
<circle cx="1096.5" cy="541.6" r="3.75" fill="#505050" opacity="0.74"/>
<circle cx="1131.5" cy="551.2" r="3.75" fill="#505050" opacity="0.74"/>
<circle cx="1150.7" cy="545.7" r="3.75" fill="#505050" opacity="0.74"/>
<circle cx="1150.6" cy="541.4" r="3.75" fill="#505050" opacity="0.74"/>
<circle cx="1108.0" cy="537.6" r="3.75" fill="#505050" opacity="0.74"/>
<circle cx="1112.5" cy="537.7" r="3.75" fill="#505050" opacity="0.74"/>
<circle cx="1094.2" cy="536.2" r="3.75" fill="#505050" opacity="0.74"/>
<circle cx="1129.5" cy="535.6" r="3.75" fill="#505050" opacity="0.74"/>
<circle cx="1134.4" cy="543.7" r="3.75" fill="#505050" opacity="0.74"/>
<circle cx="1144.9" cy="544.2" r="3.75" fill="#505050" opacity="0.74"/>
<circle cx="1126.1" cy="549.2" r="3.75" fill="#505050" opacity="0.74"/>
<circle cx="1113.6" cy="545.1" r="3.75" fill="#505050" opacity="0.74"/>
<circle cx="1149.2" cy="551.7" r="3.75" fill="#505050" opacity="0.74"/>
<circle cx="1122.6" cy="542.6" r="3.75" fill="#505050" opacity="0.74"/>
<circle cx="1093.1" cy="550.4" r="3.75" fill="#505050" opacity="0.74"/>
<circle cx="1084.5" cy="539.1" r="3.75" fill="#505050" opacity="0.74"/>
<circle cx="1105.4" cy="546.3" r="3.75" fill="#505050" opacity="0.74"/>
<circle cx="1158.6" cy="544.7" r="3.75" fill="#505050" opacity="0.74"/>
<circle cx="1146.8" cy="547.7" r="3.75" fill="#505050" opacity="0.74"/>
<circle cx="1087.1" cy="535.8" r="3.75" fill="#505050" opacity="0.74"/>
<circle cx="1088.7" cy="541.2" r="3.75" fill="#505050" opacity="0.74"/>
<circle cx="1105.9" cy="551.3" r="3.75" fill="#505050" opacity="0.74"/>
<circle cx="1125.0" cy="537.7" r="3.75" fill="#505050" opacity="0.74"/>
<circle cx="1137.1" cy="537.6" r="3.75" fill="#505050" opacity="0.74"/>
<circle cx="1150.7" cy="535.7" r="3.75" fill="#505050" opacity="0.74"/>
<circle cx="1109.1" cy="532.4" r="3.75" fill="#505050" opacity="0.74"/>
<circle cx="1133.8" cy="534.0" r="3.75" fill="#505050" opacity="0.74"/>
<circle cx="1133.5" cy="525.1" r="3.75" fill="#505050" opacity="0.74"/>
<circle cx="1122.0" cy="524.2" r="3.75" fill="#505050" opacity="0.74"/>
<circle cx="1142.5" cy="522.2" r="3.75" fill="#505050" opacity="0.74"/>
<circle cx="1115.2" cy="524.4" r="3.75" fill="#505050" opacity="0.74"/>
<circle cx="1130.1" cy="530.9" r="3.75" fill="#505050" opacity="0.74"/>
<circle cx="1101.0" cy="530.4" r="3.75" fill="#505050" opacity="0.74"/>
<circle cx="1141.8" cy="531.0" r="3.75" fill="#505050" opacity="0.74"/>
<circle cx="1112.6" cy="528.8" r="3.75" fill="#505050" opacity="0.74"/>
<circle cx="1139.2" cy="534.0" r="3.75" fill="#505050" opacity="0.74"/>
<circle cx="1104.6" cy="528.2" r="3.75" fill="#505050" opacity="0.74"/>
<circle cx="1101.7" cy="524.4" r="3.75" fill="#505050" opacity="0.74"/>
<circle cx="1138.3" cy="522.4" r="3.75" fill="#505050" opacity="0.74"/>
<circle cx="1117.8" cy="528.7" r="3.75" fill="#505050" opacity="0.74"/>
<circle cx="1128.0" cy="523.5" r="3.75" fill="#505050" opacity="0.74"/>
<circle cx="1120.2" cy="512.2" r="3.75" fill="#505050" opacity="0.74"/>
<circle cx="1118.5" cy="519.9" r="3.75" fill="#505050" opacity="0.74"/>
<circle cx="1111.7" cy="514.6" r="3.75" fill="#505050" opacity="0.74"/>
<circle cx="1109.1" cy="518.9" r="3.75" fill="#505050" opacity="0.74"/>
<circle cx="1129.9" cy="517.0" r="3.75" fill="#505050" opacity="0.74"/>
<circle cx="1124.9" cy="509.5" r="3.75" fill="#505050" opacity="0.74"/>
<circle cx="1132.6" cy="511.8" r="3.75" fill="#505050" opacity="0.74"/>
<circle cx="1124.8" cy="519.6" r="3.75" fill="#505050" opacity="0.74"/>
<circle cx="1125.7" cy="513.4" r="3.75" fill="#505050" opacity="0.74"/>
<circle cx="1129.8" cy="504.8" r="3.75" fill="#505050" opacity="0.74"/>
<circle cx="1124.8" cy="505.4" r="3.75" fill="#505050" opacity="0.74"/>
<circle cx="1124.2" cy="495.9" r="3.75" fill="#505050" opacity="0.74"/>
<circle cx="1112.4" cy="498.9" r="3.75" fill="#505050" opacity="0.74"/>
<circle cx="1121.4" cy="502.9" r="3.75" fill="#505050" opacity="0.74"/>
<circle cx="1112.1" cy="507.1" r="3.75" fill="#505050" opacity="0.74"/>
<circle cx="1112.6" cy="491.6" r="3.75" fill="#505050" opacity="0.74"/>
<circle cx="1121.0" cy="492.0" r="3.75" fill="#505050" opacity="0.74"/>
<circle cx="1131.4" cy="491.8" r="3.75" fill="#505050" opacity="0.74"/>
<circle cx="1121.7" cy="486.9" r="3.75" fill="#505050" opacity="0.74"/>
<circle cx="854.7" cy="694.3" r="4.1" fill="#0a0a0a"/>
<circle cx="856.4" cy="694.3" r="4.1" fill="#0a0a0a"/>
<circle cx="858.2" cy="694.3" r="4.1" fill="#0a0a0a"/>
<circle cx="859.9" cy="694.3" r="4.1" fill="#0a0a0a"/>
<circle cx="861.7" cy="694.3" r="4.1" fill="#0a0a0a"/>
<circle cx="863.4" cy="694.3" r="4.1" fill="#0a0a0a"/>
<circle cx="865.1" cy="694.3" r="4.1" fill="#0a0a0a"/>
<circle cx="866.9" cy="694.3" r="4.1" fill="#0a0a0a"/>
<circle cx="868.6" cy="694.3" r="4.1" fill="#0a0a0a"/>
<circle cx="870.3" cy="694.3" r="4.1" fill="#0a0a0a"/>
<circle cx="872.1" cy="694.3" r="4.1" fill="#0a0a0a"/>
<circle cx="873.8" cy="694.3" r="4.1" fill="#0a0a0a"/>
<circle cx="875.6" cy="694.3" r="4.1" fill="#0a0a0a"/>
<circle cx="877.3" cy="694.3" r="4.1" fill="#0a0a0a"/>
<circle cx="879.0" cy="694.3" r="4.1" fill="#0a0a0a"/>
<circle cx="880.8" cy="694.3" r="4.1" fill="#0a0a0a"/>
<circle cx="882.5" cy="694.3" r="4.1" fill="#0a0a0a"/>
<circle cx="884.3" cy="694.3" r="4.1" fill="#0a0a0a"/>
<circle cx="886.0" cy="694.3" r="4.1" fill="#0a0a0a"/>
<circle cx="887.7" cy="694.3" r="4.1" fill="#0a0a0a"/>
<circle cx="889.5" cy="694.3" r="4.1" fill="#0a0a0a"/>
<circle cx="891.2" cy="694.3" r="4.1" fill="#0a0a0a"/>
<circle cx="892.9" cy="694.3" r="4.1" fill="#0a0a0a"/>
<circle cx="894.7" cy="694.3" r="4.1" fill="#0a0a0a"/>
<circle cx="896.4" cy="694.3" r="4.1" fill="#0a0a0a"/>
<circle cx="898.2" cy="694.3" r="4.1" fill="#0a0a0a"/>
<circle cx="899.9" cy="694.3" r="4.1" fill="#0a0a0a"/>
<circle cx="901.6" cy="694.3" r="4.1" fill="#0a0a0a"/>
<circle cx="903.4" cy="694.3" r="4.1" fill="#0a0a0a"/>
<circle cx="905.1" cy="694.3" r="4.1" fill="#0a0a0a"/>
<circle cx="906.9" cy="694.3" r="4.1" fill="#0a0a0a"/>
<circle cx="908.6" cy="694.3" r="4.1" fill="#0a0a0a"/>
<circle cx="910.3" cy="694.3" r="4.1" fill="#0a0a0a"/>
<circle cx="912.1" cy="694.3" r="4.1" fill="#0a0a0a"/>
<circle cx="913.8" cy="694.3" r="4.1" fill="#0a0a0a"/>
<circle cx="915.5" cy="694.3" r="4.1" fill="#0a0a0a"/>
<circle cx="917.3" cy="694.3" r="4.1" fill="#0a0a0a"/>
<circle cx="919.0" cy="694.3" r="4.1" fill="#0a0a0a"/>
<circle cx="920.8" cy="694.3" r="4.1" fill="#0a0a0a"/>
<circle cx="922.5" cy="694.3" r="4.1" fill="#0a0a0a"/>
<circle cx="889.0" cy="669.6" r="3.75" fill="#505050" opacity="0.74"/>
<circle cx="993.3" cy="693.8" r="4.1" fill="#0a0a0a"/>
<circle cx="997.1" cy="693.8" r="4.1" fill="#0a0a0a"/>
<circle cx="1005.5" cy="693.8" r="4.1" fill="#0a0a0a"/>
<circle cx="1015.4" cy="693.8" r="4.1" fill="#0a0a0a"/>
<circle cx="1089.8" cy="693.8" r="4.1" fill="#0a0a0a"/>
<circle cx="1107.1" cy="693.8" r="4.1" fill="#0a0a0a"/>
<circle cx="1121.1" cy="693.8" r="4.1" fill="#0a0a0a"/>
<circle cx="1148.7" cy="693.8" r="4.1" fill="#0a0a0a"/>
<circle cx="889.0" cy="467.7" r="3.9" fill="#ffffff" stroke="#111111" stroke-width="1.9"/>
<circle cx="889.0" cy="473.7" r="3.9" fill="#ffffff" stroke="#111111" stroke-width="1.9"/>
<circle cx="889.0" cy="480.2" r="3.9" fill="#ffffff" stroke="#111111" stroke-width="1.9"/>
<circle cx="889.0" cy="486.7" r="3.9" fill="#ffffff" stroke="#111111" stroke-width="1.9"/>
<circle cx="1004.8" cy="398.5" r="3.9" fill="#ffffff" stroke="#111111" stroke-width="1.9"/>
<circle cx="1005.5" cy="469.5" r="3.9" fill="#ffffff" stroke="#111111" stroke-width="1.9"/>
<circle cx="1005.5" cy="477.1" r="3.9" fill="#ffffff" stroke="#111111" stroke-width="1.9"/>
<circle cx="1003.5" cy="510.7" r="3.9" fill="#ffffff" stroke="#111111" stroke-width="1.9"/>
<circle cx="1121.0" cy="427.6" r="3.9" fill="#ffffff" stroke="#111111" stroke-width="1.9"/>
<circle cx="1121.0" cy="475.4" r="3.9" fill="#ffffff" stroke="#111111" stroke-width="1.9"/>
<circle cx="1125.4" cy="479.2" r="3.9" fill="#ffffff" stroke="#111111" stroke-width="1.9"/>
<circle cx="1122.8" cy="498.7" r="3.9" fill="#ffffff" stroke="#111111" stroke-width="1.9"/>
<line x1="965.40" y1="615.50" x2="1044.60" y2="615.50" stroke="#111" stroke-width="2.0" stroke-dasharray="4.5 2.2"/>
<line x1="985.20" y1="606.60" x2="1025.00" y2="606.60" stroke="#111" stroke-width="2.0"/>
<line x1="985.20" y1="622.40" x2="1025.00" y2="622.40" stroke="#111" stroke-width="2.0"/>
<line x1="1005.50" y1="606.60" x2="1005.50" y2="622.40" stroke="#111" stroke-width="2.0"/>
<line x1="1081.70" y1="587.60" x2="1160.90" y2="587.60" stroke="#111" stroke-width="2.0" stroke-dasharray="4.5 2.2"/>
<line x1="1101.20" y1="580.00" x2="1141.10" y2="580.00" stroke="#111" stroke-width="2.0"/>
<line x1="1101.20" y1="598.30" x2="1141.10" y2="598.30" stroke="#111" stroke-width="2.0"/>
<line x1="1121.20" y1="580.00" x2="1121.20" y2="598.30" stroke="#111" stroke-width="2.0"/>
<text transform="translate(-0.30 795.70) scale(1 1.045) translate(0.30 -795.70)" x="-0.30" y="795.70" font-size="38" font-weight="bold">F</text>
<line x1="122.70" y1="815.30" x2="122.70" y2="1104.40" stroke="#231f20" stroke-width="2.4"/>
<line x1="122.70" y1="1103.30" x2="132.50" y2="1103.30" stroke="#231f20" stroke-width="2.3"/>
<line x1="122.70" y1="983.80" x2="132.50" y2="983.80" stroke="#231f20" stroke-width="2.3"/>
<line x1="122.70" y1="864.30" x2="132.50" y2="864.30" stroke="#231f20" stroke-width="2.3"/>
<line x1="122.70" y1="1043.55" x2="128.50" y2="1043.55" stroke="#231f20" stroke-width="2.3"/>
<line x1="122.70" y1="924.05" x2="128.50" y2="924.05" stroke="#231f20" stroke-width="2.3"/>
<text transform="translate(118.80 872.30) scale(1 1.045) translate(-118.80 -872.30)" x="118.80" y="872.30" font-size="17.3" font-weight="bold" text-anchor="end">100</text>
<text transform="translate(118.80 991.80) scale(1 1.045) translate(-118.80 -991.80)" x="118.80" y="991.80" font-size="17.3" font-weight="bold" text-anchor="end">50</text>
<text transform="translate(118.80 1111.30) scale(1 1.045) translate(-118.80 -1111.30)" x="118.80" y="1111.30" font-size="17.3" font-weight="bold" text-anchor="end">0</text>
<line x1="135.20" y1="864.30" x2="539.00" y2="864.30" stroke="#231f20" stroke-width="2.4" stroke-dasharray="0.01 4.72" stroke-linecap="round"/>
<line x1="135.20" y1="1103.30" x2="539.00" y2="1103.30" stroke="#231f20" stroke-width="2.4" stroke-dasharray="0.01 4.72" stroke-linecap="round"/>
<line x1="145.50" y1="1127.20" x2="539.50" y2="1127.20" stroke="#231f20" stroke-width="2.0"/>
<line x1="171.60" y1="1127.20" x2="171.60" y2="1135.10" stroke="#231f20" stroke-width="2.0"/>
<text transform="translate(178.20 1151.80) scale(1 1.045) translate(-178.20 -1151.80)" x="178.20" y="1151.80" font-size="15.5" font-weight="bold" text-anchor="end">10</text>
<text transform="translate(178.50 1146.60) scale(1 1.045) translate(-178.50 -1146.60)" x="178.50" y="1146.60" font-size="8.4" font-weight="bold">0</text>
<line x1="252.90" y1="1127.20" x2="252.90" y2="1135.10" stroke="#231f20" stroke-width="2.0"/>
<text transform="translate(259.50 1151.80) scale(1 1.045) translate(-259.50 -1151.80)" x="259.50" y="1151.80" font-size="15.5" font-weight="bold" text-anchor="end">10</text>
<text transform="translate(259.80 1146.60) scale(1 1.045) translate(-259.80 -1146.60)" x="259.80" y="1146.60" font-size="8.4" font-weight="bold">1</text>
<line x1="334.60" y1="1127.20" x2="334.60" y2="1135.10" stroke="#231f20" stroke-width="2.0"/>
<text transform="translate(341.20 1151.80) scale(1 1.045) translate(-341.20 -1151.80)" x="341.20" y="1151.80" font-size="15.5" font-weight="bold" text-anchor="end">10</text>
<text transform="translate(341.50 1146.60) scale(1 1.045) translate(-341.50 -1146.60)" x="341.50" y="1146.60" font-size="8.4" font-weight="bold">2</text>
<line x1="416.20" y1="1127.20" x2="416.20" y2="1135.10" stroke="#231f20" stroke-width="2.0"/>
<text transform="translate(422.80 1151.80) scale(1 1.045) translate(-422.80 -1151.80)" x="422.80" y="1151.80" font-size="15.5" font-weight="bold" text-anchor="end">10</text>
<text transform="translate(423.10 1146.60) scale(1 1.045) translate(-423.10 -1146.60)" x="423.10" y="1146.60" font-size="8.4" font-weight="bold">3</text>
<line x1="497.60" y1="1127.20" x2="497.60" y2="1135.10" stroke="#231f20" stroke-width="2.0"/>
<text transform="translate(504.20 1151.80) scale(1 1.045) translate(-504.20 -1151.80)" x="504.20" y="1151.80" font-size="15.5" font-weight="bold" text-anchor="end">10</text>
<text transform="translate(504.50 1146.60) scale(1 1.045) translate(-504.50 -1146.60)" x="504.50" y="1146.60" font-size="8.4" font-weight="bold">4</text>
<text transform="translate(346.60 1172.70) scale(1 1.045) translate(-346.60 -1172.70)" x="346.60" y="1172.70" font-size="17.2" font-weight="bold" text-anchor="middle">unox, normalized reads</text>
<text x="62.7" y="956.9" font-size="17.2" font-weight="bold" text-anchor="middle" fill="#231f20" transform="translate(62.70 956.90) rotate(-90) scale(1 1.045) translate(-62.70 -956.90)"><tspan font-style="italic">CD79a</tspan>-Cre HenT6B/HenT6b</text>
<text x="84.00" y="959.20" font-size="17.3" font-weight="bold" text-anchor="middle" transform="translate(84.00 959.20) rotate(-90) scale(1 1.045) translate(-84.00 -959.20)">ox/unox (%), normalized reads</text>
<text transform="translate(550.30 856.60) scale(1 1.045) translate(-550.30 -856.60)" x="550.30" y="856.60" font-size="13.6" fill="#333333">max.</text>
<text transform="translate(550.30 873.40) scale(1 1.045) translate(-550.30 -873.40)" x="550.30" y="873.40" font-size="13.6" fill="#333333">enrichment</text>
<circle cx="240.1" cy="894.3" r="4.2" fill="#7a7a7a" opacity="0.52"/>
<circle cx="183.8" cy="906.2" r="4.2" fill="#7a7a7a" opacity="0.52"/>
<circle cx="230.0" cy="907.0" r="4.2" fill="#7a7a7a" opacity="0.52"/>
<circle cx="147.1" cy="914.8" r="4.2" fill="#7a7a7a" opacity="0.52"/>
<circle cx="208.9" cy="921.3" r="4.2" fill="#7a7a7a" opacity="0.52"/>
<circle cx="210.8" cy="919.4" r="4.2" fill="#7a7a7a" opacity="0.52"/>
<circle cx="171.9" cy="923.6" r="4.2" fill="#7a7a7a" opacity="0.52"/>
<circle cx="223.0" cy="928.2" r="4.2" fill="#7a7a7a" opacity="0.52"/>
<circle cx="265.8" cy="921.3" r="4.2" fill="#7a7a7a" opacity="0.52"/>
<circle cx="283.2" cy="924.6" r="4.2" fill="#7a7a7a" opacity="0.52"/>
<circle cx="256.6" cy="929.9" r="4.2" fill="#7a7a7a" opacity="0.52"/>
<circle cx="251.6" cy="933.2" r="4.2" fill="#7a7a7a" opacity="0.52"/>
<circle cx="293.8" cy="929.9" r="4.2" fill="#7a7a7a" opacity="0.52"/>
<circle cx="288.3" cy="935.9" r="4.2" fill="#7a7a7a" opacity="0.52"/>
<circle cx="302.4" cy="924.0" r="4.2" fill="#7a7a7a" opacity="0.52"/>
<circle cx="306.1" cy="925.1" r="4.2" fill="#7a7a7a" opacity="0.52"/>
<circle cx="327.2" cy="910.8" r="4.2" fill="#7a7a7a" opacity="0.52"/>
<circle cx="338.2" cy="924.9" r="4.2" fill="#7a7a7a" opacity="0.52"/>
<circle cx="195.2" cy="940.1" r="4.2" fill="#7a7a7a" opacity="0.52"/>
<circle cx="278.6" cy="941.4" r="4.2" fill="#7a7a7a" opacity="0.52"/>
<circle cx="281.0" cy="948.2" r="4.2" fill="#7a7a7a" opacity="0.52"/>
<circle cx="265.8" cy="944.5" r="4.2" fill="#7a7a7a" opacity="0.52"/>
<circle cx="268.1" cy="943.3" r="4.2" fill="#7a7a7a" opacity="0.52"/>
<circle cx="256.0" cy="945.6" r="4.2" fill="#7a7a7a" opacity="0.52"/>
<circle cx="247.4" cy="945.1" r="4.2" fill="#7a7a7a" opacity="0.52"/>
<circle cx="238.8" cy="948.4" r="4.2" fill="#7a7a7a" opacity="0.52"/>
<circle cx="318.0" cy="943.3" r="4.2" fill="#7a7a7a" opacity="0.52"/>
<circle cx="160.7" cy="951.9" r="4.2" fill="#7a7a7a" opacity="0.52"/>
<circle cx="204.0" cy="954.3" r="4.2" fill="#7a7a7a" opacity="0.52"/>
<circle cx="206.2" cy="958.8" r="4.2" fill="#7a7a7a" opacity="0.52"/>
<circle cx="208.6" cy="962.5" r="4.2" fill="#7a7a7a" opacity="0.52"/>
<circle cx="223.6" cy="954.8" r="4.2" fill="#7a7a7a" opacity="0.52"/>
<circle cx="235.5" cy="955.2" r="4.2" fill="#7a7a7a" opacity="0.52"/>
<circle cx="235.9" cy="959.8" r="4.2" fill="#7a7a7a" opacity="0.52"/>
<circle cx="253.8" cy="954.3" r="4.2" fill="#7a7a7a" opacity="0.52"/>
<circle cx="251.1" cy="960.7" r="4.2" fill="#7a7a7a" opacity="0.52"/>
<circle cx="248.3" cy="963.4" r="4.2" fill="#7a7a7a" opacity="0.52"/>
<circle cx="242.5" cy="964.7" r="4.2" fill="#7a7a7a" opacity="0.52"/>
<circle cx="243.2" cy="969.5" r="4.2" fill="#7a7a7a" opacity="0.52"/>
<circle cx="251.1" cy="966.7" r="4.2" fill="#7a7a7a" opacity="0.52"/>
<circle cx="227.3" cy="964.3" r="4.2" fill="#7a7a7a" opacity="0.52"/>
<circle cx="280.1" cy="959.8" r="4.2" fill="#7a7a7a" opacity="0.52"/>
<circle cx="291.4" cy="962.0" r="4.2" fill="#7a7a7a" opacity="0.52"/>
<circle cx="296.4" cy="962.0" r="4.2" fill="#7a7a7a" opacity="0.52"/>
<circle cx="149.3" cy="965.8" r="4.2" fill="#7a7a7a" opacity="0.52"/>
<circle cx="308.8" cy="971.7" r="4.2" fill="#7a7a7a" opacity="0.52"/>
<circle cx="301.5" cy="972.6" r="4.2" fill="#7a7a7a" opacity="0.52"/>
<circle cx="288.7" cy="975.3" r="4.2" fill="#7a7a7a" opacity="0.52"/>
<circle cx="217.5" cy="973.5" r="4.2" fill="#7a7a7a" opacity="0.52"/>
<circle cx="219.0" cy="976.3" r="4.2" fill="#7a7a7a" opacity="0.52"/>
<circle cx="200.3" cy="974.1" r="4.2" fill="#7a7a7a" opacity="0.52"/>
<circle cx="179.2" cy="978.6" r="4.2" fill="#7a7a7a" opacity="0.52"/>
<circle cx="164.9" cy="983.6" r="4.2" fill="#7a7a7a" opacity="0.52"/>
<circle cx="166.4" cy="987.8" r="4.2" fill="#7a7a7a" opacity="0.52"/>
<circle cx="268.9" cy="979.4" r="4.2" fill="#7a7a7a" opacity="0.52"/>
<circle cx="237.9" cy="982.1" r="4.2" fill="#7a7a7a" opacity="0.52"/>
<circle cx="241.0" cy="989.1" r="4.2" fill="#7a7a7a" opacity="0.52"/>
<circle cx="246.5" cy="984.5" r="4.2" fill="#7a7a7a" opacity="0.52"/>
<circle cx="252.0" cy="980.8" r="4.2" fill="#7a7a7a" opacity="0.52"/>
<circle cx="259.3" cy="980.8" r="4.2" fill="#7a7a7a" opacity="0.52"/>
<circle cx="249.8" cy="987.8" r="4.2" fill="#7a7a7a" opacity="0.52"/>
<circle cx="279.5" cy="984.1" r="4.2" fill="#7a7a7a" opacity="0.52"/>
<circle cx="283.7" cy="988.2" r="4.2" fill="#7a7a7a" opacity="0.52"/>
<circle cx="291.4" cy="984.1" r="4.2" fill="#7a7a7a" opacity="0.52"/>
<circle cx="300.6" cy="983.6" r="4.2" fill="#7a7a7a" opacity="0.52"/>
<circle cx="313.4" cy="984.5" r="4.2" fill="#7a7a7a" opacity="0.52"/>
<circle cx="316.5" cy="990.0" r="4.2" fill="#7a7a7a" opacity="0.52"/>
<circle cx="327.2" cy="991.5" r="4.2" fill="#7a7a7a" opacity="0.52"/>
<circle cx="228.2" cy="990.4" r="4.2" fill="#7a7a7a" opacity="0.52"/>
<circle cx="196.6" cy="991.8" r="4.2" fill="#7a7a7a" opacity="0.52"/>
<circle cx="151.2" cy="996.1" r="4.2" fill="#7a7a7a" opacity="0.52"/>
<circle cx="257.5" cy="991.8" r="4.2" fill="#7a7a7a" opacity="0.52"/>
<circle cx="257.9" cy="997.3" r="4.2" fill="#7a7a7a" opacity="0.52"/>
<circle cx="244.7" cy="997.7" r="4.2" fill="#7a7a7a" opacity="0.52"/>
<circle cx="248.0" cy="1004.3" r="4.2" fill="#7a7a7a" opacity="0.52"/>
<circle cx="226.3" cy="1001.6" r="4.2" fill="#7a7a7a" opacity="0.52"/>
<circle cx="204.7" cy="1000.1" r="4.2" fill="#7a7a7a" opacity="0.52"/>
<circle cx="308.8" cy="997.7" r="4.2" fill="#7a7a7a" opacity="0.52"/>
<circle cx="322.0" cy="1001.4" r="4.2" fill="#7a7a7a" opacity="0.52"/>
<circle cx="166.2" cy="1002.5" r="4.2" fill="#7a7a7a" opacity="0.52"/>
<circle cx="171.0" cy="1006.1" r="4.2" fill="#7a7a7a" opacity="0.52"/>
<circle cx="164.0" cy="1009.3" r="4.2" fill="#7a7a7a" opacity="0.52"/>
<circle cx="162.2" cy="1013.8" r="4.2" fill="#7a7a7a" opacity="0.52"/>
<circle cx="196.6" cy="1004.7" r="4.2" fill="#7a7a7a" opacity="0.52"/>
<circle cx="208.9" cy="1006.5" r="4.2" fill="#7a7a7a" opacity="0.52"/>
<circle cx="211.1" cy="1010.5" r="4.2" fill="#7a7a7a" opacity="0.52"/>
<circle cx="209.5" cy="1015.7" r="4.2" fill="#7a7a7a" opacity="0.52"/>
<circle cx="220.8" cy="1010.2" r="4.2" fill="#7a7a7a" opacity="0.52"/>
<circle cx="237.3" cy="1010.2" r="4.2" fill="#7a7a7a" opacity="0.52"/>
<circle cx="240.6" cy="1013.8" r="4.2" fill="#7a7a7a" opacity="0.52"/>
<circle cx="249.3" cy="1010.5" r="4.2" fill="#7a7a7a" opacity="0.52"/>
<circle cx="246.5" cy="1016.6" r="4.2" fill="#7a7a7a" opacity="0.52"/>
<circle cx="259.3" cy="1006.9" r="4.2" fill="#7a7a7a" opacity="0.52"/>
<circle cx="270.3" cy="1012.0" r="4.2" fill="#7a7a7a" opacity="0.52"/>
<circle cx="277.3" cy="1008.7" r="4.2" fill="#7a7a7a" opacity="0.52"/>
<circle cx="280.4" cy="1019.3" r="4.2" fill="#7a7a7a" opacity="0.52"/>
<circle cx="323.1" cy="1014.8" r="4.2" fill="#7a7a7a" opacity="0.52"/>
<circle cx="151.2" cy="1026.7" r="4.2" fill="#7a7a7a" opacity="0.52"/>
<circle cx="153.0" cy="1030.7" r="4.2" fill="#7a7a7a" opacity="0.52"/>
<circle cx="176.5" cy="1028.1" r="4.2" fill="#7a7a7a" opacity="0.52"/>
<circle cx="174.6" cy="1032.2" r="4.2" fill="#7a7a7a" opacity="0.52"/>
<circle cx="186.9" cy="1030.7" r="4.2" fill="#7a7a7a" opacity="0.52"/>
<circle cx="189.7" cy="1021.5" r="4.2" fill="#7a7a7a" opacity="0.52"/>
<circle cx="197.9" cy="1020.3" r="4.2" fill="#7a7a7a" opacity="0.52"/>
<circle cx="198.8" cy="1024.8" r="4.2" fill="#7a7a7a" opacity="0.52"/>
<circle cx="208.0" cy="1032.7" r="4.2" fill="#7a7a7a" opacity="0.52"/>
<circle cx="193.9" cy="1031.6" r="4.2" fill="#7a7a7a" opacity="0.52"/>
<circle cx="220.5" cy="1025.8" r="4.2" fill="#7a7a7a" opacity="0.52"/>
<circle cx="221.8" cy="1031.3" r="4.2" fill="#7a7a7a" opacity="0.52"/>
<circle cx="222.7" cy="1038.0" r="4.2" fill="#7a7a7a" opacity="0.52"/>
<circle cx="230.0" cy="1027.6" r="4.2" fill="#7a7a7a" opacity="0.52"/>
<circle cx="230.9" cy="1032.2" r="4.2" fill="#7a7a7a" opacity="0.52"/>
<circle cx="256.6" cy="1033.1" r="4.2" fill="#7a7a7a" opacity="0.52"/>
<circle cx="262.1" cy="1027.6" r="4.2" fill="#7a7a7a" opacity="0.52"/>
<circle cx="275.5" cy="1024.5" r="4.2" fill="#7a7a7a" opacity="0.52"/>
<circle cx="282.3" cy="1026.7" r="4.2" fill="#7a7a7a" opacity="0.52"/>
<circle cx="292.3" cy="1031.8" r="4.2" fill="#7a7a7a" opacity="0.52"/>
<circle cx="303.9" cy="1026.7" r="4.2" fill="#7a7a7a" opacity="0.52"/>
<circle cx="164.9" cy="1040.4" r="4.2" fill="#7a7a7a" opacity="0.52"/>
<circle cx="167.7" cy="1045.0" r="4.2" fill="#7a7a7a" opacity="0.52"/>
<circle cx="160.3" cy="1044.6" r="4.2" fill="#7a7a7a" opacity="0.52"/>
<circle cx="178.7" cy="1039.1" r="4.2" fill="#7a7a7a" opacity="0.52"/>
<circle cx="184.2" cy="1042.3" r="4.2" fill="#7a7a7a" opacity="0.52"/>
<circle cx="195.2" cy="1037.7" r="4.2" fill="#7a7a7a" opacity="0.52"/>
<circle cx="198.5" cy="1046.5" r="4.2" fill="#7a7a7a" opacity="0.52"/>
<circle cx="237.3" cy="1041.7" r="4.2" fill="#7a7a7a" opacity="0.52"/>
<circle cx="241.0" cy="1046.5" r="4.2" fill="#7a7a7a" opacity="0.52"/>
<circle cx="252.0" cy="1045.0" r="4.2" fill="#7a7a7a" opacity="0.52"/>
<circle cx="269.4" cy="1041.3" r="4.2" fill="#7a7a7a" opacity="0.52"/>
<circle cx="275.8" cy="1043.2" r="4.2" fill="#7a7a7a" opacity="0.52"/>
<circle cx="330.5" cy="1049.6" r="4.2" fill="#7a7a7a" opacity="0.52"/>
<circle cx="227.8" cy="1047.2" r="4.2" fill="#7a7a7a" opacity="0.52"/>
<circle cx="219.6" cy="913.2" r="4.2" fill="#5a5a5a" opacity="0.8"/>
<circle cx="288.3" cy="934.1" r="4.2" fill="#5a5a5a" opacity="0.8"/>
<circle cx="326.8" cy="914.8" r="4.2" fill="#5a5a5a" opacity="0.8"/>
<circle cx="306.6" cy="940.1" r="4.2" fill="#5a5a5a" opacity="0.8"/>
<circle cx="323.5" cy="948.8" r="4.2" fill="#5a5a5a" opacity="0.8"/>
<circle cx="327.2" cy="952.4" r="4.2" fill="#5a5a5a" opacity="0.8"/>
<circle cx="249.8" cy="952.4" r="4.2" fill="#5a5a5a" opacity="0.8"/>
<circle cx="165.8" cy="962.9" r="4.2" fill="#5a5a5a" opacity="0.8"/>
<circle cx="167.7" cy="962.5" r="4.2" fill="#5a5a5a" opacity="0.8"/>
<circle cx="177.8" cy="961.0" r="4.2" fill="#5a5a5a" opacity="0.8"/>
<circle cx="298.8" cy="972.6" r="4.2" fill="#5a5a5a" opacity="0.8"/>
<circle cx="255.7" cy="982.7" r="4.2" fill="#5a5a5a" opacity="0.8"/>
<circle cx="282.3" cy="985.4" r="4.2" fill="#5a5a5a" opacity="0.8"/>
<circle cx="334.5" cy="983.0" r="4.2" fill="#5a5a5a" opacity="0.8"/>
<circle cx="220.5" cy="999.5" r="4.2" fill="#5a5a5a" opacity="0.8"/>
<circle cx="340.0" cy="1005.6" r="4.2" fill="#5a5a5a" opacity="0.8"/>
<circle cx="233.7" cy="1010.5" r="4.2" fill="#5a5a5a" opacity="0.8"/>
<circle cx="281.3" cy="1013.5" r="4.2" fill="#5a5a5a" opacity="0.8"/>
<circle cx="281.7" cy="1016.6" r="4.2" fill="#5a5a5a" opacity="0.8"/>
<circle cx="204.3" cy="1026.1" r="4.2" fill="#5a5a5a" opacity="0.8"/>
<circle cx="253.8" cy="1034.6" r="4.2" fill="#5a5a5a" opacity="0.8"/>
<circle cx="201.6" cy="1041.7" r="4.2" fill="#5a5a5a" opacity="0.8"/>
<circle cx="320.8" cy="1043.7" r="4.2" fill="#5a5a5a" opacity="0.8"/>
<circle cx="289.0" cy="1051.6" r="4.2" fill="#7a7a7a" opacity="0.52"/>
<circle cx="311.2" cy="1054.2" r="4.2" fill="#7a7a7a" opacity="0.52"/>
<circle cx="330.5" cy="1051.3" r="4.2" fill="#7a7a7a" opacity="0.52"/>
<circle cx="180.5" cy="1056.6" r="4.2" fill="#7a7a7a" opacity="0.52"/>
<circle cx="183.8" cy="1057.5" r="4.2" fill="#7a7a7a" opacity="0.52"/>
<circle cx="198.8" cy="1053.5" r="4.2" fill="#7a7a7a" opacity="0.52"/>
<circle cx="208.0" cy="1054.8" r="4.2" fill="#7a7a7a" opacity="0.52"/>
<circle cx="212.6" cy="1053.8" r="4.2" fill="#7a7a7a" opacity="0.52"/>
<circle cx="222.1" cy="1057.5" r="4.2" fill="#7a7a7a" opacity="0.52"/>
<circle cx="192.1" cy="1061.5" r="4.2" fill="#7a7a7a" opacity="0.52"/>
<circle cx="204.0" cy="1064.8" r="4.2" fill="#7a7a7a" opacity="0.52"/>
<circle cx="185.6" cy="1074.0" r="4.2" fill="#7a7a7a" opacity="0.52"/>
<circle cx="163.6" cy="1076.2" r="4.2" fill="#7a7a7a" opacity="0.52"/>
<circle cx="165.8" cy="1083.2" r="4.2" fill="#7a7a7a" opacity="0.52"/>
<circle cx="207.1" cy="1079.1" r="4.2" fill="#7a7a7a" opacity="0.52"/>
<circle cx="290.9" cy="1079.9" r="4.2" fill="#7a7a7a" opacity="0.52"/>
<circle cx="153.0" cy="1095.6" r="4.2" fill="#7a7a7a" opacity="0.52"/>
<circle cx="212.6" cy="1090.5" r="4.2" fill="#7a7a7a" opacity="0.52"/>
<circle cx="197.9" cy="1096.9" r="4.2" fill="#7a7a7a" opacity="0.52"/>
<circle cx="229.1" cy="1093.3" r="4.2" fill="#7a7a7a" opacity="0.52"/>
<circle cx="233.3" cy="1096.9" r="4.2" fill="#7a7a7a" opacity="0.52"/>
<circle cx="237.7" cy="1087.8" r="4.2" fill="#7a7a7a" opacity="0.52"/>
<circle cx="250.5" cy="1085.9" r="4.2" fill="#7a7a7a" opacity="0.52"/>
<circle cx="269.4" cy="1089.6" r="4.2" fill="#7a7a7a" opacity="0.52"/>
<circle cx="184.5" cy="1103.0" r="4.2" fill="#7a7a7a" opacity="0.52"/>
<circle cx="205.6" cy="1103.0" r="4.2" fill="#7a7a7a" opacity="0.52"/>
<circle cx="297.8" cy="1103.0" r="4.2" fill="#7a7a7a" opacity="0.52"/>
<circle cx="209.8" cy="1061.2" r="4.2" fill="#5a5a5a" opacity="0.8"/>
<circle cx="188.2" cy="1068.1" r="4.2" fill="#5a5a5a" opacity="0.8"/>
<circle cx="212.6" cy="1071.8" r="4.2" fill="#5a5a5a" opacity="0.8"/>
<circle cx="171.3" cy="1079.1" r="4.2" fill="#5a5a5a" opacity="0.8"/>
<circle cx="157.2" cy="1090.1" r="4.2" fill="#5a5a5a" opacity="0.8"/>
<circle cx="191.5" cy="1103.0" r="4.2" fill="#5a5a5a" opacity="0.8"/>
<circle cx="292.0" cy="1103.0" r="4.2" fill="#5a5a5a" opacity="0.8"/>
<circle cx="156.3" cy="878.5" r="4.2" fill="#7a7a7a" opacity="0.52"/>
<circle cx="263.9" cy="865.5" r="4.2" fill="#7a7a7a" opacity="0.52"/>
<circle cx="405.2" cy="915.5" r="4.2" fill="#7a7a7a" opacity="0.52"/>
<circle cx="339.5" cy="925.0" r="4.2" fill="#7a7a7a" opacity="0.52"/>
<circle cx="356.0" cy="929.3" r="4.2" fill="#7a7a7a" opacity="0.52"/>
<circle cx="359.9" cy="933.5" r="4.2" fill="#7a7a7a" opacity="0.52"/>
<circle cx="378.6" cy="928.0" r="4.2" fill="#7a7a7a" opacity="0.52"/>
<circle cx="395.1" cy="926.5" r="4.2" fill="#7a7a7a" opacity="0.52"/>
<circle cx="403.3" cy="926.9" r="4.2" fill="#7a7a7a" opacity="0.52"/>
<circle cx="425.7" cy="936.0" r="4.2" fill="#7a7a7a" opacity="0.52"/>
<circle cx="393.3" cy="948.1" r="4.2" fill="#7a7a7a" opacity="0.52"/>
<circle cx="357.9" cy="944.8" r="4.2" fill="#7a7a7a" opacity="0.52"/>
<circle cx="390.5" cy="962.8" r="4.2" fill="#7a7a7a" opacity="0.52"/>
<circle cx="371.8" cy="962.8" r="4.2" fill="#7a7a7a" opacity="0.52"/>
<circle cx="356.6" cy="968.7" r="4.2" fill="#7a7a7a" opacity="0.52"/>
<circle cx="415.3" cy="966.8" r="4.2" fill="#7a7a7a" opacity="0.52"/>
<circle cx="414.3" cy="969.6" r="4.2" fill="#7a7a7a" opacity="0.52"/>
<circle cx="435.4" cy="969.6" r="4.2" fill="#7a7a7a" opacity="0.52"/>
<circle cx="405.2" cy="957.7" r="4.2" fill="#7a7a7a" opacity="0.52"/>
<circle cx="338.2" cy="965.0" r="4.2" fill="#7a7a7a" opacity="0.52"/>
<circle cx="357.1" cy="970.3" r="4.2" fill="#7a7a7a" opacity="0.52"/>
<circle cx="341.0" cy="971.3" r="4.2" fill="#7a7a7a" opacity="0.52"/>
<circle cx="341.0" cy="978.0" r="4.2" fill="#7a7a7a" opacity="0.52"/>
<circle cx="359.3" cy="979.1" r="4.2" fill="#7a7a7a" opacity="0.52"/>
<circle cx="363.6" cy="977.7" r="4.2" fill="#7a7a7a" opacity="0.52"/>
<circle cx="381.3" cy="990.1" r="4.2" fill="#7a7a7a" opacity="0.52"/>
<circle cx="367.0" cy="994.5" r="4.2" fill="#7a7a7a" opacity="0.52"/>
<circle cx="435.8" cy="971.8" r="4.2" fill="#7a7a7a" opacity="0.52"/>
<circle cx="356.6" cy="1011.6" r="4.2" fill="#7a7a7a" opacity="0.52"/>
<circle cx="363.9" cy="1024.4" r="4.2" fill="#7a7a7a" opacity="0.52"/>
<circle cx="352.9" cy="1029.0" r="4.2" fill="#7a7a7a" opacity="0.52"/>
<circle cx="331.5" cy="1051.4" r="4.2" fill="#7a7a7a" opacity="0.52"/>
<circle cx="398.2" cy="1052.8" r="4.2" fill="#7a7a7a" opacity="0.52"/>
<circle cx="361.5" cy="1096.5" r="4.2" fill="#7a7a7a" opacity="0.52"/>
<circle cx="330.0" cy="991.4" r="4.2" fill="#7a7a7a" opacity="0.52"/>
<circle cx="421.7" cy="901.2" r="4.2" fill="#5a5a5a" opacity="0.8"/>
<circle cx="384.1" cy="933.3" r="4.2" fill="#5a5a5a" opacity="0.8"/>
<circle cx="398.8" cy="926.5" r="4.2" fill="#5a5a5a" opacity="0.8"/>
<circle cx="350.5" cy="953.6" r="4.2" fill="#5a5a5a" opacity="0.8"/>
<circle cx="342.8" cy="957.7" r="4.2" fill="#5a5a5a" opacity="0.8"/>
<circle cx="364.8" cy="963.2" r="4.2" fill="#5a5a5a" opacity="0.8"/>
<circle cx="368.5" cy="961.3" r="4.2" fill="#5a5a5a" opacity="0.8"/>
<circle cx="335.1" cy="982.8" r="4.2" fill="#5a5a5a" opacity="0.8"/>
<circle cx="342.5" cy="987.8" r="4.2" fill="#5a5a5a" opacity="0.8"/>
<circle cx="380.4" cy="997.8" r="4.2" fill="#5a5a5a" opacity="0.8"/>
<circle cx="342.3" cy="1005.2" r="4.2" fill="#5a5a5a" opacity="0.8"/>
<circle cx="425.7" cy="1030.0" r="4.2" fill="#5a5a5a" opacity="0.8"/>
<circle cx="535.5" cy="885.6" r="4.2" fill="#4a4a4a"/>
<circle cx="479" cy="975.3" r="4.2" fill="#4a4a4a"/>
<circle cx="253.5" cy="1103" r="4.2" fill="#050505"/>
<circle cx="322.0" cy="1103" r="4.2" fill="#050505"/>
<circle cx="366.3" cy="1103" r="4.2" fill="#050505"/>
<circle cx="475.8" cy="1103" r="4.2" fill="#050505"/>
<circle cx="275.5" cy="921.9" r="5.1" fill="#ef8a6b" stroke="#1a1a1a" stroke-width="1.8"/>
<circle cx="331.2" cy="960.8" r="5.1" fill="#ef8a6b" stroke="#1a1a1a" stroke-width="1.8"/>
<circle cx="408.3" cy="940.8" r="5.1" fill="#ef8a6b" stroke="#1a1a1a" stroke-width="1.8"/>
<circle cx="403.3" cy="951.8" r="5.1" fill="#ef8a6b" stroke="#1a1a1a" stroke-width="1.8"/>
<circle cx="408.3" cy="952.7" r="5.1" fill="#ef8a6b" stroke="#1a1a1a" stroke-width="1.8"/>
<circle cx="395.1" cy="915.0" r="5.1" fill="#a5d68a" stroke="#1a1a1a" stroke-width="1.8"/>
<circle cx="382.8" cy="969.6" r="5.1" fill="#a5d68a" stroke="#1a1a1a" stroke-width="1.8"/>
<circle cx="428.5" cy="960.0" r="5.1" fill="#e9c25a" stroke="#1a1a1a" stroke-width="1.8"/>
<circle cx="456.1" cy="947.6" r="5.1" fill="#a68bc9" stroke="#1a1a1a" stroke-width="1.8"/>
<circle cx="405.2" cy="1102.9" r="5.1" fill="#b3c9ea" stroke="#1a1a1a" stroke-width="1.8"/>
<circle cx="459.8" cy="1102.9" r="5.1" fill="#3f84c7" stroke="#1a1a1a" stroke-width="1.8"/>
<circle cx="257.5" cy="815.0" r="3.9" fill="#ffffff" stroke="#111111" stroke-width="1.9"/>
<circle cx="159.4" cy="891.1" r="3.9" fill="#ffffff" stroke="#111111" stroke-width="1.9"/>
<circle cx="353.3" cy="866.4" r="3.9" fill="#ffffff" stroke="#111111" stroke-width="1.9"/>
<circle cx="389.0" cy="870.6" r="3.9" fill="#ffffff" stroke="#111111" stroke-width="1.9"/>
<circle cx="663.4" cy="869.6" r="5.2" fill="#ffffff" stroke="#111111" stroke-width="2.2"/>
<circle cx="663.4" cy="894" r="5.3" fill="#b5b5b5"/>
<text transform="translate(681.30 875.00) scale(1 1.045) translate(-681.30 -875.00)" x="681.30" y="875.00" font-size="18.2" textLength="141" lengthAdjust="spacingAndGlyphs">2’Ome-Spike-ins</text>
<text transform="translate(677.80 899.40) scale(1 1.045) translate(-677.80 -899.40)" x="677.80" y="899.40" font-size="18.2">miRNAs</text>
<circle cx="664" cy="929.4" r="6.0" fill="#e9c25a" stroke="#1a1a1a" stroke-width="1.8"/>
<text transform="translate(679.00 934.40) scale(1 1.045) translate(-679.00 -934.40)" x="679.00" y="934.40" font-size="18.2">miR-21</text>
<circle cx="664" cy="953.4" r="6.0" fill="#a68bc9" stroke="#1a1a1a" stroke-width="1.8"/>
<text transform="translate(679.00 958.40) scale(1 1.045) translate(-679.00 -958.40)" x="679.00" y="958.40" font-size="18.2">miR-150</text>
<circle cx="664" cy="978" r="6.0" fill="#a5d68a" stroke="#1a1a1a" stroke-width="1.8"/>
<text transform="translate(681.40 983.00) scale(1 1.045) translate(-681.40 -983.00)" x="681.40" y="983.00" font-size="18.2">miR-26 family</text>
<circle cx="664" cy="1002.4" r="6.0" fill="#ef8a6b" stroke="#1a1a1a" stroke-width="1.8"/>
<text transform="translate(681.40 1007.40) scale(1 1.045) translate(-681.40 -1007.40)" x="681.40" y="1007.40" font-size="18.2">miR-29 family</text>
<circle cx="664" cy="1068.6" r="6.0" fill="#3f84c7" stroke="#1a1a1a" stroke-width="1.8"/>
<text transform="translate(679.00 1073.60) scale(1 1.045) translate(-679.00 -1073.60)" x="679.00" y="1073.60" font-size="18.2">miR-451a</text>
<circle cx="664" cy="1093" r="6.0" fill="#b3c9ea" stroke="#1a1a1a" stroke-width="1.8"/>
<text transform="translate(681.00 1098.00) scale(1 1.045) translate(-681.00 -1098.00)" x="681.00" y="1098.00" font-size="18.2">miR-144-v1/2</text>
<line x1="818.00" y1="929.40" x2="818.00" y2="1003.60" stroke="#231f20" stroke-width="2.1"/>
<line x1="818.00" y1="1064.00" x2="818.00" y2="1098.40" stroke="#231f20" stroke-width="2.1"/>
<text x="835.80" y="966.00" font-size="16.5" text-anchor="middle" transform="translate(835.80 966.00) rotate(-90) scale(1 1.045) translate(-835.80 -966.00)">B cell</text>
<text x="856.60" y="965.50" font-size="16.5" text-anchor="middle" transform="translate(856.60 965.50) rotate(-90) scale(1 1.045) translate(-856.60 -965.50)">miRNAs</text>
<text x="836.50" y="1080.80" font-size="16.5" text-anchor="middle" transform="translate(836.50 1080.80) rotate(-90) scale(1 1.045) translate(-836.50 -1080.80)">Erythrocyte</text>
<text x="856.60" y="1080.50" font-size="16.5" text-anchor="middle" transform="translate(856.60 1080.50) rotate(-90) scale(1 1.045) translate(-856.60 -1080.50)">miRNAs</text>
</svg></div>
</body></html>
